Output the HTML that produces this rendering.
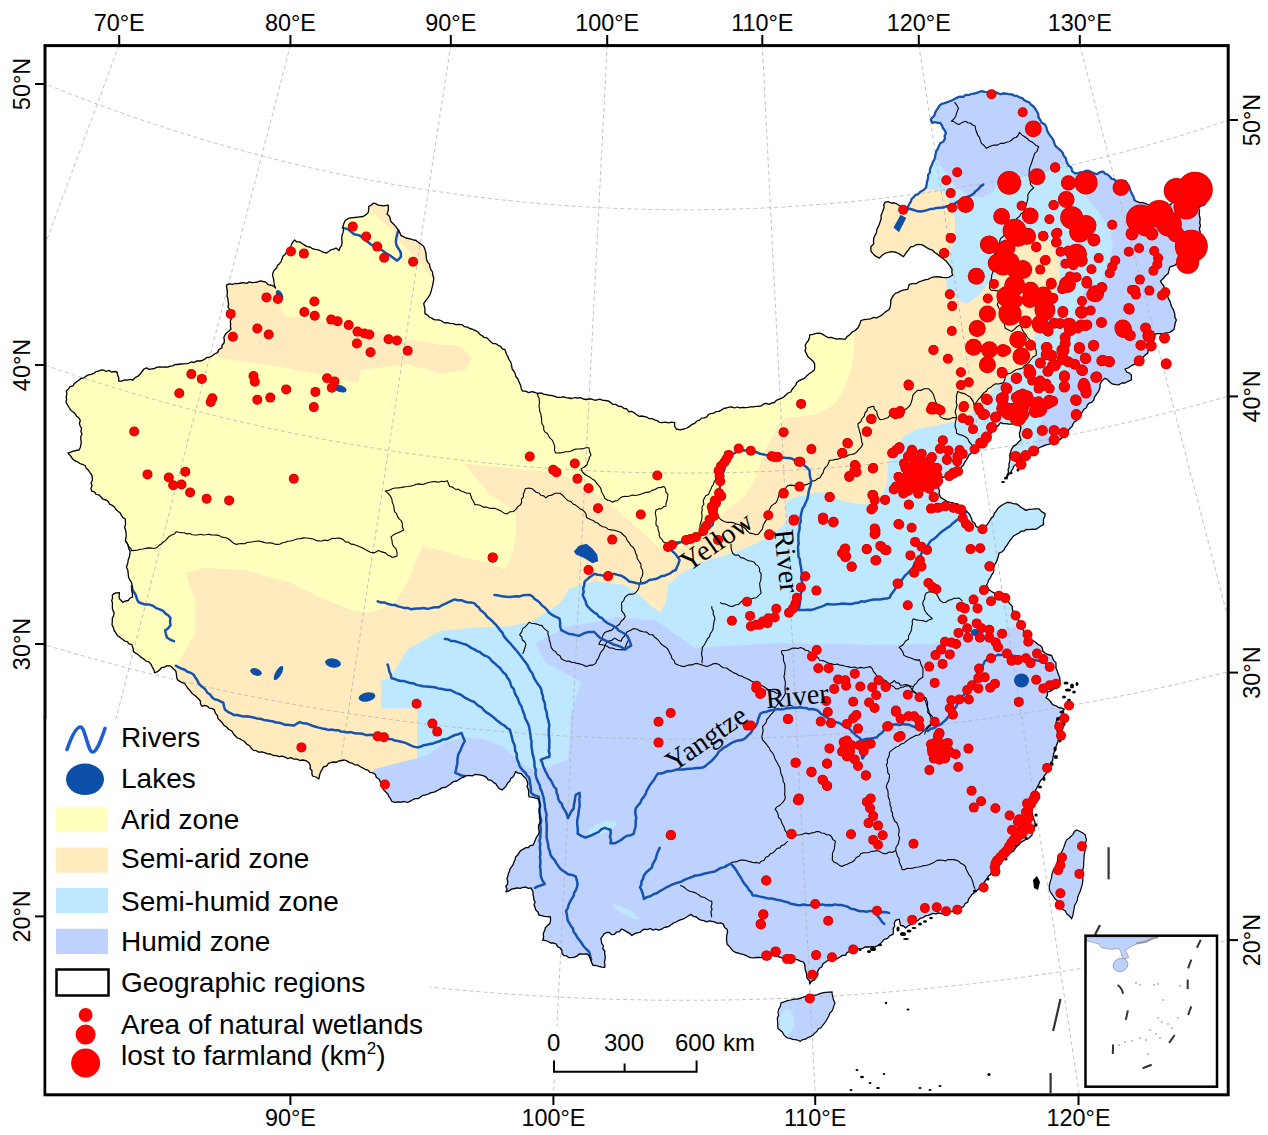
<!DOCTYPE html>
<html><head><meta charset="utf-8"><style>
html,body{margin:0;padding:0;background:#fff;}
svg{display:block;}
text{font-family:"Liberation Sans",sans-serif;}
.serif{font-family:"Liberation Serif",serif;}
</style></head><body>
<svg width="1268" height="1135" viewBox="0 0 1268 1135">
<defs><clipPath id="cn"><polygon points="66.3,391.0 68.3,389.1 70.0,386.7 73.0,385.9 74.5,383.4 76.7,381.7 79.0,380.0 81.2,378.4 83.9,377.9 86.1,376.1 88.5,374.9 91.2,374.3 93.7,373.4 95.9,371.7 98.6,371.2 101.0,370.0 103.7,370.1 106.2,371.5 109.1,370.3 111.6,372.2 114.4,371.5 117.0,372.0 117.6,375.0 118.8,377.9 118.7,381.0 121.6,381.2 124.4,380.0 127.3,380.1 130.1,379.3 133.0,380.0 135.0,377.6 138.0,376.2 140.2,374.0 142.1,371.5 144.0,369.0 146.5,367.9 149.3,369.3 151.9,368.9 154.5,368.5 157.1,367.2 159.7,366.8 162.4,367.1 165.0,367.0 167.7,367.2 170.2,366.1 172.8,365.9 175.2,364.5 177.9,364.5 180.5,364.0 183.3,363.9 186.0,363.7 188.8,363.3 191.3,361.8 194.2,362.5 196.8,360.9 199.6,361.0 202.3,360.5 204.6,359.1 206.8,357.5 209.6,357.1 212.0,356.0 214.5,354.0 217.5,352.6 219.0,349.4 222.0,348.0 222.0,345.3 224.0,343.0 224.4,340.3 223.8,337.5 225.0,335.0 226.7,332.7 229.0,331.0 231.0,329.0 230.4,326.4 230.7,323.8 230.2,321.2 231.4,318.6 231.0,316.0 229.3,313.2 229.8,309.7 228.0,307.0 228.6,304.2 228.1,301.5 227.9,298.7 227.0,296.0 227.4,293.2 227.3,290.5 226.7,287.8 226.5,285.0 229.3,283.8 232.3,284.4 235.2,283.5 238.1,283.6 241.0,283.0 243.7,282.7 246.6,283.4 249.2,281.9 252.0,282.7 254.8,282.4 257.5,282.0 260.2,280.9 263.0,281.5 265.9,282.1 268.0,284.6 271.0,285.0 273.6,286.1 275.7,288.0 274.5,285.5 274.0,282.9 273.8,280.2 273.2,277.6 272.5,275.0 273.1,272.3 274.4,270.0 276.6,268.1 277.4,265.6 279.5,263.7 281.1,261.6 282.0,259.0 283.0,256.2 285.2,254.3 286.6,251.8 288.8,249.8 290.6,247.6 291.4,244.7 292.7,242.1 294.7,240.0 296.8,241.9 300.0,241.9 302.2,243.7 304.6,245.1 307.0,246.6 310.0,247.0 312.5,248.7 315.3,249.4 318.3,249.8 321.0,251.0 323.6,252.4 326.5,253.0 328.7,251.5 330.9,249.8 333.6,249.2 336.0,248.0 339.1,250.6 339.9,247.8 341.6,245.5 342.1,242.4 341.7,239.1 341.9,236.0 342.9,232.9 343.6,229.8 342.9,226.6 343.9,223.3 345.4,220.3 347.8,218.7 350.5,217.8 354.3,217.5 358.0,217.1 363.1,216.5 365.8,214.9 368.1,212.7 368.8,209.6 368.8,206.4 371.3,205.2 373.2,203.2 375.9,203.7 378.2,205.1 383.3,205.8 388.3,205.1 388.3,210.2 387.1,214.0 389.6,216.5 390.9,221.5 393.5,224.0 395.9,226.6 398.4,230.4 399.9,232.8 400.9,235.4 403.4,236.7 406.0,238.0 411.0,239.2 413.5,240.0 416.1,240.5 418.5,242.6 421.1,244.3 423.6,246.3 424.9,249.3 425.8,252.4 426.2,255.6 426.4,258.8 427.4,261.9 429.4,264.1 430.0,267.0 430.9,269.7 432.5,272.0 432.8,275.2 433.8,278.3 433.3,282.1 432.5,285.9 431.2,290.9 430.0,294.7 428.2,297.3 426.2,299.8 423.7,303.6 424.9,308.6 424.9,313.7 427.4,314.8 429.2,317.0 431.7,318.1 434.0,319.6 436.7,319.8 439.4,320.0 441.9,321.2 444.2,322.8 447.0,322.7 450.0,323.4 453.0,323.7 455.9,324.7 459.0,324.3 462.0,324.6 464.4,326.7 467.4,327.1 469.9,328.5 472.8,329.3 475.4,330.6 478.0,332.0 479.7,334.2 482.0,335.6 484.0,337.4 487.0,337.9 488.9,339.9 490.8,341.8 492.9,343.6 495.9,343.7 498.2,345.3 500.6,346.4 502.4,348.9 505.0,349.7 506.6,354.5 508.1,356.8 508.8,359.4 510.5,361.6 511.4,364.1 511.8,366.8 512.4,369.5 514.2,371.7 515.3,374.1 516.0,376.7 517.8,378.7 518.8,381.2 519.8,383.6 520.8,386.0 521.3,388.7 522.5,391.0 525.7,391.1 528.6,392.6 531.9,391.7 535.0,392.5 537.7,393.7 540.8,392.8 543.5,394.1 546.3,394.7 549.1,395.4 552.0,395.5 554.8,396.3 557.6,397.3 560.5,397.3 563.4,396.8 566.2,397.7 569.0,398.0 571.9,398.5 574.8,397.5 577.6,398.2 580.5,397.6 583.3,399.0 586.1,399.5 589.0,399.0 591.7,399.0 594.3,400.1 597.0,400.0 599.7,399.1 602.3,400.2 605.0,400.5 608.0,400.9 610.6,402.4 612.9,404.4 616.1,404.4 618.5,406.3 621.6,406.5 624.0,408.4 626.9,409.0 628.7,411.6 631.9,411.5 634.4,412.9 636.7,414.7 639.0,416.3 641.9,416.0 644.4,416.6 647.0,417.2 649.4,418.7 652.1,418.7 654.6,419.8 657.1,420.6 659.3,422.3 662.0,422.7 665.2,422.1 668.4,422.9 671.5,422.2 674.7,422.7 674.6,426.1 676.3,429.0 680.1,429.9 684.0,429.0 687.0,428.0 689.6,426.4 691.9,424.3 694.8,423.3 697.0,421.0 699.5,420.1 701.5,418.1 704.3,417.8 706.8,416.9 708.5,414.3 711.0,413.5 713.9,413.2 716.0,411.6 718.8,411.3 721.3,410.1 723.7,408.5 726.4,408.0 729.0,407.1 731.8,406.8 734.4,408.0 737.3,407.0 740.0,407.9 742.6,407.4 745.3,407.7 748.0,407.4 750.6,406.9 753.3,406.8 755.9,406.3 758.7,406.4 761.3,405.9 763.7,404.0 766.3,403.3 769.2,404.3 771.7,403.0 774.4,402.5 776.3,400.4 778.7,399.3 781.2,398.3 783.8,397.0 785.9,395.0 788.0,393.0 790.8,392.0 792.0,389.5 793.7,387.4 795.6,385.4 796.6,382.8 798.7,380.9 801.5,379.7 804.4,378.4 806.6,376.1 809.1,373.8 811.9,372.0 814.5,369.8 814.7,366.6 814.5,363.4 812.8,360.9 810.5,359.0 808.2,357.1 806.6,353.9 805.0,350.8 805.9,348.2 805.2,345.3 806.6,342.8 808.4,340.5 809.4,337.8 809.8,334.9 813.0,334.4 816.1,333.3 819.4,333.2 822.5,334.1 825.3,336.0 828.3,337.6 831.3,337.3 834.0,338.4 836.8,339.1 839.6,338.6 842.5,339.2 845.3,339.1 847.1,336.6 849.6,334.8 852.0,332.1 855.2,330.5 857.8,328.0 859.5,324.9 860.9,320.6 864.4,319.5 868.0,319.2 870.9,318.8 873.5,317.4 876.5,317.8 879.4,316.5 882.2,314.9 885.1,312.1 889.3,309.2 890.3,306.5 890.7,303.6 890.7,300.7 891.9,297.8 893.6,295.1 895.6,293.1 898.4,292.4 900.7,290.8 904.2,289.8 907.8,289.4 909.2,284.4 912.7,283.7 916.3,283.7 918.9,281.8 922.0,280.9 924.8,279.8 927.8,279.3 930.5,278.0 933.3,277.1 936.2,276.6 939.4,277.0 942.5,277.4 945.7,277.7 948.9,277.3 952.5,275.2 951.9,272.3 952.0,269.3 950.4,266.7 948.3,263.8 946.1,261.0 943.3,258.8 940.4,256.7 937.7,254.4 934.7,252.5 932.8,250.3 930.2,249.3 927.6,248.2 923.4,245.4 919.9,244.3 916.3,244.7 913.7,246.3 910.6,246.8 908.6,249.7 906.3,252.5 903.5,256.7 899.2,253.9 896.5,252.5 893.6,251.8 890.7,251.7 887.9,252.5 884.8,253.4 882.2,255.3 879.4,258.1 876.5,256.7 874.3,255.1 872.5,253.1 870.9,251.0 870.9,246.8 873.7,243.9 873.5,241.1 873.7,238.3 874.9,235.4 876.5,232.6 876.8,229.5 878.2,226.9 879.4,224.1 880.3,221.3 881.2,218.5 881.0,215.4 882.2,212.7 883.1,210.1 884.1,207.5 883.8,204.6 885.1,202.1 888.2,201.7 891.0,203.0 894.1,202.9 897.0,204.0 899.6,205.8 902.5,207.0 904.3,209.1 907.0,210.0 908.0,207.1 909.0,204.3 910.7,201.8 911.7,198.9 913.6,197.1 915.4,195.1 918.0,194.2 920.4,191.7 923.4,190.1 926.0,187.8 926.5,185.2 926.8,182.5 927.6,179.9 928.0,177.3 928.2,174.7 929.9,172.4 929.9,169.7 930.7,167.2 932.0,164.8 932.7,162.2 934.3,159.8 935.0,157.2 935.5,154.5 936.0,151.6 937.6,149.2 938.7,146.6 940.1,143.4 943.3,141.6 945.0,138.7 944.5,136.0 945.9,133.4 945.0,130.7 943.0,128.3 941.9,125.4 940.3,122.8 937.6,122.8 935.0,122.2 932.3,122.8 930.7,119.6 932.4,117.4 934.4,115.5 935.2,112.6 936.5,110.2 938.2,108.0 939.5,105.6 941.8,103.8 944.5,103.2 947.0,102.2 949.6,101.3 952.1,100.4 954.5,99.0 957.2,97.6 960.0,96.6 963.2,96.9 965.7,94.9 968.8,95.0 971.3,93.9 973.9,93.6 976.5,92.9 979.0,92.1 981.5,91.1 984.7,91.9 987.8,92.0 991.0,91.1 994.3,91.8 997.4,92.9 1000.5,94.3 1003.3,93.4 1006.0,93.6 1008.8,94.2 1011.6,94.3 1014.1,95.6 1017.0,95.9 1019.5,97.4 1022.2,98.0 1024.1,100.1 1026.5,101.3 1029.0,102.2 1031.0,104.6 1033.5,106.5 1035.4,109.0 1037.0,111.7 1038.4,114.2 1038.4,117.2 1040.0,119.6 1041.6,122.8 1045.0,124.4 1046.5,127.6 1047.0,130.3 1048.2,132.6 1049.6,134.9 1051.3,137.0 1053.3,140.0 1054.4,143.4 1055.6,146.1 1057.7,148.0 1060.0,149.8 1062.5,152.5 1063.8,155.9 1065.7,157.9 1066.3,160.6 1067.2,163.1 1068.5,165.4 1071.3,167.5 1072.1,171.2 1074.9,173.3 1077.8,173.1 1080.6,172.4 1083.5,171.8 1086.2,170.7 1089.2,170.9 1091.7,172.4 1094.3,173.4 1097.1,174.1 1099.9,172.1 1103.4,171.7 1105.2,173.7 1107.8,174.7 1109.8,176.5 1111.4,178.7 1114.2,179.4 1116.1,181.2 1119.3,180.7 1122.4,180.7 1125.6,181.2 1127.1,183.4 1128.7,185.6 1129.7,188.1 1130.4,190.7 1132.0,193.9 1133.6,197.1 1134.8,200.7 1137.3,201.7 1139.8,202.6 1142.6,202.7 1145.2,203.4 1147.7,204.5 1150.0,206.0 1153.0,206.7 1156.0,205.3 1159.0,206.3 1162.0,206.1 1165.0,206.0 1167.6,205.2 1170.3,204.7 1172.3,202.6 1175.1,202.3 1177.5,201.0 1180.0,200.0 1182.9,199.0 1186.0,198.2 1188.9,197.1 1191.8,196.1 1195.0,196.0 1198.2,197.4 1201.6,197.6 1205.0,198.0 1206.0,203.0 1203.9,205.2 1200.8,206.0 1198.6,208.2 1199.6,210.9 1199.1,213.8 1199.6,216.5 1200.2,219.3 1199.7,222.5 1200.4,225.7 1199.4,228.8 1200.2,232.0 1198.4,234.4 1197.4,237.2 1196.4,240.1 1194.8,242.5 1193.5,245.2 1191.4,247.4 1190.0,250.0 1187.9,251.6 1186.3,253.7 1184.8,255.8 1183.4,258.1 1182.0,260.3 1180.0,262.0 1177.1,263.2 1174.8,265.3 1170.0,266.9 1168.9,270.0 1168.4,273.2 1165.8,275.4 1163.7,278.0 1160.5,281.1 1162.0,283.6 1163.7,285.9 1164.8,289.3 1166.9,292.2 1167.5,295.4 1168.4,298.6 1169.9,301.1 1170.7,303.8 1171.6,306.5 1173.0,309.0 1174.1,311.6 1174.8,314.4 1174.9,317.4 1176.4,320.0 1175.2,323.1 1174.6,326.3 1174.0,329.5 1171.7,331.1 1169.3,332.6 1166.4,332.9 1163.7,333.9 1160.7,333.6 1157.8,333.7 1155.0,334.2 1154.8,336.9 1154.0,339.4 1153.5,342.0 1151.1,344.8 1150.3,348.4 1148.1,350.1 1147.8,353.1 1145.6,354.7 1143.3,356.9 1142.0,359.7 1140.9,362.6 1137.6,363.1 1134.4,364.1 1131.4,365.7 1128.4,367.8 1125.0,369.0 1126.7,372.0 1129.4,373.1 1131.4,375.2 1131.4,380.0 1128.1,381.3 1125.0,383.0 1121.8,383.0 1118.9,384.8 1115.6,384.7 1112.1,383.9 1109.3,381.5 1107.4,379.3 1104.6,378.4 1101.5,381.5 1100.0,384.5 1100.0,387.8 1098.7,391.1 1096.7,394.0 1094.6,396.9 1093.6,400.4 1091.7,402.3 1089.0,403.1 1087.3,405.2 1086.4,407.8 1083.9,409.3 1082.5,411.5 1081.3,413.9 1079.2,415.6 1077.8,417.8 1076.9,420.4 1074.4,421.8 1073.0,424.0 1072.0,426.6 1069.9,428.3 1068.3,430.4 1067.3,433.2 1065.0,435.0 1063.1,436.8 1061.3,438.7 1058.9,439.9 1055.9,441.7 1052.6,443.0 1049.4,444.1 1046.1,444.9 1043.0,446.2 1039.8,447.5 1036.8,449.3 1034.2,450.3 1031.3,450.8 1028.9,452.5 1026.3,454.2 1024.0,456.2 1021.0,457.2 1019.2,459.4 1017.9,462.0 1016.5,464.3 1014.0,465.7 1013.0,468.3 1011.6,470.5 1010.6,473.0 1008.4,474.6 1006.8,477.7 1007.0,475.0 1008.5,472.4 1008.1,469.6 1009.2,467.0 1008.9,464.2 1009.7,461.5 1010.0,458.8 1009.7,455.5 1010.5,452.4 1011.5,449.3 1013.4,446.4 1016.3,444.6 1018.5,442.1 1021.0,439.9 1019.9,436.8 1019.4,433.6 1020.3,430.5 1021.0,427.3 1017.9,424.0 1014.7,423.7 1011.5,424.0 1008.7,424.1 1005.9,423.7 1003.1,423.7 1000.5,422.5 998.6,425.4 995.8,427.3 994.4,429.5 992.0,431.1 991.0,433.6 989.9,436.5 988.0,438.9 986.3,441.4 984.6,444.4 981.6,446.2 978.4,447.2 975.4,448.5 973.4,450.8 971.3,453.0 969.0,455.0 967.7,457.6 966.3,460.1 964.6,462.4 963.5,465.1 961.2,467.1 960.0,469.7 956.6,471.4 954.1,474.4 951.4,474.9 949.3,476.8 944.5,476.8 941.4,477.6 939.8,481.5 939.2,484.8 938.2,487.9 939.5,490.5 939.0,493.4 940.6,497.4 944.5,499.8 946.7,501.4 949.3,502.2 951.9,502.6 954.6,503.3 957.2,503.7 959.1,505.6 961.0,507.5 963.4,508.7 965.5,510.2 967.5,512.0 969.3,514.1 970.6,516.4 971.6,518.9 972.3,521.5 974.8,523.2 975.9,526.3 978.6,527.9 981.8,528.8 985.0,529.4 985.8,526.2 987.9,523.7 989.6,521.0 991.3,518.3 993.4,516.3 994.3,513.5 996.1,511.2 997.6,508.8 999.5,506.9 1001.7,505.3 1004.0,504.0 1006.8,502.5 1010.0,502.5 1013.2,503.7 1016.7,504.0 1019.0,505.6 1021.1,507.5 1023.6,508.9 1026.0,510.4 1029.1,509.3 1032.4,509.2 1035.6,508.9 1038.9,508.8 1041.6,511.6 1045.0,513.6 1044.9,516.4 1043.5,519.0 1043.4,521.9 1043.6,524.7 1040.8,526.0 1038.3,527.8 1035.7,529.4 1032.5,529.1 1029.2,529.7 1026.0,529.4 1024.0,531.2 1021.1,531.2 1019.1,533.1 1016.7,534.2 1013.9,535.7 1011.9,538.1 1010.0,540.5 1008.4,542.8 1007.1,545.3 1005.2,547.4 1004.0,550.0 1001.7,552.0 999.0,553.2 998.3,556.4 997.3,559.6 996.0,562.7 994.5,565.0 993.4,567.5 993.9,570.6 993.0,573.2 991.3,575.4 990.3,577.9 988.6,580.1 987.8,582.7 986.5,585.0 987.7,587.4 989.0,589.7 991.3,591.3 993.5,592.7 995.9,593.9 998.7,594.2 1000.8,596.0 1003.0,598.1 1005.2,600.2 1008.1,601.6 1010.0,604.0 1012.1,606.1 1012.4,609.2 1013.2,612.0 1015.1,614.3 1016.7,616.7 1018.4,619.0 1018.6,622.1 1020.8,624.2 1022.0,626.7 1023.0,629.4 1024.1,631.9 1025.8,634.1 1027.2,636.5 1028.8,638.7 1031.0,640.5 1033.8,641.0 1035.9,642.6 1038.0,644.5 1040.4,645.6 1042.2,647.7 1042.7,650.7 1044.6,652.7 1047.9,654.5 1051.6,655.5 1052.6,658.1 1053.8,660.6 1055.9,662.6 1056.0,665.5 1056.0,668.3 1057.3,671.0 1058.3,674.3 1059.7,677.4 1060.0,680.9 1058.6,684.4 1057.3,688.0 1054.5,688.3 1052.3,689.9 1050.0,691.4 1047.4,692.2 1047.4,695.2 1046.0,697.8 1048.3,699.2 1050.2,701.1 1051.6,703.4 1053.8,705.2 1056.5,706.0 1058.7,707.7 1061.5,708.2 1064.3,709.0 1062.8,711.6 1062.9,714.7 1060.3,717.1 1057.3,719.0 1056.3,721.7 1055.9,724.6 1056.9,728.0 1057.3,731.6 1058.2,735.1 1058.7,738.7 1057.9,741.5 1056.9,744.3 1055.9,747.0 1055.8,749.7 1054.2,751.9 1053.6,754.5 1053.0,757.0 1052.7,760.5 1050.3,763.4 1050.2,766.9 1047.6,769.2 1046.8,772.7 1044.6,775.3 1043.0,778.3 1040.4,780.7 1039.0,783.8 1037.6,786.6 1036.0,789.3 1034.7,792.2 1033.8,795.1 1033.4,798.0 1033.8,801.1 1032.9,803.9 1031.9,806.8 1032.0,809.8 1031.9,812.5 1032.6,815.0 1033.3,817.5 1034.1,820.0 1035.0,822.5 1035.1,825.8 1033.7,828.8 1032.4,831.8 1032.0,835.0 1030.1,837.0 1028.1,838.9 1025.4,839.7 1023.0,841.1 1020.6,842.4 1019.0,844.7 1016.6,846.5 1014.9,848.9 1013.3,851.5 1010.4,852.7 1008.1,854.4 1006.5,857.0 1004.4,859.1 1002.2,861.3 1000.7,864.0 998.3,865.9 995.8,867.7 993.8,870.0 991.7,871.8 990.8,874.4 988.4,876.0 987.1,878.4 985.6,880.5 984.0,882.7 982.5,885.0 980.0,886.3 978.9,888.9 976.7,890.5 974.7,892.3 972.3,894.2 970.5,896.6 968.6,898.9 967.8,902.1 965.0,903.7 963.7,906.5 961.2,907.8 958.9,909.5 955.8,909.6 953.6,911.5 950.4,911.6 947.4,912.4 944.7,914.1 941.5,913.7 938.4,912.8 936.0,913.9 933.2,913.3 930.7,914.3 928.3,915.3 925.4,915.9 923.1,917.5 920.3,918.3 918.2,920.4 914.8,921.9 911.9,924.2 908.5,925.6 905.6,928.0 903.5,926.0 900.6,925.4 899.8,922.3 899.3,919.1 895.5,920.4 894.3,923.0 894.7,926.0 893.2,928.6 893.4,931.5 893.0,934.3 889.9,935.7 887.6,938.4 884.2,939.3 882.3,941.6 880.3,943.8 877.9,945.6 874.8,946.8 871.6,946.6 868.4,947.0 865.2,946.9 862.9,948.3 860.3,948.8 857.5,948.6 855.3,950.4 852.6,950.7 849.9,951.6 847.2,952.4 845.4,955.3 842.4,955.4 840.0,957.0 837.3,958.6 834.4,959.5 831.5,960.3 828.2,960.3 825.6,962.0 823.0,963.7 821.9,966.8 819.3,968.4 817.7,971.4 817.8,975.0 816.0,978.0 814.1,980.2 811.2,981.4 809.8,984.0 809.4,980.7 807.0,978.0 806.6,974.7 806.1,972.1 805.2,969.7 805.0,967.0 804.7,964.4 803.4,962.0 800.3,961.1 797.3,959.7 794.1,959.0 790.8,958.9 788.0,959.0 785.2,958.8 782.5,958.1 779.9,957.1 777.2,956.3 774.5,955.5 771.7,955.7 768.7,956.0 765.8,956.8 763.0,957.7 759.8,957.5 756.6,957.4 753.5,957.9 750.3,957.7 747.9,956.5 745.6,955.4 743.1,954.4 740.6,953.8 738.1,953.0 735.5,952.4 732.8,950.8 731.0,948.4 729.1,946.2 727.0,944.0 726.7,941.0 726.5,938.1 726.8,935.1 727.6,932.2 727.0,929.2 724.6,927.4 723.4,924.4 720.7,922.8 717.8,923.3 715.0,922.2 712.3,921.4 709.5,920.9 706.5,921.9 703.8,920.7 701.0,920.1 698.4,918.9 696.2,916.8 693.3,916.3 691.1,914.4 688.6,915.8 686.2,917.3 683.8,918.8 681.0,919.6 678.4,920.7 676.0,922.0 673.5,923.0 671.3,924.6 669.1,926.3 666.5,927.0 663.8,927.7 661.5,929.2 658.7,930.1 655.9,929.2 653.0,930.1 650.2,928.5 647.4,929.7 644.6,929.2 642.0,930.4 639.8,932.4 636.9,932.9 634.2,933.8 631.9,935.5 629.6,933.3 626.9,931.9 624.3,930.2 621.3,929.2 619.5,931.6 616.4,932.2 614.4,934.4 611.6,934.6 609.4,932.5 606.7,932.5 604.1,933.8 602.6,936.1 600.9,938.3 601.3,940.9 601.8,943.6 603.5,945.9 602.8,948.8 604.8,951.0 604.7,953.8 605.2,956.5 605.1,959.2 604.4,962.0 604.9,964.7 604.7,967.4 601.8,967.1 598.9,966.4 596.1,965.5 593.1,965.4 591.2,961.6 590.4,958.7 589.2,956.1 587.3,953.8 583.4,954.2 579.5,953.8 577.3,955.8 574.7,957.1 571.8,957.7 569.0,957.7 566.7,955.9 564.0,955.7 562.1,953.5 561.9,950.4 560.2,948.0 557.6,946.7 556.3,944.1 553.7,943.0 550.7,943.0 548.2,941.5 545.5,940.5 542.7,940.2 543.6,937.0 543.3,933.6 544.7,930.5 545.4,927.7 547.4,925.6 549.7,923.7 550.5,920.9 550.5,917.0 547.6,916.6 544.6,916.4 541.7,915.6 538.8,915.0 538.1,912.2 535.8,910.1 535.0,907.3 534.0,904.8 535.1,902.0 533.9,899.6 533.6,897.0 533.0,894.4 533.0,891.8 531.1,887.9 528.4,888.4 525.7,887.2 522.9,887.4 520.2,888.3 517.5,887.9 514.5,888.5 511.5,889.1 508.8,891.0 505.9,891.8 507.1,889.3 505.8,886.5 507.5,884.1 507.8,881.5 507.0,878.8 507.8,876.3 508.4,873.7 509.4,871.3 510.1,868.8 511.7,866.6 513.2,864.4 514.0,861.9 515.1,859.5 515.6,856.9 517.7,855.1 519.1,852.7 520.8,850.5 523.3,849.1 525.6,847.7 528.3,847.7 530.3,845.4 533.0,845.3 534.2,843.0 535.0,840.5 536.1,838.1 537.4,835.8 538.8,833.6 539.1,830.9 538.5,828.1 538.6,825.3 540.0,822.6 540.0,819.8 539.4,817.0 539.8,814.3 539.1,811.2 539.6,808.1 540.0,804.9 539.5,801.9 538.8,798.8 535.5,798.2 532.4,797.2 529.1,796.8 528.5,794.2 528.8,791.6 528.2,789.0 527.0,786.6 527.8,783.8 527.2,781.3 525.8,778.3 523.3,776.2 521.4,773.6 518.3,773.2 515.6,771.6 514.5,774.2 513.2,776.7 510.7,778.6 509.8,781.3 507.5,783.2 506.2,785.9 504.2,788.1 502.0,790.0 499.4,788.7 497.5,786.5 495.9,783.9 493.4,782.4 491.4,780.4 488.2,779.8 486.5,777.4 483.8,775.9 480.9,775.2 477.9,774.7 474.9,774.5 472.2,775.9 468.9,775.3 466.0,775.8 463.3,777.4 460.8,778.2 458.6,779.7 456.4,781.2 453.7,781.5 451.6,783.1 449.5,784.7 447.3,786.3 445.0,787.5 442.2,787.6 440.0,789.1 437.1,790.6 434.2,792.1 431.0,792.6 428.5,794.0 425.8,794.9 422.9,795.3 420.5,797.0 418.1,798.7 415.0,798.7 412.4,800.0 409.9,801.3 407.3,802.5 404.3,801.5 401.1,802.2 398.0,802.0 394.8,802.3 391.8,801.3 390.5,798.7 388.8,796.4 387.7,793.7 385.5,791.8 383.4,789.6 382.8,786.8 381.5,784.2 380.2,781.6 379.0,779.0 376.4,777.5 375.3,774.5 372.8,772.8 369.9,772.3 367.8,770.1 365.0,769.3 362.5,767.9 360.0,766.5 357.6,764.9 354.6,764.8 352.2,763.2 349.4,762.6 347.0,760.9 344.3,760.0 341.6,760.5 338.9,760.8 336.5,762.4 333.7,762.0 331.0,762.5 328.4,763.3 326.8,766.0 323.5,766.9 322.0,769.6 320.4,772.5 319.4,775.7 318.9,779.0 315.9,777.0 312.5,776.0 311.9,773.5 312.0,770.7 310.0,768.5 310.4,765.7 309.4,763.3 306.6,760.9 303.0,760.0 299.9,760.5 296.9,759.1 293.8,759.1 291.0,757.7 287.8,758.6 285.0,757.2 282.2,756.1 279.1,756.6 276.2,755.6 273.2,755.5 270.4,754.0 267.4,753.8 264.6,752.7 261.7,751.9 258.6,752.1 256.4,750.7 253.5,750.4 251.5,748.5 249.6,745.8 246.6,744.1 244.5,741.5 242.2,740.2 239.9,738.8 237.4,738.0 233.9,734.5 231.9,731.2 228.6,729.2 226.6,727.0 223.9,725.4 222.3,722.8 220.3,720.7 218.1,718.6 217.3,715.5 215.2,712.9 214.5,709.8 212.2,708.6 209.5,708.2 207.5,706.3 204.8,705.4 202.2,706.3 200.5,703.9 200.4,701.0 197.9,698.3 195.2,695.7 192.1,693.5 189.9,690.4 187.8,688.3 186.2,685.8 184.6,683.4 182.0,682.6 179.7,681.4 177.5,679.8 176.6,676.9 176.4,673.9 175.8,671.0 172.2,667.5 169.9,665.8 167.0,665.7 164.5,667.1 161.7,667.5 159.7,669.7 157.5,671.7 154.6,672.8 153.9,669.8 152.4,667.3 151.2,664.6 149.3,662.2 146.0,661.0 143.4,658.8 140.5,656.9 138.4,654.9 135.9,653.3 133.5,651.6 133.0,648.0 131.7,644.6 129.1,643.9 127.4,641.6 124.7,641.1 122.4,639.2 120.1,637.4 117.6,635.8 116.0,633.1 114.1,630.5 113.4,627.6 112.0,624.8 112.3,621.7 112.3,618.6 113.5,615.8 114.1,612.9 112.5,609.5 112.3,605.8 112.5,603.1 111.7,600.5 112.6,597.9 112.3,595.2 114.1,593.5 116.7,592.9 119.4,592.6 119.1,595.7 119.4,598.8 122.9,602.3 125.4,601.0 128.2,600.5 130.0,598.2 132.6,597.0 132.4,593.5 131.7,590.0 132.3,586.5 131.7,582.9 130.0,580.2 128.6,577.3 128.2,574.1 127.9,570.4 126.4,567.0 127.7,563.6 128.2,560.0 129.3,557.0 129.9,554.0 130.0,550.8 128.7,548.4 128.4,545.6 127.1,543.2 125.4,541.0 125.9,538.2 126.2,535.5 126.1,532.8 125.5,530.0 124.6,527.2 125.6,524.5 125.4,521.8 125.4,519.0 122.9,517.7 121.4,515.4 120.2,512.9 118.0,511.2 116.0,509.5 114.5,507.0 112.3,505.4 109.6,504.2 108.3,501.6 106.0,500.0 103.1,499.2 101.0,497.0 99.0,494.9 96.1,494.3 94.5,491.8 91.7,491.0 90.9,488.3 92.1,485.7 91.0,483.0 92.4,480.3 92.3,477.7 91.7,475.0 90.0,472.6 88.4,470.2 86.3,468.2 85.0,465.5 82.4,464.4 79.8,463.5 77.5,461.8 74.9,460.9 72.7,459.0 70.5,455.9 68.0,453.0 70.7,452.2 73.4,451.2 76.2,450.5 79.0,450.0 80.3,447.5 80.8,444.8 81.3,442.2 80.8,439.3 80.8,436.5 82.0,434.0 80.9,431.4 81.6,428.5 80.2,426.0 79.4,423.5 80.3,420.5 79.0,418.0 76.7,416.3 75.3,413.9 73.2,412.1 70.9,410.4 69.5,408.0 67.6,405.1 66.0,402.0 66.6,399.3 66.2,396.5 66.9,393.8"/><polygon points="778.0,1012.8 778.6,1009.4 780.4,1006.4 781.0,1003.0 784.2,1001.9 787.5,1000.7 790.8,1000.0 793.9,999.1 797.2,999.1 800.4,998.4 803.4,997.0 806.0,996.2 808.6,995.6 811.3,995.1 814.1,995.3 816.8,994.9 819.3,993.8 822.4,992.9 825.6,992.4 828.8,992.2 832.0,992.0 832.3,994.9 833.0,997.6 833.6,1000.4 835.0,1003.0 833.9,1005.6 833.1,1008.5 831.9,1011.1 829.7,1013.2 828.8,1016.0 827.4,1018.5 826.0,1021.0 824.3,1023.3 822.5,1025.5 821.0,1027.8 818.3,1028.9 816.9,1031.3 814.9,1033.1 813.0,1035.0 810.6,1036.7 807.9,1037.5 805.5,1039.1 802.6,1039.6 800.3,1041.4 797.9,1040.2 795.3,1039.7 792.7,1039.3 790.2,1038.4 787.6,1038.0 785.3,1036.6 783.6,1034.4 782.2,1032.0 780.2,1030.3 778.0,1028.7 777.7,1026.0 777.8,1023.4 777.5,1020.8 777.3,1018.1 778.6,1015.4"/><polygon points="1049.4,889.1 1049.2,886.0 1049.9,883.1 1050.8,880.2 1051.6,877.3 1051.9,874.3 1052.8,871.8 1053.7,869.2 1055.5,867.1 1056.6,864.6 1057.4,862.0 1057.8,859.3 1059.3,857.0 1060.7,854.7 1061.6,852.1 1062.8,849.8 1063.8,847.3 1064.7,844.7 1065.5,842.2 1066.7,839.8 1069.0,838.2 1071.0,836.3 1073.0,834.3 1074.3,831.7 1076.5,829.9 1079.6,831.2 1082.5,832.8 1085.2,834.8 1086.4,839.8 1085.7,842.6 1085.0,845.4 1085.6,848.5 1084.9,851.3 1084.3,854.1 1084.0,857.0 1084.0,859.8 1083.6,862.5 1083.7,865.2 1083.3,868.0 1082.6,870.7 1082.8,873.4 1082.3,876.2 1083.0,879.0 1082.7,881.7 1082.2,884.9 1081.2,888.0 1080.3,891.1 1079.0,894.1 1077.7,896.9 1077.4,900.1 1076.0,903.0 1074.5,905.8 1074.1,908.9 1073.4,912.2 1072.8,915.6 1071.6,918.8 1069.5,915.9 1066.7,913.8 1065.4,910.9 1062.5,909.3 1061.5,906.2 1059.3,904.0 1058.0,901.1 1055.4,899.2 1053.6,896.7 1051.9,894.1 1050.3,891.8"/></clipPath>
<clipPath id="frame"><rect x="45" y="45" width="1183" height="1049"/></clipPath></defs>
<rect width="1268" height="1135" fill="#fff"/>

<polygon points="66.3,391.0 68.3,389.1 70.0,386.7 73.0,385.9 74.5,383.4 76.7,381.7 79.0,380.0 81.2,378.4 83.9,377.9 86.1,376.1 88.5,374.9 91.2,374.3 93.7,373.4 95.9,371.7 98.6,371.2 101.0,370.0 103.7,370.1 106.2,371.5 109.1,370.3 111.6,372.2 114.4,371.5 117.0,372.0 117.6,375.0 118.8,377.9 118.7,381.0 121.6,381.2 124.4,380.0 127.3,380.1 130.1,379.3 133.0,380.0 135.0,377.6 138.0,376.2 140.2,374.0 142.1,371.5 144.0,369.0 146.5,367.9 149.3,369.3 151.9,368.9 154.5,368.5 157.1,367.2 159.7,366.8 162.4,367.1 165.0,367.0 167.7,367.2 170.2,366.1 172.8,365.9 175.2,364.5 177.9,364.5 180.5,364.0 183.3,363.9 186.0,363.7 188.8,363.3 191.3,361.8 194.2,362.5 196.8,360.9 199.6,361.0 202.3,360.5 204.6,359.1 206.8,357.5 209.6,357.1 212.0,356.0 214.5,354.0 217.5,352.6 219.0,349.4 222.0,348.0 222.0,345.3 224.0,343.0 224.4,340.3 223.8,337.5 225.0,335.0 226.7,332.7 229.0,331.0 231.0,329.0 230.4,326.4 230.7,323.8 230.2,321.2 231.4,318.6 231.0,316.0 229.3,313.2 229.8,309.7 228.0,307.0 228.6,304.2 228.1,301.5 227.9,298.7 227.0,296.0 227.4,293.2 227.3,290.5 226.7,287.8 226.5,285.0 229.3,283.8 232.3,284.4 235.2,283.5 238.1,283.6 241.0,283.0 243.7,282.7 246.6,283.4 249.2,281.9 252.0,282.7 254.8,282.4 257.5,282.0 260.2,280.9 263.0,281.5 265.9,282.1 268.0,284.6 271.0,285.0 273.6,286.1 275.7,288.0 274.5,285.5 274.0,282.9 273.8,280.2 273.2,277.6 272.5,275.0 273.1,272.3 274.4,270.0 276.6,268.1 277.4,265.6 279.5,263.7 281.1,261.6 282.0,259.0 283.0,256.2 285.2,254.3 286.6,251.8 288.8,249.8 290.6,247.6 291.4,244.7 292.7,242.1 294.7,240.0 296.8,241.9 300.0,241.9 302.2,243.7 304.6,245.1 307.0,246.6 310.0,247.0 312.5,248.7 315.3,249.4 318.3,249.8 321.0,251.0 323.6,252.4 326.5,253.0 328.7,251.5 330.9,249.8 333.6,249.2 336.0,248.0 339.1,250.6 339.9,247.8 341.6,245.5 342.1,242.4 341.7,239.1 341.9,236.0 342.9,232.9 343.6,229.8 342.9,226.6 343.9,223.3 345.4,220.3 347.8,218.7 350.5,217.8 354.3,217.5 358.0,217.1 363.1,216.5 365.8,214.9 368.1,212.7 368.8,209.6 368.8,206.4 371.3,205.2 373.2,203.2 375.9,203.7 378.2,205.1 383.3,205.8 388.3,205.1 388.3,210.2 387.1,214.0 389.6,216.5 390.9,221.5 393.5,224.0 395.9,226.6 398.4,230.4 399.9,232.8 400.9,235.4 403.4,236.7 406.0,238.0 411.0,239.2 413.5,240.0 416.1,240.5 418.5,242.6 421.1,244.3 423.6,246.3 424.9,249.3 425.8,252.4 426.2,255.6 426.4,258.8 427.4,261.9 429.4,264.1 430.0,267.0 430.9,269.7 432.5,272.0 432.8,275.2 433.8,278.3 433.3,282.1 432.5,285.9 431.2,290.9 430.0,294.7 428.2,297.3 426.2,299.8 423.7,303.6 424.9,308.6 424.9,313.7 427.4,314.8 429.2,317.0 431.7,318.1 434.0,319.6 436.7,319.8 439.4,320.0 441.9,321.2 444.2,322.8 447.0,322.7 450.0,323.4 453.0,323.7 455.9,324.7 459.0,324.3 462.0,324.6 464.4,326.7 467.4,327.1 469.9,328.5 472.8,329.3 475.4,330.6 478.0,332.0 479.7,334.2 482.0,335.6 484.0,337.4 487.0,337.9 488.9,339.9 490.8,341.8 492.9,343.6 495.9,343.7 498.2,345.3 500.6,346.4 502.4,348.9 505.0,349.7 506.6,354.5 508.1,356.8 508.8,359.4 510.5,361.6 511.4,364.1 511.8,366.8 512.4,369.5 514.2,371.7 515.3,374.1 516.0,376.7 517.8,378.7 518.8,381.2 519.8,383.6 520.8,386.0 521.3,388.7 522.5,391.0 525.7,391.1 528.6,392.6 531.9,391.7 535.0,392.5 537.7,393.7 540.8,392.8 543.5,394.1 546.3,394.7 549.1,395.4 552.0,395.5 554.8,396.3 557.6,397.3 560.5,397.3 563.4,396.8 566.2,397.7 569.0,398.0 571.9,398.5 574.8,397.5 577.6,398.2 580.5,397.6 583.3,399.0 586.1,399.5 589.0,399.0 591.7,399.0 594.3,400.1 597.0,400.0 599.7,399.1 602.3,400.2 605.0,400.5 608.0,400.9 610.6,402.4 612.9,404.4 616.1,404.4 618.5,406.3 621.6,406.5 624.0,408.4 626.9,409.0 628.7,411.6 631.9,411.5 634.4,412.9 636.7,414.7 639.0,416.3 641.9,416.0 644.4,416.6 647.0,417.2 649.4,418.7 652.1,418.7 654.6,419.8 657.1,420.6 659.3,422.3 662.0,422.7 665.2,422.1 668.4,422.9 671.5,422.2 674.7,422.7 674.6,426.1 676.3,429.0 680.1,429.9 684.0,429.0 687.0,428.0 689.6,426.4 691.9,424.3 694.8,423.3 697.0,421.0 699.5,420.1 701.5,418.1 704.3,417.8 706.8,416.9 708.5,414.3 711.0,413.5 713.9,413.2 716.0,411.6 718.8,411.3 721.3,410.1 723.7,408.5 726.4,408.0 729.0,407.1 731.8,406.8 734.4,408.0 737.3,407.0 740.0,407.9 742.6,407.4 745.3,407.7 748.0,407.4 750.6,406.9 753.3,406.8 755.9,406.3 758.7,406.4 761.3,405.9 763.7,404.0 766.3,403.3 769.2,404.3 771.7,403.0 774.4,402.5 776.3,400.4 778.7,399.3 781.2,398.3 783.8,397.0 785.9,395.0 788.0,393.0 790.8,392.0 792.0,389.5 793.7,387.4 795.6,385.4 796.6,382.8 798.7,380.9 801.5,379.7 804.4,378.4 806.6,376.1 809.1,373.8 811.9,372.0 814.5,369.8 814.7,366.6 814.5,363.4 812.8,360.9 810.5,359.0 808.2,357.1 806.6,353.9 805.0,350.8 805.9,348.2 805.2,345.3 806.6,342.8 808.4,340.5 809.4,337.8 809.8,334.9 813.0,334.4 816.1,333.3 819.4,333.2 822.5,334.1 825.3,336.0 828.3,337.6 831.3,337.3 834.0,338.4 836.8,339.1 839.6,338.6 842.5,339.2 845.3,339.1 847.1,336.6 849.6,334.8 852.0,332.1 855.2,330.5 857.8,328.0 859.5,324.9 860.9,320.6 864.4,319.5 868.0,319.2 870.9,318.8 873.5,317.4 876.5,317.8 879.4,316.5 882.2,314.9 885.1,312.1 889.3,309.2 890.3,306.5 890.7,303.6 890.7,300.7 891.9,297.8 893.6,295.1 895.6,293.1 898.4,292.4 900.7,290.8 904.2,289.8 907.8,289.4 909.2,284.4 912.7,283.7 916.3,283.7 918.9,281.8 922.0,280.9 924.8,279.8 927.8,279.3 930.5,278.0 933.3,277.1 936.2,276.6 939.4,277.0 942.5,277.4 945.7,277.7 948.9,277.3 952.5,275.2 951.9,272.3 952.0,269.3 950.4,266.7 948.3,263.8 946.1,261.0 943.3,258.8 940.4,256.7 937.7,254.4 934.7,252.5 932.8,250.3 930.2,249.3 927.6,248.2 923.4,245.4 919.9,244.3 916.3,244.7 913.7,246.3 910.6,246.8 908.6,249.7 906.3,252.5 903.5,256.7 899.2,253.9 896.5,252.5 893.6,251.8 890.7,251.7 887.9,252.5 884.8,253.4 882.2,255.3 879.4,258.1 876.5,256.7 874.3,255.1 872.5,253.1 870.9,251.0 870.9,246.8 873.7,243.9 873.5,241.1 873.7,238.3 874.9,235.4 876.5,232.6 876.8,229.5 878.2,226.9 879.4,224.1 880.3,221.3 881.2,218.5 881.0,215.4 882.2,212.7 883.1,210.1 884.1,207.5 883.8,204.6 885.1,202.1 888.2,201.7 891.0,203.0 894.1,202.9 897.0,204.0 899.6,205.8 902.5,207.0 904.3,209.1 907.0,210.0 908.0,207.1 909.0,204.3 910.7,201.8 911.7,198.9 913.6,197.1 915.4,195.1 918.0,194.2 920.4,191.7 923.4,190.1 926.0,187.8 926.5,185.2 926.8,182.5 927.6,179.9 928.0,177.3 928.2,174.7 929.9,172.4 929.9,169.7 930.7,167.2 932.0,164.8 932.7,162.2 934.3,159.8 935.0,157.2 935.5,154.5 936.0,151.6 937.6,149.2 938.7,146.6 940.1,143.4 943.3,141.6 945.0,138.7 944.5,136.0 945.9,133.4 945.0,130.7 943.0,128.3 941.9,125.4 940.3,122.8 937.6,122.8 935.0,122.2 932.3,122.8 930.7,119.6 932.4,117.4 934.4,115.5 935.2,112.6 936.5,110.2 938.2,108.0 939.5,105.6 941.8,103.8 944.5,103.2 947.0,102.2 949.6,101.3 952.1,100.4 954.5,99.0 957.2,97.6 960.0,96.6 963.2,96.9 965.7,94.9 968.8,95.0 971.3,93.9 973.9,93.6 976.5,92.9 979.0,92.1 981.5,91.1 984.7,91.9 987.8,92.0 991.0,91.1 994.3,91.8 997.4,92.9 1000.5,94.3 1003.3,93.4 1006.0,93.6 1008.8,94.2 1011.6,94.3 1014.1,95.6 1017.0,95.9 1019.5,97.4 1022.2,98.0 1024.1,100.1 1026.5,101.3 1029.0,102.2 1031.0,104.6 1033.5,106.5 1035.4,109.0 1037.0,111.7 1038.4,114.2 1038.4,117.2 1040.0,119.6 1041.6,122.8 1045.0,124.4 1046.5,127.6 1047.0,130.3 1048.2,132.6 1049.6,134.9 1051.3,137.0 1053.3,140.0 1054.4,143.4 1055.6,146.1 1057.7,148.0 1060.0,149.8 1062.5,152.5 1063.8,155.9 1065.7,157.9 1066.3,160.6 1067.2,163.1 1068.5,165.4 1071.3,167.5 1072.1,171.2 1074.9,173.3 1077.8,173.1 1080.6,172.4 1083.5,171.8 1086.2,170.7 1089.2,170.9 1091.7,172.4 1094.3,173.4 1097.1,174.1 1099.9,172.1 1103.4,171.7 1105.2,173.7 1107.8,174.7 1109.8,176.5 1111.4,178.7 1114.2,179.4 1116.1,181.2 1119.3,180.7 1122.4,180.7 1125.6,181.2 1127.1,183.4 1128.7,185.6 1129.7,188.1 1130.4,190.7 1132.0,193.9 1133.6,197.1 1134.8,200.7 1137.3,201.7 1139.8,202.6 1142.6,202.7 1145.2,203.4 1147.7,204.5 1150.0,206.0 1153.0,206.7 1156.0,205.3 1159.0,206.3 1162.0,206.1 1165.0,206.0 1167.6,205.2 1170.3,204.7 1172.3,202.6 1175.1,202.3 1177.5,201.0 1180.0,200.0 1182.9,199.0 1186.0,198.2 1188.9,197.1 1191.8,196.1 1195.0,196.0 1198.2,197.4 1201.6,197.6 1205.0,198.0 1206.0,203.0 1203.9,205.2 1200.8,206.0 1198.6,208.2 1199.6,210.9 1199.1,213.8 1199.6,216.5 1200.2,219.3 1199.7,222.5 1200.4,225.7 1199.4,228.8 1200.2,232.0 1198.4,234.4 1197.4,237.2 1196.4,240.1 1194.8,242.5 1193.5,245.2 1191.4,247.4 1190.0,250.0 1187.9,251.6 1186.3,253.7 1184.8,255.8 1183.4,258.1 1182.0,260.3 1180.0,262.0 1177.1,263.2 1174.8,265.3 1170.0,266.9 1168.9,270.0 1168.4,273.2 1165.8,275.4 1163.7,278.0 1160.5,281.1 1162.0,283.6 1163.7,285.9 1164.8,289.3 1166.9,292.2 1167.5,295.4 1168.4,298.6 1169.9,301.1 1170.7,303.8 1171.6,306.5 1173.0,309.0 1174.1,311.6 1174.8,314.4 1174.9,317.4 1176.4,320.0 1175.2,323.1 1174.6,326.3 1174.0,329.5 1171.7,331.1 1169.3,332.6 1166.4,332.9 1163.7,333.9 1160.7,333.6 1157.8,333.7 1155.0,334.2 1154.8,336.9 1154.0,339.4 1153.5,342.0 1151.1,344.8 1150.3,348.4 1148.1,350.1 1147.8,353.1 1145.6,354.7 1143.3,356.9 1142.0,359.7 1140.9,362.6 1137.6,363.1 1134.4,364.1 1131.4,365.7 1128.4,367.8 1125.0,369.0 1126.7,372.0 1129.4,373.1 1131.4,375.2 1131.4,380.0 1128.1,381.3 1125.0,383.0 1121.8,383.0 1118.9,384.8 1115.6,384.7 1112.1,383.9 1109.3,381.5 1107.4,379.3 1104.6,378.4 1101.5,381.5 1100.0,384.5 1100.0,387.8 1098.7,391.1 1096.7,394.0 1094.6,396.9 1093.6,400.4 1091.7,402.3 1089.0,403.1 1087.3,405.2 1086.4,407.8 1083.9,409.3 1082.5,411.5 1081.3,413.9 1079.2,415.6 1077.8,417.8 1076.9,420.4 1074.4,421.8 1073.0,424.0 1072.0,426.6 1069.9,428.3 1068.3,430.4 1067.3,433.2 1065.0,435.0 1063.1,436.8 1061.3,438.7 1058.9,439.9 1055.9,441.7 1052.6,443.0 1049.4,444.1 1046.1,444.9 1043.0,446.2 1039.8,447.5 1036.8,449.3 1034.2,450.3 1031.3,450.8 1028.9,452.5 1026.3,454.2 1024.0,456.2 1021.0,457.2 1019.2,459.4 1017.9,462.0 1016.5,464.3 1014.0,465.7 1013.0,468.3 1011.6,470.5 1010.6,473.0 1008.4,474.6 1006.8,477.7 1007.0,475.0 1008.5,472.4 1008.1,469.6 1009.2,467.0 1008.9,464.2 1009.7,461.5 1010.0,458.8 1009.7,455.5 1010.5,452.4 1011.5,449.3 1013.4,446.4 1016.3,444.6 1018.5,442.1 1021.0,439.9 1019.9,436.8 1019.4,433.6 1020.3,430.5 1021.0,427.3 1017.9,424.0 1014.7,423.7 1011.5,424.0 1008.7,424.1 1005.9,423.7 1003.1,423.7 1000.5,422.5 998.6,425.4 995.8,427.3 994.4,429.5 992.0,431.1 991.0,433.6 989.9,436.5 988.0,438.9 986.3,441.4 984.6,444.4 981.6,446.2 978.4,447.2 975.4,448.5 973.4,450.8 971.3,453.0 969.0,455.0 967.7,457.6 966.3,460.1 964.6,462.4 963.5,465.1 961.2,467.1 960.0,469.7 956.6,471.4 954.1,474.4 951.4,474.9 949.3,476.8 944.5,476.8 941.4,477.6 939.8,481.5 939.2,484.8 938.2,487.9 939.5,490.5 939.0,493.4 940.6,497.4 944.5,499.8 946.7,501.4 949.3,502.2 951.9,502.6 954.6,503.3 957.2,503.7 959.1,505.6 961.0,507.5 963.4,508.7 965.5,510.2 967.5,512.0 969.3,514.1 970.6,516.4 971.6,518.9 972.3,521.5 974.8,523.2 975.9,526.3 978.6,527.9 981.8,528.8 985.0,529.4 985.8,526.2 987.9,523.7 989.6,521.0 991.3,518.3 993.4,516.3 994.3,513.5 996.1,511.2 997.6,508.8 999.5,506.9 1001.7,505.3 1004.0,504.0 1006.8,502.5 1010.0,502.5 1013.2,503.7 1016.7,504.0 1019.0,505.6 1021.1,507.5 1023.6,508.9 1026.0,510.4 1029.1,509.3 1032.4,509.2 1035.6,508.9 1038.9,508.8 1041.6,511.6 1045.0,513.6 1044.9,516.4 1043.5,519.0 1043.4,521.9 1043.6,524.7 1040.8,526.0 1038.3,527.8 1035.7,529.4 1032.5,529.1 1029.2,529.7 1026.0,529.4 1024.0,531.2 1021.1,531.2 1019.1,533.1 1016.7,534.2 1013.9,535.7 1011.9,538.1 1010.0,540.5 1008.4,542.8 1007.1,545.3 1005.2,547.4 1004.0,550.0 1001.7,552.0 999.0,553.2 998.3,556.4 997.3,559.6 996.0,562.7 994.5,565.0 993.4,567.5 993.9,570.6 993.0,573.2 991.3,575.4 990.3,577.9 988.6,580.1 987.8,582.7 986.5,585.0 987.7,587.4 989.0,589.7 991.3,591.3 993.5,592.7 995.9,593.9 998.7,594.2 1000.8,596.0 1003.0,598.1 1005.2,600.2 1008.1,601.6 1010.0,604.0 1012.1,606.1 1012.4,609.2 1013.2,612.0 1015.1,614.3 1016.7,616.7 1018.4,619.0 1018.6,622.1 1020.8,624.2 1022.0,626.7 1023.0,629.4 1024.1,631.9 1025.8,634.1 1027.2,636.5 1028.8,638.7 1031.0,640.5 1033.8,641.0 1035.9,642.6 1038.0,644.5 1040.4,645.6 1042.2,647.7 1042.7,650.7 1044.6,652.7 1047.9,654.5 1051.6,655.5 1052.6,658.1 1053.8,660.6 1055.9,662.6 1056.0,665.5 1056.0,668.3 1057.3,671.0 1058.3,674.3 1059.7,677.4 1060.0,680.9 1058.6,684.4 1057.3,688.0 1054.5,688.3 1052.3,689.9 1050.0,691.4 1047.4,692.2 1047.4,695.2 1046.0,697.8 1048.3,699.2 1050.2,701.1 1051.6,703.4 1053.8,705.2 1056.5,706.0 1058.7,707.7 1061.5,708.2 1064.3,709.0 1062.8,711.6 1062.9,714.7 1060.3,717.1 1057.3,719.0 1056.3,721.7 1055.9,724.6 1056.9,728.0 1057.3,731.6 1058.2,735.1 1058.7,738.7 1057.9,741.5 1056.9,744.3 1055.9,747.0 1055.8,749.7 1054.2,751.9 1053.6,754.5 1053.0,757.0 1052.7,760.5 1050.3,763.4 1050.2,766.9 1047.6,769.2 1046.8,772.7 1044.6,775.3 1043.0,778.3 1040.4,780.7 1039.0,783.8 1037.6,786.6 1036.0,789.3 1034.7,792.2 1033.8,795.1 1033.4,798.0 1033.8,801.1 1032.9,803.9 1031.9,806.8 1032.0,809.8 1031.9,812.5 1032.6,815.0 1033.3,817.5 1034.1,820.0 1035.0,822.5 1035.1,825.8 1033.7,828.8 1032.4,831.8 1032.0,835.0 1030.1,837.0 1028.1,838.9 1025.4,839.7 1023.0,841.1 1020.6,842.4 1019.0,844.7 1016.6,846.5 1014.9,848.9 1013.3,851.5 1010.4,852.7 1008.1,854.4 1006.5,857.0 1004.4,859.1 1002.2,861.3 1000.7,864.0 998.3,865.9 995.8,867.7 993.8,870.0 991.7,871.8 990.8,874.4 988.4,876.0 987.1,878.4 985.6,880.5 984.0,882.7 982.5,885.0 980.0,886.3 978.9,888.9 976.7,890.5 974.7,892.3 972.3,894.2 970.5,896.6 968.6,898.9 967.8,902.1 965.0,903.7 963.7,906.5 961.2,907.8 958.9,909.5 955.8,909.6 953.6,911.5 950.4,911.6 947.4,912.4 944.7,914.1 941.5,913.7 938.4,912.8 936.0,913.9 933.2,913.3 930.7,914.3 928.3,915.3 925.4,915.9 923.1,917.5 920.3,918.3 918.2,920.4 914.8,921.9 911.9,924.2 908.5,925.6 905.6,928.0 903.5,926.0 900.6,925.4 899.8,922.3 899.3,919.1 895.5,920.4 894.3,923.0 894.7,926.0 893.2,928.6 893.4,931.5 893.0,934.3 889.9,935.7 887.6,938.4 884.2,939.3 882.3,941.6 880.3,943.8 877.9,945.6 874.8,946.8 871.6,946.6 868.4,947.0 865.2,946.9 862.9,948.3 860.3,948.8 857.5,948.6 855.3,950.4 852.6,950.7 849.9,951.6 847.2,952.4 845.4,955.3 842.4,955.4 840.0,957.0 837.3,958.6 834.4,959.5 831.5,960.3 828.2,960.3 825.6,962.0 823.0,963.7 821.9,966.8 819.3,968.4 817.7,971.4 817.8,975.0 816.0,978.0 814.1,980.2 811.2,981.4 809.8,984.0 809.4,980.7 807.0,978.0 806.6,974.7 806.1,972.1 805.2,969.7 805.0,967.0 804.7,964.4 803.4,962.0 800.3,961.1 797.3,959.7 794.1,959.0 790.8,958.9 788.0,959.0 785.2,958.8 782.5,958.1 779.9,957.1 777.2,956.3 774.5,955.5 771.7,955.7 768.7,956.0 765.8,956.8 763.0,957.7 759.8,957.5 756.6,957.4 753.5,957.9 750.3,957.7 747.9,956.5 745.6,955.4 743.1,954.4 740.6,953.8 738.1,953.0 735.5,952.4 732.8,950.8 731.0,948.4 729.1,946.2 727.0,944.0 726.7,941.0 726.5,938.1 726.8,935.1 727.6,932.2 727.0,929.2 724.6,927.4 723.4,924.4 720.7,922.8 717.8,923.3 715.0,922.2 712.3,921.4 709.5,920.9 706.5,921.9 703.8,920.7 701.0,920.1 698.4,918.9 696.2,916.8 693.3,916.3 691.1,914.4 688.6,915.8 686.2,917.3 683.8,918.8 681.0,919.6 678.4,920.7 676.0,922.0 673.5,923.0 671.3,924.6 669.1,926.3 666.5,927.0 663.8,927.7 661.5,929.2 658.7,930.1 655.9,929.2 653.0,930.1 650.2,928.5 647.4,929.7 644.6,929.2 642.0,930.4 639.8,932.4 636.9,932.9 634.2,933.8 631.9,935.5 629.6,933.3 626.9,931.9 624.3,930.2 621.3,929.2 619.5,931.6 616.4,932.2 614.4,934.4 611.6,934.6 609.4,932.5 606.7,932.5 604.1,933.8 602.6,936.1 600.9,938.3 601.3,940.9 601.8,943.6 603.5,945.9 602.8,948.8 604.8,951.0 604.7,953.8 605.2,956.5 605.1,959.2 604.4,962.0 604.9,964.7 604.7,967.4 601.8,967.1 598.9,966.4 596.1,965.5 593.1,965.4 591.2,961.6 590.4,958.7 589.2,956.1 587.3,953.8 583.4,954.2 579.5,953.8 577.3,955.8 574.7,957.1 571.8,957.7 569.0,957.7 566.7,955.9 564.0,955.7 562.1,953.5 561.9,950.4 560.2,948.0 557.6,946.7 556.3,944.1 553.7,943.0 550.7,943.0 548.2,941.5 545.5,940.5 542.7,940.2 543.6,937.0 543.3,933.6 544.7,930.5 545.4,927.7 547.4,925.6 549.7,923.7 550.5,920.9 550.5,917.0 547.6,916.6 544.6,916.4 541.7,915.6 538.8,915.0 538.1,912.2 535.8,910.1 535.0,907.3 534.0,904.8 535.1,902.0 533.9,899.6 533.6,897.0 533.0,894.4 533.0,891.8 531.1,887.9 528.4,888.4 525.7,887.2 522.9,887.4 520.2,888.3 517.5,887.9 514.5,888.5 511.5,889.1 508.8,891.0 505.9,891.8 507.1,889.3 505.8,886.5 507.5,884.1 507.8,881.5 507.0,878.8 507.8,876.3 508.4,873.7 509.4,871.3 510.1,868.8 511.7,866.6 513.2,864.4 514.0,861.9 515.1,859.5 515.6,856.9 517.7,855.1 519.1,852.7 520.8,850.5 523.3,849.1 525.6,847.7 528.3,847.7 530.3,845.4 533.0,845.3 534.2,843.0 535.0,840.5 536.1,838.1 537.4,835.8 538.8,833.6 539.1,830.9 538.5,828.1 538.6,825.3 540.0,822.6 540.0,819.8 539.4,817.0 539.8,814.3 539.1,811.2 539.6,808.1 540.0,804.9 539.5,801.9 538.8,798.8 535.5,798.2 532.4,797.2 529.1,796.8 528.5,794.2 528.8,791.6 528.2,789.0 527.0,786.6 527.8,783.8 527.2,781.3 525.8,778.3 523.3,776.2 521.4,773.6 518.3,773.2 515.6,771.6 514.5,774.2 513.2,776.7 510.7,778.6 509.8,781.3 507.5,783.2 506.2,785.9 504.2,788.1 502.0,790.0 499.4,788.7 497.5,786.5 495.9,783.9 493.4,782.4 491.4,780.4 488.2,779.8 486.5,777.4 483.8,775.9 480.9,775.2 477.9,774.7 474.9,774.5 472.2,775.9 468.9,775.3 466.0,775.8 463.3,777.4 460.8,778.2 458.6,779.7 456.4,781.2 453.7,781.5 451.6,783.1 449.5,784.7 447.3,786.3 445.0,787.5 442.2,787.6 440.0,789.1 437.1,790.6 434.2,792.1 431.0,792.6 428.5,794.0 425.8,794.9 422.9,795.3 420.5,797.0 418.1,798.7 415.0,798.7 412.4,800.0 409.9,801.3 407.3,802.5 404.3,801.5 401.1,802.2 398.0,802.0 394.8,802.3 391.8,801.3 390.5,798.7 388.8,796.4 387.7,793.7 385.5,791.8 383.4,789.6 382.8,786.8 381.5,784.2 380.2,781.6 379.0,779.0 376.4,777.5 375.3,774.5 372.8,772.8 369.9,772.3 367.8,770.1 365.0,769.3 362.5,767.9 360.0,766.5 357.6,764.9 354.6,764.8 352.2,763.2 349.4,762.6 347.0,760.9 344.3,760.0 341.6,760.5 338.9,760.8 336.5,762.4 333.7,762.0 331.0,762.5 328.4,763.3 326.8,766.0 323.5,766.9 322.0,769.6 320.4,772.5 319.4,775.7 318.9,779.0 315.9,777.0 312.5,776.0 311.9,773.5 312.0,770.7 310.0,768.5 310.4,765.7 309.4,763.3 306.6,760.9 303.0,760.0 299.9,760.5 296.9,759.1 293.8,759.1 291.0,757.7 287.8,758.6 285.0,757.2 282.2,756.1 279.1,756.6 276.2,755.6 273.2,755.5 270.4,754.0 267.4,753.8 264.6,752.7 261.7,751.9 258.6,752.1 256.4,750.7 253.5,750.4 251.5,748.5 249.6,745.8 246.6,744.1 244.5,741.5 242.2,740.2 239.9,738.8 237.4,738.0 233.9,734.5 231.9,731.2 228.6,729.2 226.6,727.0 223.9,725.4 222.3,722.8 220.3,720.7 218.1,718.6 217.3,715.5 215.2,712.9 214.5,709.8 212.2,708.6 209.5,708.2 207.5,706.3 204.8,705.4 202.2,706.3 200.5,703.9 200.4,701.0 197.9,698.3 195.2,695.7 192.1,693.5 189.9,690.4 187.8,688.3 186.2,685.8 184.6,683.4 182.0,682.6 179.7,681.4 177.5,679.8 176.6,676.9 176.4,673.9 175.8,671.0 172.2,667.5 169.9,665.8 167.0,665.7 164.5,667.1 161.7,667.5 159.7,669.7 157.5,671.7 154.6,672.8 153.9,669.8 152.4,667.3 151.2,664.6 149.3,662.2 146.0,661.0 143.4,658.8 140.5,656.9 138.4,654.9 135.9,653.3 133.5,651.6 133.0,648.0 131.7,644.6 129.1,643.9 127.4,641.6 124.7,641.1 122.4,639.2 120.1,637.4 117.6,635.8 116.0,633.1 114.1,630.5 113.4,627.6 112.0,624.8 112.3,621.7 112.3,618.6 113.5,615.8 114.1,612.9 112.5,609.5 112.3,605.8 112.5,603.1 111.7,600.5 112.6,597.9 112.3,595.2 114.1,593.5 116.7,592.9 119.4,592.6 119.1,595.7 119.4,598.8 122.9,602.3 125.4,601.0 128.2,600.5 130.0,598.2 132.6,597.0 132.4,593.5 131.7,590.0 132.3,586.5 131.7,582.9 130.0,580.2 128.6,577.3 128.2,574.1 127.9,570.4 126.4,567.0 127.7,563.6 128.2,560.0 129.3,557.0 129.9,554.0 130.0,550.8 128.7,548.4 128.4,545.6 127.1,543.2 125.4,541.0 125.9,538.2 126.2,535.5 126.1,532.8 125.5,530.0 124.6,527.2 125.6,524.5 125.4,521.8 125.4,519.0 122.9,517.7 121.4,515.4 120.2,512.9 118.0,511.2 116.0,509.5 114.5,507.0 112.3,505.4 109.6,504.2 108.3,501.6 106.0,500.0 103.1,499.2 101.0,497.0 99.0,494.9 96.1,494.3 94.5,491.8 91.7,491.0 90.9,488.3 92.1,485.7 91.0,483.0 92.4,480.3 92.3,477.7 91.7,475.0 90.0,472.6 88.4,470.2 86.3,468.2 85.0,465.5 82.4,464.4 79.8,463.5 77.5,461.8 74.9,460.9 72.7,459.0 70.5,455.9 68.0,453.0 70.7,452.2 73.4,451.2 76.2,450.5 79.0,450.0 80.3,447.5 80.8,444.8 81.3,442.2 80.8,439.3 80.8,436.5 82.0,434.0 80.9,431.4 81.6,428.5 80.2,426.0 79.4,423.5 80.3,420.5 79.0,418.0 76.7,416.3 75.3,413.9 73.2,412.1 70.9,410.4 69.5,408.0 67.6,405.1 66.0,402.0 66.6,399.3 66.2,396.5 66.9,393.8" fill="#FFFFBE"/>
<polygon points="778.0,1012.8 778.6,1009.4 780.4,1006.4 781.0,1003.0 784.2,1001.9 787.5,1000.7 790.8,1000.0 793.9,999.1 797.2,999.1 800.4,998.4 803.4,997.0 806.0,996.2 808.6,995.6 811.3,995.1 814.1,995.3 816.8,994.9 819.3,993.8 822.4,992.9 825.6,992.4 828.8,992.2 832.0,992.0 832.3,994.9 833.0,997.6 833.6,1000.4 835.0,1003.0 833.9,1005.6 833.1,1008.5 831.9,1011.1 829.7,1013.2 828.8,1016.0 827.4,1018.5 826.0,1021.0 824.3,1023.3 822.5,1025.5 821.0,1027.8 818.3,1028.9 816.9,1031.3 814.9,1033.1 813.0,1035.0 810.6,1036.7 807.9,1037.5 805.5,1039.1 802.6,1039.6 800.3,1041.4 797.9,1040.2 795.3,1039.7 792.7,1039.3 790.2,1038.4 787.6,1038.0 785.3,1036.6 783.6,1034.4 782.2,1032.0 780.2,1030.3 778.0,1028.7 777.7,1026.0 777.8,1023.4 777.5,1020.8 777.3,1018.1 778.6,1015.4" fill="#BED2FF"/>
<polygon points="1049.4,889.1 1049.2,886.0 1049.9,883.1 1050.8,880.2 1051.6,877.3 1051.9,874.3 1052.8,871.8 1053.7,869.2 1055.5,867.1 1056.6,864.6 1057.4,862.0 1057.8,859.3 1059.3,857.0 1060.7,854.7 1061.6,852.1 1062.8,849.8 1063.8,847.3 1064.7,844.7 1065.5,842.2 1066.7,839.8 1069.0,838.2 1071.0,836.3 1073.0,834.3 1074.3,831.7 1076.5,829.9 1079.6,831.2 1082.5,832.8 1085.2,834.8 1086.4,839.8 1085.7,842.6 1085.0,845.4 1085.6,848.5 1084.9,851.3 1084.3,854.1 1084.0,857.0 1084.0,859.8 1083.6,862.5 1083.7,865.2 1083.3,868.0 1082.6,870.7 1082.8,873.4 1082.3,876.2 1083.0,879.0 1082.7,881.7 1082.2,884.9 1081.2,888.0 1080.3,891.1 1079.0,894.1 1077.7,896.9 1077.4,900.1 1076.0,903.0 1074.5,905.8 1074.1,908.9 1073.4,912.2 1072.8,915.6 1071.6,918.8 1069.5,915.9 1066.7,913.8 1065.4,910.9 1062.5,909.3 1061.5,906.2 1059.3,904.0 1058.0,901.1 1055.4,899.2 1053.6,896.7 1051.9,894.1 1050.3,891.8" fill="#BED2FF"/>
<g clip-path="url(#cn)">
<polygon points="226.0,280.0 270.0,280.0 275.0,288.0 278.0,300.0 284.0,316.0 314.0,320.0 345.0,326.0 377.0,332.0 409.0,339.0 440.0,345.0 459.0,345.0 472.0,358.0 465.0,370.0 440.0,374.0 409.0,364.0 361.0,370.0 358.0,383.0 330.0,377.0 282.0,367.0 238.0,361.0 218.0,358.0 210.0,330.0 220.0,300.0" fill="#FFEBBE"/>
<polygon points="365.0,200.0 368.8,206.4 375.7,215.2 382.0,221.5 388.3,226.6 393.4,231.6 397.2,238.0 400.9,243.0 408.5,250.6 416.1,258.1 422.4,265.7 428.7,273.3 433.8,282.1 440.0,290.0 445.0,200.0" fill="#FFEBBE"/>
<polygon points="170.0,700.0 179.0,662.0 195.0,633.0 195.0,601.0 185.6,573.0 204.7,568.0 242.7,569.8 290.0,582.5 322.0,598.0 353.8,611.0 371.7,612.5 394.6,603.3 408.3,580.4 417.5,557.5 422.1,546.0 440.4,550.6 463.3,557.5 486.2,562.1 504.6,569.0 511.4,557.5 516.0,534.6 516.0,516.2 509.2,507.1 490.8,495.6 479.4,481.9 467.9,468.1 463.3,463.5 486.2,465.8 509.2,468.1 532.1,470.4 560.0,472.7 589.0,490.0 617.0,510.0 640.0,530.0 656.0,545.6 672.0,553.5 695.5,537.7 715.0,525.7 724.4,512.0 736.0,502.5 744.5,496.0 753.0,483.4 758.2,470.8 762.5,458.0 766.7,446.4 773.0,436.0 777.3,425.3 786.0,418.0 795.5,417.4 816.0,414.2 832.0,406.3 841.5,395.2 847.9,379.3 852.6,363.4 854.2,347.6 854.2,330.0 860.0,300.0 880.0,190.0 940.0,150.0 1250.0,150.0 1250.0,1100.0 170.0,1100.0" fill="#FFEBBE"/>
<polygon points="420.0,1100.0 417.0,760.0 417.0,708.4 381.0,708.4 381.0,680.0 390.0,678.0 408.0,649.0 440.0,631.0 475.0,627.4 509.0,626.2 532.0,621.6 560.0,603.3 569.0,589.0 593.0,581.0 624.5,585.0 640.0,595.0 652.0,607.0 660.0,612.0 666.0,602.0 668.0,585.0 680.0,574.0 699.0,563.0 720.0,556.5 736.0,551.7 751.7,545.4 764.4,539.0 773.9,534.3 783.4,524.8 786.6,520.0 785.7,502.5 792.0,498.2 800.0,496.1 820.0,492.0 844.0,501.5 864.4,504.7 880.3,498.3 886.6,485.6 888.2,463.4 894.5,447.6 905.6,434.9 918.3,428.5 937.3,425.4 958.0,420.6 972.2,412.7 978.6,406.3 983.3,400.0 1000.0,382.0 1009.0,377.0 1018.0,370.0 1030.0,364.0 1034.0,358.0 1036.0,349.0 1034.0,337.0 1039.0,325.0 1048.0,310.0 1054.0,295.0 1059.7,278.0 1059.5,262.0 1057.6,257.5 1051.8,242.0 1036.0,236.2 1020.8,242.0 1007.0,257.5 997.5,273.0 986.0,286.6 978.0,296.0 966.5,304.0 959.0,300.0 947.0,288.5 945.0,273.0 949.0,257.5 955.0,238.0 955.0,219.0 951.0,205.0 943.0,191.0 925.0,189.0 915.0,180.0 915.0,150.0 1250.0,150.0 1250.0,1100.0" fill="#BEE8FF"/>
<polygon points="340.0,800.0 375.0,769.0 398.0,763.0 426.0,756.0 445.0,742.5 464.0,737.0 483.0,739.0 502.0,746.0 517.0,759.5 530.0,769.0 549.0,767.0 568.0,759.5 570.0,737.0 570.0,718.0 578.0,691.0 581.0,682.0 545.0,662.0 535.5,643.0 557.0,632.0 565.0,627.0 597.0,622.0 617.0,617.0 636.0,619.0 656.0,620.5 672.0,632.0 695.0,648.0 774.0,643.0 880.0,645.0 930.0,644.0 970.0,635.0 1010.0,628.0 1023.0,625.0 1040.0,620.0 1100.0,600.0 1100.0,1100.0 340.0,1100.0" fill="#BED2FF"/>
<polygon points="920.0,85.0 1225.0,85.0 1225.0,480.0 1034.0,450.0 1039.0,430.0 1043.0,415.0 1049.0,403.0 1057.0,389.0 1066.0,376.0 1072.0,361.0 1076.0,343.0 1078.0,325.0 1081.0,302.0 1086.0,285.0 1100.0,285.0 1108.0,268.0 1113.0,246.0 1110.0,230.0 1100.0,214.0 1084.0,193.0 1068.0,163.0 1046.0,171.0 1030.0,172.5 1014.0,182.0 997.0,185.0 993.6,191.6 982.0,197.4 968.4,195.5 955.0,185.8 949.7,179.2 933.6,155.0 920.0,150.0" fill="#BED2FF"/>
<ellipse cx="787" cy="1022" rx="7" ry="13" fill="#BEE8FF"/>
<ellipse cx="602" cy="828" rx="15" ry="5.5" transform="rotate(-20 602 828)" fill="#BEE8FF"/>
<ellipse cx="626" cy="912" rx="15" ry="3" transform="rotate(28 626 912)" fill="#BEE8FF"/>
</g>
<g clip-path="url(#frame)" fill="none" stroke="#b4b4b4" stroke-width="0.8" stroke-dasharray="4,3">
<line x1="119.2" y1="45" x2="-272.4" y2="1100"/>
<line x1="290.4" y1="45" x2="17.2" y2="1100"/>
<line x1="450.8" y1="45" x2="288.6" y2="1100"/>
<line x1="607.2" y1="45" x2="553.1" y2="1100"/>
<line x1="762.3" y1="45" x2="815.5" y2="1100"/>
<line x1="918.8" y1="45" x2="1080.2" y2="1100"/>
<line x1="1079.8" y1="45" x2="1352.6" y2="1100"/>
<circle cx="685.4" cy="-1480.5" r="1690.3"/>
<circle cx="685.4" cy="-1480.5" r="1953.6"/>
<circle cx="685.4" cy="-1480.5" r="2219.7"/>
<circle cx="685.4" cy="-1480.5" r="2480.8"/>
</g>
<polyline points="125.4,541.0 127.4,543.2 128.1,546.2 130.6,548.1 131.7,550.8 134.5,550.4 137.3,550.2 140.1,549.2 142.9,549.0 145.7,548.4 148.5,547.9 151.4,548.1 154.3,548.5 157.0,547.6 158.8,545.5 161.2,544.0 163.2,542.2 165.5,540.6 167.3,538.4 169.2,536.4 171.6,535.0 174.4,534.1 176.0,531.7 178.7,532.3 181.4,532.6 184.2,532.8 186.8,533.9 189.7,533.5 192.3,534.7 195.0,535.0 197.7,535.0 200.4,534.3 203.1,535.0 205.9,534.7 208.6,534.2 211.3,534.9 214.0,535.0 216.7,535.1 219.3,535.6 221.7,537.1 224.3,537.5 226.9,538.0 229.4,539.5 231.5,541.5 233.7,543.3 236.4,544.4 239.1,543.8 242.0,543.6 244.8,543.7 247.4,542.3 250.3,542.2 253.0,541.8 255.8,541.2 258.6,541.0 261.3,541.6 263.9,542.4 266.6,543.0 269.5,542.8 272.2,543.1 274.8,544.3 277.6,544.4 280.2,544.0 282.6,542.7 285.2,542.3 287.7,541.3 290.3,541.0 292.9,540.5 295.4,539.5 298.0,538.8 300.7,538.6 303.3,537.9 306.0,538.0 308.7,538.2 311.4,538.7 314.1,539.2 316.5,540.7 319.3,540.9 322.0,541.0 324.6,540.1 327.5,540.6 330.0,539.5 332.5,538.2 335.3,538.5 338.0,538.0 340.9,538.4 343.4,539.8 345.6,541.9 348.5,542.3 350.9,544.1 353.8,544.4 356.5,545.6 359.2,546.6 362.0,547.7 364.6,549.0 367.1,550.6 370.4,552.2 374.0,552.9 378.5,550.6 381.9,551.9 385.4,552.9 387.4,554.9 390.0,555.9 392.3,557.5 396.9,556.3 397.1,553.5 396.7,550.9 395.7,548.3 393.5,546.4 392.3,543.7 392.0,540.3 391.1,536.9 393.5,534.8 396.4,533.6 399.2,532.3 403.7,530.0 402.4,527.1 402.4,523.8 401.4,520.8 399.2,518.9 397.5,516.6 396.6,513.7 394.6,511.7 394.1,508.6 393.6,505.4 392.3,502.5 391.8,498.8 390.0,495.6 387.9,493.1 385.4,491.0 389.0,490.3 392.3,488.7 394.9,488.0 397.6,487.9 400.3,487.7 402.9,487.1 405.6,486.8 408.3,486.5 410.9,486.0 413.6,485.5 416.0,484.3 418.7,483.9 421.5,484.4 424.2,484.1 426.7,483.0 429.6,482.2 432.5,481.7 435.5,481.6 438.5,482.3 441.4,481.3 444.4,481.8 447.3,480.7 448.5,483.6 449.6,486.5 452.7,487.1 455.1,489.1 458.4,489.3 461.0,491.0 464.0,492.1 466.9,493.3 470.2,493.3 471.0,496.3 472.0,499.2 473.8,501.9 474.8,504.8 477.8,504.7 480.6,505.5 483.2,507.1 486.2,507.1 489.0,508.1 491.9,508.4 494.9,508.4 497.7,509.4 500.8,510.9 503.6,512.9 506.9,514.0 509.7,511.9 513.3,511.5 516.0,509.4 517.8,506.6 520.6,504.8 521.7,502.2 521.4,499.2 523.4,496.9 523.4,494.0 524.5,491.4 525.2,488.7 528.7,488.0 532.1,488.7 534.2,490.5 536.2,492.4 539.1,493.0 540.9,495.3 543.8,495.9 545.8,497.9 548.5,495.7 552.1,495.1 555.0,493.3 560.0,493.3 562.9,495.5 565.2,498.2 567.6,500.4 570.8,501.5 573.0,504.0 575.6,505.1 577.8,506.9 579.9,508.7 582.5,509.9 584.6,511.8 586.1,514.5 586.5,517.6 590.4,519.5 593.1,520.4 595.4,522.2 598.0,523.2 600.1,525.3 602.7,526.7 605.6,527.2 607.9,529.2 611.1,529.9 614.4,530.2 617.6,531.2 620.9,532.5 623.4,535.0 625.9,537.1 627.2,540.3 629.2,542.8 630.9,545.6 633.5,547.7 635.0,550.6 635.6,553.2 637.0,555.6 637.0,558.3 639.0,561.2 640.9,564.1 641.0,567.4 642.7,570.5 642.8,573.8 642.1,576.5 640.6,579.1 640.8,582.1 639.2,584.6 638.9,587.4 637.5,590.7 635.0,593.2 632.5,594.2 629.8,594.1 627.3,595.2 624.9,597.4 623.7,600.5 621.5,602.9 621.6,605.5 621.8,608.1 621.5,610.7 623.8,613.3 625.3,616.5 623.6,619.3 621.0,621.4 619.5,624.3 616.9,626.1 614.0,627.7 611.8,630.1 608.3,631.1 604.8,632.4 603.3,634.6 602.3,637.1 601.6,639.7 600.0,641.8 598.8,644.2 601.6,644.7 604.4,645.3 607.2,646.3 609.7,648.0 612.6,648.1 615.5,649.3 618.4,649.8 621.5,649.6 624.5,650.0 625.1,647.4 626.2,645.1 627.1,642.6 628.4,640.3" fill="none" stroke="#000" stroke-width="1.1" stroke-linejoin="round"/>
<polyline points="522.7,628.5 525.3,626.9 527.3,624.7 529.0,622.2 531.4,623.3 534.1,623.5 536.7,624.1 539.1,625.1 541.8,625.4 543.5,627.9 545.8,629.8 548.1,631.7 547.9,634.5 549.0,637.0 549.2,639.8 550.1,642.3 550.7,645.0 551.3,647.6 553.1,650.1 555.6,651.8 557.3,654.3 560.0,655.8 561.3,658.7 564.0,660.3 566.5,661.3 569.2,661.1 571.6,662.4 574.2,662.5 576.7,663.4 580.1,663.9 583.2,665.0 586.2,666.6 589.3,665.4 592.8,665.1 595.7,663.4 596.6,660.7 598.3,658.4 599.4,655.8 600.3,653.1 602.0,650.8 603.9,648.6 604.9,645.8 606.2,643.2 608.4,641.2 611.8,640.2 614.7,638.1 617.7,640.0 621.1,641.2 622.1,638.4 624.2,636.4 625.6,633.9 627.4,631.7 630.7,630.3 633.8,628.5 637.1,629.3 640.0,630.9 643.3,631.7 646.7,632.1 649.4,634.5 652.8,634.9 654.7,637.2 657.1,639.0 659.1,641.2 660.7,643.5 662.7,645.3 665.1,646.7 667.2,648.4 668.7,650.8 669.8,653.4 671.3,655.8 672.0,658.6 674.2,660.6 675.0,663.4 678.0,665.0 681.2,666.1 684.5,666.6 686.9,665.5 689.5,664.9 692.2,664.9 694.6,663.7 697.2,663.4 700.4,664.4 703.5,665.6 706.7,666.6 709.8,665.4 712.8,663.9 716.2,663.4 718.9,664.4 721.1,666.4 723.6,667.7 726.6,668.0 728.9,669.8 731.3,671.3 733.7,672.9 736.4,673.7 738.7,675.5 741.6,676.1 744.1,677.5 746.7,678.6 749.3,679.8 751.7,681.3 754.3,682.5 756.7,684.0 759.0,685.7 762.2,685.8 764.6,687.3 767.0,688.8 769.2,690.4 771.7,691.2 774.4,691.7 776.6,693.2 779.4,693.5 781.5,695.2" fill="none" stroke="#000" stroke-width="1.1" stroke-linejoin="round"/>
<polyline points="522.7,628.5 521.7,631.9 519.6,634.9 521.8,636.9 522.3,640.0 524.8,641.7 525.9,644.4 525.0,647.6 524.0,650.8 522.7,653.9" fill="none" stroke="#000" stroke-width="1.1" stroke-linejoin="round"/>
<polyline points="537.7,392.5 537.7,395.2 539.0,397.9 539.3,400.6 539.4,403.3 539.0,406.1 539.6,408.8 539.7,411.5 540.9,413.9 541.1,416.5 541.7,419.0 541.6,421.7 542.2,424.3 543.8,426.6 543.6,429.3 544.8,431.9 547.4,433.5 548.7,436.1 550.3,438.4 552.5,440.4 553.5,443.1 554.8,446.3 554.5,449.8 555.5,453.0 558.8,452.9 562.1,452.7 565.3,451.8 568.4,451.8 571.4,451.0 574.2,449.4 577.2,449.0 580.2,448.9 583.1,448.7 586.0,447.7 589.0,447.8 589.6,451.5 591.0,455.0 589.4,457.2 588.9,459.8 587.6,462.2 587.0,464.8 584.2,467.0 581.0,468.7 582.5,472.0 585.0,474.6 587.6,475.9 590.1,477.3 592.4,479.2 594.9,480.6 596.7,483.3 598.9,485.8 600.8,488.4 601.3,491.1 602.4,493.5 603.8,495.8 604.8,498.3 607.1,500.1 610.1,500.8 612.6,502.2 614.9,500.9 617.7,500.5 619.6,498.4 621.9,497.0 624.5,496.3 627.2,496.5 629.8,496.0 632.4,495.1 635.1,495.5 637.7,495.0 640.3,494.4 643.2,493.3 646.2,492.4 649.4,492.1 652.1,490.4 655.1,489.5 657.9,487.8 661.0,487.4 664.0,486.5 665.6,489.0 665.9,492.1 667.9,494.4 667.5,497.4 667.1,500.3 666.0,503.2 665.9,506.2 663.3,506.8 661.2,508.8 658.4,508.9 656.0,510.1 655.3,513.1 655.9,516.0 656.4,519.0 656.0,522.0 656.0,524.8 658.0,527.1 658.0,529.8 659.1,532.3 659.2,535.1 660.0,537.7 662.1,539.6 663.5,542.1 666.4,543.1 667.9,545.6 670.8,544.6 673.7,543.3 676.6,542.1 679.7,541.7 682.5,541.6 685.0,540.6 687.5,539.5 690.2,539.1 692.8,538.3 695.5,537.7 697.3,534.5 700.1,532.1 700.1,529.4 699.9,526.7 700.2,524.1 701.1,521.5 701.9,518.7 702.1,515.7 701.6,512.8 702.2,509.9 702.0,506.8 703.9,504.2 703.1,501.0 704.3,498.2 705.8,495.8 708.3,494.4 709.6,491.9 710.8,489.5 711.7,486.9 713.3,484.7 714.0,482.0 715.6,479.2 716.1,476.0 717.6,473.2 718.0,470.0" fill="none" stroke="#000" stroke-width="1.1" stroke-linejoin="round"/>
<polyline points="714.9,515.2 717.7,516.2 719.6,518.4 721.9,520.2 724.4,521.5 727.2,522.4 730.1,522.2 732.9,522.6 736.0,523.8 739.2,524.7 742.6,526.5 745.6,528.9 747.4,531.3 749.8,533.1 752.6,533.6 755.3,534.6 758.2,534.2 760.4,531.6 762.5,528.9 763.1,525.6 764.6,522.6 766.7,519.4 767.7,515.8 767.8,512.0 769.5,509.5 770.8,506.7 773.0,504.6 775.7,503.0 777.3,500.4 778.3,497.2 779.4,494.0 783.6,491.9 785.3,488.5 787.8,485.6 791.0,485.1 794.2,485.6 797.1,485.2 800.0,485.6 803.5,485.4 806.8,484.4 810.0,483.0 812.2,481.0 815.2,480.6 817.4,478.8 820.0,477.7 821.3,475.2 823.1,472.9 823.8,470.1 825.1,467.6 827.4,465.6 828.5,463.0 829.5,460.3 832.5,460.2 835.3,459.4 838.2,459.1 841.0,458.1 843.8,457.1 846.5,456.5 848.8,454.9 851.5,454.5 854.2,453.9 856.5,452.3 858.7,449.7 861.0,447.3 862.8,444.4 861.7,442.0 861.5,439.3 860.9,436.8 860.6,434.2 859.6,431.7 859.1,429.1 858.1,426.5 858.0,423.8 860.7,421.7 862.2,418.5 864.4,415.9 864.9,413.0 867.0,410.8 867.6,407.9 870.7,406.9 873.9,406.3 874.3,409.2 876.7,411.4 877.1,414.3 878.3,417.3 880.3,419.8 883.0,419.3 885.7,418.5 888.2,417.4 889.9,415.2 892.4,414.3 894.5,412.7 897.3,411.9 900.0,410.8 902.6,409.7 905.6,409.5 908.1,407.3 910.4,404.8 912.0,400.0 912.9,395.2 915.1,392.6 917.6,390.4 921.0,390.4 924.0,388.8 928.7,388.8 931.9,392.0 933.4,394.5 934.2,397.2 935.1,399.9 936.0,402.6 937.3,405.0 938.5,407.8 939.2,410.7 940.0,413.6 940.0,416.6 942.9,418.4 946.3,419.1 949.7,419.1 953.0,417.6 956.4,417.8" fill="none" stroke="#000" stroke-width="1.1" stroke-linejoin="round"/>
<polyline points="954.5,102.2 956.8,105.2 958.5,108.5 957.1,111.6 956.1,114.9 955.1,117.4 953.5,119.5 951.4,121.2 954.2,121.8 956.5,123.7 959.3,124.4 962.3,122.4 965.6,121.2 967.8,122.8 970.6,123.1 972.6,125.0 975.1,126.0 975.6,129.2 976.7,132.3 977.7,135.2 979.6,137.6 980.4,140.6 981.5,143.4 984.1,145.5 986.2,148.2 988.8,146.9 991.4,145.8 994.2,145.0 997.5,145.1 1000.4,143.4 1003.7,143.4 1006.3,142.2 1009.1,141.8 1011.6,140.3 1013.3,138.2 1016.1,137.5 1018.0,135.5 1019.5,132.3 1021.8,134.9 1024.7,136.7 1027.5,138.7 1029.2,140.8 1031.7,141.8 1033.8,143.4 1036.0,145.4 1038.6,146.6 1037.0,151.4 1034.7,153.3 1033.8,156.1 1032.7,159.3 1031.7,162.5 1030.6,165.6 1029.4,168.6 1029.2,171.9 1029.0,175.1 1029.5,178.3 1030.2,181.5 1030.6,184.7 1033.8,187.8 1031.2,190.0 1029.0,192.6 1027.8,195.1 1028.0,197.9 1027.5,200.5 1026.5,203.7 1025.4,206.8 1024.3,210.0 1023.3,212.6 1020.7,214.0 1019.5,216.4 1017.1,218.2 1015.2,220.5 1013.2,222.7 1011.4,224.9 1009.6,227.2 1008.6,229.9 1006.9,232.2 1004.7,234.3 1002.9,236.8 1000.5,238.6 999.7,241.4 998.8,244.1 998.2,247.0 997.5,249.8 994.6,253.6 994.8,256.4 994.4,259.1 994.5,261.9 993.7,264.5 993.1,267.3 993.0,270.0 992.7,272.6 991.7,275.1 991.6,277.7 991.0,280.2 990.9,282.9 989.9,285.3 989.4,287.9 991.0,290.3 994.2,290.4 997.4,290.9 1000.5,291.8 1000.0,294.4 999.0,296.8 998.6,299.4 998.4,302.1 997.3,304.5 998.4,306.9 999.4,309.4 1001.3,311.4 1002.1,314.0 1003.3,316.7 1002.8,319.8 1004.3,322.5 1004.6,325.5 1005.3,328.3 1008.5,329.9 1011.6,331.5 1014.2,329.4 1016.7,327.0 1019.5,325.1 1021.6,327.2 1022.4,330.1 1024.1,332.5 1025.9,334.7 1027.5,337.8 1030.1,340.0 1032.2,342.6 1033.0,345.5 1034.9,347.9 1036.2,350.5 1036.2,355.3 1032.9,357.1 1030.6,360.0 1029.0,362.4 1026.9,364.2 1024.4,365.7 1022.7,368.0 1019.6,368.9 1016.4,369.5 1013.9,371.0 1011.6,372.7 1008.2,373.7 1005.3,375.9 1004.9,379.2 1003.7,382.2 1001.1,383.4 998.4,384.0 995.5,383.8 992.8,385.5 990.4,387.6 987.9,388.7 986.5,391.3 984.1,392.6 982.0,395.1 980.0,397.7 977.8,400.2 976.0,402.7 974.1,405.2 973.3,401.9 971.5,398.9 969.8,396.7 967.4,395.5 965.2,393.9 960.2,392.6 957.7,391.4 956.4,396.0 956.6,399.0 956.1,402.0 957.0,405.0 956.1,408.5 955.1,412.0 956.1,414.8 956.4,417.8 955.8,421.0 955.1,424.2 955.3,427.2 956.4,430.0 956.4,433.0 959.2,434.6 962.3,435.3 965.2,436.8 967.8,438.8 969.2,442.0 971.5,444.3 974.1,446.8" fill="none" stroke="#000" stroke-width="1.1" stroke-linejoin="round"/>
<polyline points="731.1,543.8 731.0,547.1 731.5,550.2 732.7,553.3 735.2,555.2 738.5,555.0 740.7,557.6 743.8,558.1 746.2,559.7 748.8,560.7 751.7,561.2 754.3,562.2 755.8,564.6 758.1,566.0 759.6,568.5 759.6,571.5 761.2,573.9 761.0,577.1 760.8,580.4 759.6,583.4 760.0,586.6 760.4,589.8 761.2,592.9 758.8,595.3 756.5,597.7 753.3,598.2 750.2,599.2 746.9,598.5 743.8,599.3 740.6,602.5 738.3,604.5 735.3,605.0 732.7,606.4 730.0,606.2 727.6,604.9 725.1,603.9 722.4,603.7 720.0,602.5" fill="none" stroke="#000" stroke-width="1.1" stroke-linejoin="round"/>
<polyline points="711.7,606.3 711.9,608.9 713.4,611.3 713.1,614.1 714.4,616.4 714.9,619.0 714.0,621.5 713.7,624.1 713.3,626.7 713.0,629.3 711.7,631.7 710.2,633.9 709.6,636.6 707.7,638.5 706.4,640.9 705.2,643.2 703.9,645.5 702.2,647.6 702.2,650.2 701.6,652.9 701.7,655.5 702.5,658.1 702.0,660.8 702.2,663.4" fill="none" stroke="#000" stroke-width="1.1" stroke-linejoin="round"/>
<polyline points="781.5,650.8 784.2,650.5 787.0,650.2 789.7,649.6 792.2,648.3 795.0,648.0 797.9,648.5 800.5,647.6 803.2,648.5 805.5,650.3 808.4,650.8 810.6,652.8 813.2,654.0 815.6,655.9 818.0,657.7 819.6,660.3 823.0,660.6 826.1,662.0 829.1,663.4 831.8,663.9 834.5,664.7 837.4,664.0 840.0,665.2 842.7,665.4 845.4,666.3 848.1,666.6 851.2,667.5 854.5,667.0 857.6,668.2 860.7,667.4 864.0,668.0 867.2,667.3 870.3,666.6 872.3,668.7 873.4,671.4 875.3,673.6 876.7,676.1 879.3,676.8 881.5,678.4 883.8,679.7 886.2,680.9 888.4,683.1 890.6,685.3 893.6,686.5 895.7,688.8 898.4,688.9 900.7,687.3 903.4,687.1 905.8,686.1 908.4,685.6 910.6,687.7 912.4,690.1 914.7,692.0 916.9,693.9 919.8,694.6 922.2,696.1 924.2,698.3 925.5,701.4 926.6,704.6 927.4,707.9 928.8,710.4 929.3,713.3 931.5,715.3 932.9,717.8 933.8,720.5 931.7,722.7 929.7,725.0 927.4,726.9 925.4,729.1 923.2,731.1 921.1,733.2 918.8,735.0 915.8,735.4 913.4,736.8 910.8,738.0 908.4,739.6 906.1,741.3 903.9,743.2 901.1,744.0 898.9,745.9 896.2,747.0 893.8,748.6 891.6,750.4 889.4,752.3 889.3,755.0 888.4,757.5 887.2,759.8 887.6,762.6 886.2,765.0 887.2,767.4 887.7,770.0 887.7,772.7 889.5,774.9 889.4,777.6 888.7,780.9 887.1,783.9 886.2,787.2 887.8,790.2 888.1,793.4 888.2,796.7 889.4,799.8 890.0,802.4 890.1,805.2 891.3,807.7 891.1,810.5 892.5,812.9 892.5,815.7 893.6,818.3 894.6,821.0 897.0,823.0 897.9,825.7 898.9,828.4 899.2,831.6 898.3,834.8 899.6,837.9 898.9,841.1 898.0,844.3 896.0,847.2 895.7,850.6 892.7,852.3 889.1,852.0 886.2,853.8 882.8,853.4 879.9,851.6 876.7,850.6 874.1,851.2 871.3,851.4 868.8,852.5 866.1,852.8 863.3,852.7 860.8,853.8 859.1,856.3 856.2,857.6 854.5,860.1 852.3,862.0 849.7,863.1 847.1,864.3 844.3,865.2 841.8,866.5 839.3,865.2 837.0,863.3 834.3,862.3 832.3,860.1 832.4,857.3 832.4,854.5 833.0,851.9 834.3,849.3 834.6,846.5 834.9,843.8 835.4,841.1 832.8,839.5 831.5,836.5 829.1,834.7 826.4,834.7 824.1,833.2 821.4,833.0 819.1,831.6 816.4,831.6 813.9,832.7 811.1,832.9 808.6,833.9 805.7,833.0 803.1,834.0 800.5,834.7 797.4,835.0 794.2,835.2 791.0,834.1 787.9,834.7 786.4,832.3 784.8,829.9 784.0,827.1 782.6,824.6 781.5,822.0 780.7,819.3 778.4,817.3 778.1,814.2 777.0,811.6 775.2,809.4 776.6,807.0 779.2,805.8 781.2,803.9 783.1,802.0 784.7,799.8 785.3,797.2 784.6,794.5 784.9,791.9 784.8,789.3 784.6,786.6 784.7,784.0 783.2,781.5 782.9,778.5 782.0,775.8 780.8,773.2 780.5,770.3 779.8,767.5 778.3,765.0 777.1,762.5 775.6,760.0 774.5,757.4 773.6,754.7 772.0,752.3 770.2,750.4 769.2,747.8 767.5,745.8 765.9,743.6 764.2,741.6 762.5,739.6 761.8,736.4 762.7,733.2 763.1,730.1 762.5,726.9 764.3,724.7 766.1,722.5 766.8,719.5 768.8,717.4 770.3,715.1 772.3,713.2 774.2,711.2 774.6,708.1 776.4,706.0 778.0,703.8 779.6,701.6 781.7,699.8 783.0,697.3 784.7,695.2 785.4,692.6 785.0,689.9 785.0,687.2 785.3,684.6 785.3,681.9 784.7,679.3 783.9,676.6 784.6,674.0 784.9,671.3 785.1,668.7 785.3,666.0 784.7,663.4 783.6,661.0 783.4,658.4 783.4,655.7 781.7,653.4 781.5,650.8" fill="none" stroke="#000" stroke-width="1.1" stroke-linejoin="round"/>
<polyline points="730.8,863.3 733.1,862.0 735.8,861.9 738.2,860.9 740.7,860.0 743.4,860.1 746.1,860.5 748.7,861.4 751.3,861.9 753.9,862.8 756.7,862.4 759.3,863.3 761.3,861.2 764.2,860.2 765.7,857.3 768.5,856.2 770.3,853.8 773.2,852.7 775.2,850.6 776.9,848.5 779.8,847.9 781.4,845.6 784.1,844.8 785.9,842.9 787.9,841.1" fill="none" stroke="#000" stroke-width="1.1" stroke-linejoin="round"/>
<polyline points="902.0,869.6 904.8,869.6 907.4,868.2 910.2,868.5 913.0,868.1 915.6,867.2 918.4,867.0 921.1,866.5 923.8,865.6 926.7,865.2 929.5,864.5 932.1,863.3 934.7,861.9 937.2,860.4 940.1,860.1 942.8,860.3 945.4,860.9 948.0,859.6 950.7,859.5 953.4,859.6 956.0,860.1 958.7,861.2 960.7,863.3 963.4,864.5 965.5,866.5 966.2,869.3 967.5,871.8 968.7,874.3 970.5,876.6 971.8,879.1 972.9,882.3 973.7,885.6 975.0,888.7" fill="none" stroke="#000" stroke-width="1.1" stroke-linejoin="round"/>
<polyline points="895.7,850.6 896.7,853.3 897.4,856.1 899.1,858.5 899.2,861.5 900.1,864.2 901.5,866.7 902.0,869.6" fill="none" stroke="#000" stroke-width="1.1" stroke-linejoin="round"/>
<polyline points="680.0,885.5 682.6,886.2 684.8,887.8 686.8,889.6 689.1,891.0 691.7,891.7 694.4,892.4 696.7,893.6 699.0,895.0 701.2,896.9 704.2,897.2 706.6,898.9 709.0,900.4 711.7,901.3 712.0,903.9 711.0,906.6 712.1,909.2 710.9,911.9 711.4,914.6 711.7,917.2" fill="none" stroke="#000" stroke-width="1.1" stroke-linejoin="round"/>
<polyline points="880.0,680.5 883.2,681.6 886.3,682.8 889.5,683.7 892.2,682.6 894.3,680.5 896.1,682.6 898.9,683.1 900.6,685.3 903.2,685.0 905.9,684.5 908.5,685.3 913.3,686.9 911.7,691.6 914.4,692.6 916.8,694.0 919.6,694.8 922.9,696.2 926.0,698.0 927.6,702.7 927.5,705.9 928.1,709.0 927.6,712.2 929.5,714.3 930.7,717.0 931.8,720.1 932.3,723.3 930.2,726.0 927.6,728.1 925.7,731.1 924.4,734.4" fill="none" stroke="#000" stroke-width="1.1" stroke-linejoin="round"/>
<polyline points="926.0,593.3 924.8,596.0 924.7,598.9 923.1,601.5 922.8,604.4 924.1,606.9 924.4,609.9 926.0,612.3 927.9,614.7 930.2,616.6 932.3,618.7 929.0,619.9 926.0,621.8 922.9,620.6 919.6,620.3 916.3,619.9 913.3,618.7 912.1,621.2 912.5,624.0 911.7,626.6 911.6,630.0 910.1,633.0 908.5,636.0 908.5,639.3 905.8,640.8 904.1,643.3 902.2,645.6 899.0,647.2 901.2,649.5 902.9,652.1 903.8,655.1 906.3,656.6 909.0,657.5 911.7,658.3 914.2,659.4 916.8,660.1 919.6,659.9 920.5,662.6 921.3,665.4 922.8,667.8 923.0,671.0 922.9,674.1 922.8,677.3 920.3,678.7 918.1,680.5 916.7,682.8 914.7,684.6 913.3,686.9" fill="none" stroke="#000" stroke-width="1.1" stroke-linejoin="round"/>
<polyline points="926.0,593.3 929.2,591.7 932.4,592.3 935.5,591.7 937.2,594.9 938.7,598.1 940.6,600.9 943.4,602.8 946.2,602.1 948.6,600.3 951.4,599.6 953.9,598.4 956.6,598.3 959.3,598.1 962.5,601.2" fill="none" stroke="#000" stroke-width="1.1" stroke-linejoin="round"/>
<polyline points="175.8,665.7 178.7,667.3 181.6,668.7 184.8,669.7 187.4,671.8 190.6,672.8 193.4,674.5 195.3,677.4 197.3,680.2 198.7,683.4 200.8,685.8 203.4,687.7 205.7,689.9 207.4,692.8 210.1,694.5 212.0,697.2 214.5,699.2 217.6,699.9 220.4,701.5 223.3,702.7 224.0,706.3 225.1,709.8 227.9,711.8 231.0,713.3 233.9,715.1 237.1,715.0 240.3,715.8 243.4,716.6 246.6,716.2 249.8,716.8 253.3,717.4 256.8,718.4 260.4,718.8 263.8,719.9 267.4,720.4 270.4,721.0 273.4,721.5 276.2,722.6 279.3,722.8 282.2,723.6 285.0,724.8 289.4,725.1 293.8,725.6 296.8,723.7 300.0,722.1 303.0,723.3 306.4,723.4 309.5,724.6 312.5,725.8 315.7,726.7 318.8,727.6 322.0,728.4 325.2,729.0 328.3,729.9 331.6,729.5 334.7,730.2 338.0,730.2 341.0,731.5 344.3,731.7 347.4,732.6 350.7,732.1 353.8,733.0 356.9,733.5 360.1,733.5 363.3,734.1 366.3,735.2 369.6,734.7 372.8,735.0 375.9,735.8 379.0,736.3 382.2,736.8 385.3,738.2 388.4,738.9 391.7,739.2 394.7,740.6 398.0,741.0 401.3,741.8 404.5,742.6 407.6,743.8 410.6,745.4 413.7,746.6 417.0,747.4 420.3,746.8 423.4,745.3 426.7,744.7 430.0,744.0 433.3,743.4 436.4,742.2 439.6,741.3 442.5,739.6 445.9,739.3 449.0,738.0 452.0,736.4 455.1,735.0 458.4,734.2 461.6,733.0 463.0,737.1 464.8,741.0 463.1,744.1 461.6,747.4 460.3,750.8 458.4,753.8 457.8,757.0 457.4,760.1 457.4,763.4 456.6,766.5 456.0,769.7 455.3,772.8 458.4,774.1 461.5,775.5 464.8,776.0" fill="none" stroke="#1652B0" stroke-width="2.5" stroke-linejoin="round" stroke-linecap="round"/>
<polyline points="131.7,586.4 132.6,589.8 134.5,592.8 136.1,595.9 137.0,599.3 138.8,602.3 142.2,603.5 145.7,604.6 149.4,604.6 152.9,605.8 156.1,608.1 159.8,609.4 163.4,611.1 165.6,613.6 168.4,615.5 170.5,618.1 170.0,621.7 170.5,625.2 168.2,628.2 165.2,630.5 165.9,634.1 167.0,637.5 170.3,639.8 174.0,641.1" fill="none" stroke="#1652B0" stroke-width="2.5" stroke-linejoin="round" stroke-linecap="round"/>
<polyline points="377.7,601.4 381.1,602.5 384.7,602.5 388.0,604.1 391.5,604.7 395.0,605.0 398.1,606.4 401.4,607.1 404.6,608.1 408.1,608.1 411.3,609.3 414.3,608.7 417.4,608.5 420.5,608.6 423.5,608.0 426.7,608.7 429.7,608.4 432.8,607.6 435.8,607.2 438.9,607.3 441.8,605.3 445.0,603.8 448.2,602.3 451.4,600.8 454.6,599.4 457.9,600.3 461.3,600.2 464.5,601.5 467.7,602.4 471.2,602.4 474.4,603.4 476.5,605.7 479.0,607.6 480.6,610.3 483.1,612.1 485.4,614.2 487.1,616.8 489.6,618.7 491.9,620.7 494.0,623.0 496.3,625.2 498.3,627.7 500.1,630.3 502.3,632.5 503.5,635.6 505.5,638.1 507.5,640.6 509.8,642.8 511.8,645.2 513.9,647.6 515.9,650.0 518.0,652.4 519.9,655.0 521.8,657.4 523.6,660.0 525.6,662.5 527.5,665.1 528.7,668.0 530.3,670.7 532.3,673.3 533.4,676.3 534.7,679.2 536.4,681.9 538.2,684.5 540.1,687.1 541.4,690.0 541.8,693.0 543.0,695.9 543.0,699.0 544.3,701.8 545.1,704.8 545.0,707.9 546.3,710.7 546.9,713.7 547.1,716.8 548.1,719.6 548.8,722.6 549.3,725.6 548.8,728.7 548.9,731.9 548.7,735.0 549.2,738.2 549.4,741.3 549.2,744.4 549.4,747.6 548.7,750.7 549.6,753.9 549.3,757.0 546.3,757.6 543.5,758.7 540.8,760.0 542.3,762.8 543.1,765.9 544.4,768.8 545.6,771.7 547.2,774.5 548.5,777.4 550.8,780.1 552.4,783.2 553.9,786.5 556.3,789.1 556.5,792.4 557.8,795.5 558.2,798.8 559.6,801.6 561.8,803.9 562.7,807.0 564.4,809.6 566.0,812.3 567.1,815.2 567.9,818.1 569.6,814.7 571.3,811.4 573.7,808.4 573.9,805.0 574.6,801.6 575.1,798.3 575.7,794.9 579.5,792.9 579.9,796.1 579.3,799.4 579.5,802.6 579.7,805.8 579.1,808.8 578.6,811.9 578.4,815.0 577.6,818.1 577.2,821.2 577.1,824.3 577.6,827.4 577.8,830.5 577.6,833.6 581.3,835.9 585.3,837.5 588.6,836.5 591.8,835.1 595.0,833.6 598.5,832.1 601.2,829.3 604.7,827.8 607.6,828.9 610.5,829.8 610.8,833.2 609.9,836.5 611.0,839.9 610.5,843.3 614.4,843.3 617.9,841.8 621.1,839.9 624.1,837.5 627.1,835.7 630.7,835.3 633.8,833.6 634.4,830.4 635.5,827.3 635.7,824.0 635.7,820.9 636.3,817.8 635.5,814.6 635.3,811.5 635.7,808.4 637.9,805.5 640.3,802.8 641.7,799.4 644.0,796.6 645.7,793.8 646.7,790.7 648.4,787.8 650.0,785.0 652.1,782.2 654.2,779.5 655.9,776.4 657.9,773.6 661.2,773.5 664.3,772.5 667.3,771.1 670.6,771.2 673.7,770.4 676.8,769.5 679.9,769.5 683.1,769.5 686.2,769.0 689.4,768.8 693.0,768.6 696.5,767.9 700.1,768.0 703.6,767.3 706.0,765.4 708.4,763.4 710.8,761.5 713.1,759.4 715.1,757.0 717.1,754.7 718.6,751.9 721.0,749.9 723.9,747.6 727.2,745.8 730.3,743.7 733.6,742.0 737.2,740.6 741.0,740.2 744.6,738.9 747.8,735.7 751.0,732.6 752.8,729.2 755.4,726.3 757.3,723.0 758.0,719.7 759.1,716.7 760.4,713.6 763.5,712.2 766.8,711.7 769.9,710.5 773.4,710.1 776.9,709.1 780.5,709.5 784.0,708.9 787.1,708.2 790.3,708.0 793.4,707.5 796.7,707.7 799.8,707.3 802.9,707.8 806.2,708.0 809.2,709.3 812.5,709.1 815.6,709.7 818.5,711.2 820.7,713.7 823.5,715.2 826.1,717.0 828.8,718.8 831.4,720.7 835.3,722.0 839.3,723.0 842.0,724.6 844.7,726.1 847.6,727.3 850.0,729.4 852.0,731.8 854.4,733.7 856.4,735.9 859.2,737.5 861.0,740.0 864.2,739.4 867.4,738.7 870.6,738.4 873.8,738.0 877.0,737.2 878.9,734.9 881.5,733.2 883.6,731.0 885.2,728.4 888.0,726.9 889.8,724.5 893.0,724.7 896.1,724.2 899.3,725.0 902.5,724.0 905.6,724.6 908.8,724.5 911.8,726.0 915.0,726.9 918.1,728.2 921.5,728.8 924.5,730.3 927.8,730.9 930.7,728.8 934.3,728.0 937.2,725.8 940.5,724.5 943.2,722.1 946.0,719.8 948.1,716.9 951.0,714.6 953.2,711.8 955.0,708.7 956.8,705.6 957.5,701.9 959.6,699.0 962.1,696.5 964.8,694.1 967.4,691.7 970.1,689.4 972.3,686.5 973.5,683.2 975.5,680.2 977.2,677.0 978.6,673.8 980.1,670.5 982.2,667.6 983.4,664.2 985.0,661.0 987.9,659.0 991.4,658.0 994.6,656.5 997.6,654.7 1000.7,654.9 1003.8,654.7 1006.9,654.7 1010.0,654.7 1013.1,655.8 1016.4,656.2 1019.6,656.9 1022.7,657.6 1026.0,657.9 1029.3,658.1 1032.4,659.4 1035.5,660.2 1038.7,660.7 1042.0,661.0 1045.0,663.1 1048.4,664.3" fill="none" stroke="#1652B0" stroke-width="2.5" stroke-linejoin="round" stroke-linecap="round"/>
<polyline points="494.4,594.9 497.5,595.2 500.6,596.0 503.7,596.4 506.8,596.8 510.0,596.9 513.3,596.6 516.6,596.2 520.0,596.4 523.2,595.2 526.5,595.0 529.8,594.9 532.7,596.5 534.8,599.2 537.7,600.8 540.0,602.9 542.0,605.5 544.8,607.5 547.0,609.8 549.0,612.5 551.6,614.6 555.4,616.7 559.4,618.4 560.1,622.3 560.1,626.3 561.3,630.1 565.2,632.1 569.1,634.0 572.4,634.2 575.6,635.1 578.8,635.9 582.0,634.4 585.1,632.9 588.5,632.0 594.3,632.0 597.1,635.0 600.1,637.8 604.0,639.8 607.9,641.7 611.0,643.2 614.2,644.8 617.6,645.6 621.6,647.2 625.3,649.5 628.1,647.3 631.2,645.6 630.1,642.3 628.9,639.0 627.3,635.9 624.5,633.8 621.5,632.0 618.6,630.5 616.5,627.9 613.7,626.2 610.3,624.5 607.0,622.8 604.0,620.4 601.9,618.0 598.9,616.9 597.1,614.1 594.3,612.6 591.5,610.3 588.9,607.7 586.5,604.9 585.7,601.5 584.2,598.3 582.7,595.2 583.7,591.9 583.1,588.3 584.3,585.0 584.6,581.6 587.0,579.6 589.3,577.5 591.8,575.7 594.3,573.8 597.5,574.8 600.8,575.1 604.0,575.8 607.3,575.6 610.6,575.0 613.7,573.8 617.6,574.9 621.5,575.8 624.3,577.4 626.9,579.3 629.2,581.6 633.1,582.3 636.9,583.3 640.9,583.5 644.0,583.1 646.8,581.8 649.4,580.0 652.5,579.6 655.6,579.1 658.3,577.8 661.1,576.3 664.1,575.8 667.1,574.6 670.2,573.4 672.8,571.2 675.8,570.0 677.1,566.8 678.5,563.5 679.6,560.2 677.8,557.2 675.8,554.4 672.8,551.6 670.0,548.6 672.4,546.2 674.7,543.7 678.0,543.4 681.1,542.2 684.1,540.9 687.4,540.5 690.6,539.3 693.9,538.2 696.7,536.1 700.3,535.7 703.3,534.0 705.7,531.7 707.8,529.1 710.2,526.8 712.8,524.7 713.1,521.4 714.8,518.5 715.6,515.3 716.0,512.0 716.6,508.7 718.1,505.6 717.9,502.2 719.0,499.0 718.4,495.9 719.4,492.9 719.0,489.8 720.1,486.7 720.3,483.3 721.3,480.1 722.3,477.0 722.6,473.7 724.0,470.7 724.7,467.6 725.5,464.4 727.7,461.4 730.0,458.4 731.8,455.0 735.2,452.8 738.0,450.0 741.2,450.2 744.4,450.6 747.6,450.6 750.8,451.5 754.0,451.7 757.2,452.5 760.3,453.8 763.7,454.4 766.8,455.4 770.0,456.5 773.2,456.9 776.4,456.6 779.5,456.9 782.7,457.6 785.8,457.9 789.0,458.0 792.3,458.8 795.3,460.3 798.5,461.5 801.6,462.8 804.3,465.4 807.3,467.8 809.6,470.8 809.7,474.0 810.1,477.1 811.0,480.2 811.0,483.4 810.2,486.5 809.1,489.6 808.5,492.8 808.0,496.0 807.3,499.4 805.6,502.5 804.5,505.7 802.5,508.6 801.6,512.0 800.9,515.1 800.4,518.2 800.8,521.5 799.5,524.5 799.7,527.8 799.2,530.9 798.4,534.0 798.4,537.2 798.3,540.3 798.7,543.5 798.0,546.7 798.1,549.8 798.4,553.0 798.4,556.3 799.9,559.3 800.0,562.5 800.7,565.6 801.2,568.8 801.6,572.0 802.1,575.2 801.1,578.4 802.1,581.6 802.1,584.9 802.2,588.1 801.6,591.3 800.7,594.4 800.1,597.5 800.2,600.7 799.8,603.8 799.2,606.9 798.4,610.0 801.5,609.9 804.7,610.1 807.9,609.7 811.0,610.0 814.3,609.1 817.5,607.9 820.8,606.9 824.0,605.7 827.0,604.0 830.1,604.3 833.1,604.5 836.2,604.3 839.3,603.9 842.4,603.4 845.4,603.7 848.5,604.0 851.8,604.0 854.9,603.1 858.1,602.8 861.1,601.3 864.5,601.7 867.6,600.8 870.7,600.1 873.9,599.6 877.1,599.4 880.3,599.4 883.5,598.8 886.7,598.6 889.8,597.6 890.9,594.7 892.9,592.3 894.7,589.8 896.1,587.0 897.6,584.4 899.3,581.8 901.8,580.0 903.5,577.5 905.4,575.1 907.7,573.2 909.8,571.0 912.0,569.0 913.4,566.2 914.8,563.5 917.1,561.3 918.5,558.6 920.4,556.1 921.5,553.2 923.6,550.8 925.3,548.1 927.6,545.9 929.2,543.1 931.0,540.5 934.0,538.8 936.6,536.7 939.0,534.2 941.5,531.8 944.2,529.9 947.0,527.9 949.8,526.3 952.0,524.0 954.5,522.0 956.9,520.0 959.6,518.3 963.0,515.4 966.0,512.0" fill="none" stroke="#1652B0" stroke-width="2.5" stroke-linejoin="round" stroke-linecap="round"/>
<polyline points="444.8,638.9 448.1,639.2 450.9,641.0 454.2,641.0 457.3,641.9 460.4,642.9 463.4,643.9 466.5,644.8 469.1,646.4 471.6,648.1 474.4,649.4 476.9,651.1 479.9,652.0 482.2,654.1 484.8,655.6 487.7,656.6 490.1,658.6 492.0,661.3 494.5,663.2 496.9,665.4 499.4,667.4 501.4,669.9 503.3,672.4 505.9,674.4 507.2,677.5 509.3,680.1 510.5,683.2 511.3,686.4 513.7,688.9 514.6,692.2 515.8,695.2 517.7,698.0 518.6,700.9 519.7,703.8 521.5,706.4 522.3,709.4 523.4,712.3 524.5,715.1 525.1,718.2 526.6,720.9 528.0,723.7 529.0,726.5 529.6,729.6 530.1,732.6 530.5,735.7 530.8,738.7 531.6,741.7 531.4,744.9 531.7,747.9 532.2,751.0 532.5,754.0 533.5,757.0 534.1,760.2 534.5,763.4 534.5,766.7 535.8,769.7 535.5,773.1 536.0,776.3 536.9,779.4 538.3,782.4 539.8,785.4 540.3,788.7 541.9,791.7 542.7,794.9 543.7,798.1 544.1,801.3 544.8,804.6 545.0,807.9 545.7,811.1 546.6,814.3 546.2,817.6 546.3,820.9 546.7,824.2 546.8,827.6 546.7,830.9 546.6,834.2 546.6,837.5 547.4,841.0 548.1,844.5 548.5,848.1 549.9,851.5 550.5,855.0 552.4,857.7 554.7,860.2 556.3,863.1 558.2,865.9 560.2,868.5 562.6,870.6 565.4,872.3 567.9,874.3 571.9,874.9 575.7,876.3 576.8,880.1 577.6,884.0 576.9,887.0 576.0,890.0 574.2,892.6 573.7,895.7 571.9,898.7 570.1,901.7 568.6,904.8 567.8,908.2 566.0,911.2 566.9,914.4 567.3,917.7 567.9,920.9 569.6,923.5 571.1,926.3 573.0,928.8 573.7,932.0 575.7,934.4 577.3,937.5 579.5,940.3 581.6,943.0 583.4,946.0 586.2,949.0 589.2,951.9 590.2,955.8 591.2,959.6" fill="none" stroke="#1652B0" stroke-width="2.5" stroke-linejoin="round" stroke-linecap="round"/>
<polyline points="387.6,664.5 388.7,667.9 389.3,671.5 390.8,674.8 391.5,678.3 394.7,678.9 397.7,680.3 400.9,680.9 404.2,681.1 407.3,682.1 410.4,683.1 413.6,683.4 416.6,684.9 419.8,685.6 423.0,686.2 426.1,686.5 429.2,686.8 432.3,687.1 435.4,687.5 438.4,688.4 441.5,688.8 444.5,689.6 447.6,689.9 450.7,690.0 453.5,691.7 456.6,693.1 459.7,694.2 462.6,695.9 465.3,697.9 468.3,699.3 471.3,700.8 474.4,702.0 476.6,704.3 479.0,706.2 481.9,707.7 483.9,710.2 486.3,712.3 489.0,713.9 491.5,715.8 494.0,717.7 496.4,720.0 499.0,722.0 501.6,724.0 504.6,725.6 506.9,728.0 509.8,729.6 510.7,732.6 511.5,735.6 512.2,738.6 512.9,741.7 514.4,744.5 515.0,747.6 515.1,750.8 516.8,753.6 516.6,756.9 517.4,759.9 518.7,762.8 519.5,765.8 521.1,768.4 523.0,770.7 525.4,772.7 526.9,775.3 529.1,777.4 529.8,780.5 530.0,783.6 530.7,786.7 530.9,789.9 531.1,793.0 534.7,795.4 538.8,796.8 538.9,799.9 539.6,802.9 540.1,805.9 539.5,809.0 539.7,812.1 539.9,815.1 540.8,818.1 541.2,821.4 540.2,824.6 540.7,827.8 540.7,831.0 540.3,834.3 540.4,837.5 539.5,840.7 540.3,844.0 539.8,847.2 540.1,850.4 540.4,853.7 539.9,856.9 540.3,860.1 540.4,863.4 540.0,866.6 540.5,869.8 540.7,873.1 540.8,876.3 542.4,880.3 544.7,884.0 541.4,885.2 538.1,886.2 535.0,887.9" fill="none" stroke="#1652B0" stroke-width="2.5" stroke-linejoin="round" stroke-linecap="round"/>
<polyline points="659.7,847.9 658.4,850.6 657.2,853.4 656.3,856.3 655.6,859.3 654.0,861.9 652.5,864.6 651.8,867.6 649.0,870.0 646.1,872.5 643.9,875.5 643.2,878.5 641.5,881.3 641.4,884.5 640.0,887.3 641.5,890.0 642.5,893.0 643.3,896.0 643.9,899.0 646.9,897.1 650.4,896.2 653.4,894.3 656.7,893.2 659.7,891.2 662.8,889.5 665.8,887.7 669.1,886.2 672.2,884.5 675.5,883.3 678.4,882.5 681.3,881.6 684.0,880.0 686.8,878.9 689.6,877.8 692.5,876.8 695.2,875.5 698.6,875.2 701.8,874.5 705.0,873.4 708.3,872.8 711.6,872.1 714.9,871.5 717.9,869.6 721.0,867.9 724.6,867.1 727.5,865.1 730.7,863.6 732.9,865.9 734.9,868.4 736.7,870.9 738.2,873.8 740.0,876.4 741.7,879.2 743.2,882.1 745.2,884.7 747.4,887.2 749.0,890.0 751.4,892.4 752.7,895.4 755.9,895.5 759.0,896.4 762.2,897.1 765.3,897.7 768.4,898.6 771.7,898.6 774.9,899.2 778.1,900.1 781.3,900.6 784.5,901.5 787.7,902.2 790.7,903.8 793.9,904.3 797.1,905.0 800.3,905.3 803.4,904.5 806.6,905.0 809.8,905.2 812.9,904.7 816.1,905.0 819.3,905.0 822.5,904.4 825.6,905.2 828.8,905.1 832.0,905.2 835.1,904.4 838.3,905.1 841.5,905.0 844.7,905.9 847.9,906.8 850.8,908.7 854.2,909.2 857.3,910.5 860.5,911.3 863.7,911.3 866.9,911.8 870.0,910.9 873.2,911.3 876.4,911.6 879.5,912.2 882.7,911.9 885.9,912.2 889.0,912.9" fill="none" stroke="#1652B0" stroke-width="2.5" stroke-linejoin="round" stroke-linecap="round"/>
<polyline points="876.4,914.5 878.4,916.9 880.3,919.3 882.0,921.9 884.3,924.0" fill="none" stroke="#1652B0" stroke-width="2.5" stroke-linejoin="round" stroke-linecap="round"/>
<polyline points="342.9,227.9 348.0,229.1 351.0,231.8 354.3,234.2 359.3,235.4 362.6,237.7 365.6,240.5 368.3,242.2 370.7,244.3 374.3,246.5 378.2,248.0 381.0,249.4 383.4,251.2 385.8,253.1 389.1,254.8 392.1,256.9 394.6,258.9 397.2,260.7 400.9,256.9 400.9,253.1 399.3,249.8 397.2,246.8 396.1,243.7 395.9,240.5 396.5,237.3 397.2,234.2 398.4,230.4" fill="none" stroke="#1652B0" stroke-width="2.5" stroke-linejoin="round" stroke-linecap="round"/>
<polyline points="902.8,210.0 906.2,209.8 909.5,208.7 913.0,209.8 916.5,210.9 920.2,211.4 923.6,211.1 926.9,210.1 930.2,209.1 933.6,208.7 936.8,207.9 940.0,207.7 943.3,207.6 946.4,206.3 949.7,206.0 953.4,204.5 956.7,202.2 960.4,200.7 963.0,199.1 965.6,197.5 968.4,196.5 971.2,195.3 973.8,193.4 975.9,190.9 978.5,189.0 980.5,186.4 983.2,184.6" fill="none" stroke="#1652B0" stroke-width="2.5" stroke-linejoin="round" stroke-linecap="round"/>
<ellipse cx="256" cy="672" rx="6" ry="3.5" transform="rotate(20 256 672)" fill="#0B4FA8"/>
<ellipse cx="278.5" cy="673" rx="3" ry="8" transform="rotate(30 278.5 673)" fill="#0B4FA8"/>
<ellipse cx="333" cy="663" rx="8" ry="4.5" transform="rotate(10 333 663)" fill="#0B4FA8"/>
<ellipse cx="367" cy="697" rx="8.5" ry="4.5" transform="rotate(-10 367 697)" fill="#0B4FA8"/>
<ellipse cx="1021.5" cy="680.5" rx="7.5" ry="7" transform="rotate(0 1021.5 680.5)" fill="#0B4FA8"/>
<ellipse cx="339.9" cy="388.5" rx="7" ry="3.5" transform="rotate(20 339.9 388.5)" fill="#0B4FA8"/>
<ellipse cx="279.6" cy="295" rx="3" ry="5.5" transform="rotate(-30 279.6 295)" fill="#0B4FA8"/>
<ellipse cx="975" cy="632.5" rx="4" ry="3.5" transform="rotate(0 975 632.5)" fill="#0B4FA8"/>
<ellipse cx="864" cy="750" rx="3" ry="10" transform="rotate(10 864 750)" fill="#0B4FA8"/>
<ellipse cx="937" cy="745" rx="3" ry="8" transform="rotate(0 937 745)" fill="#0B4FA8"/>
<polygon points="900.6,214.8 906.2,218 899,232.2 893.5,227.5" fill="#0B4FA8"/>
<g fill="#000">
<ellipse cx="903" cy="934" rx="3" ry="2"/>
<ellipse cx="909" cy="931" rx="2.5" ry="1.6"/>
<ellipse cx="906" cy="939" rx="3" ry="1"/>
<ellipse cx="873" cy="949" rx="3" ry="2"/>
<ellipse cx="869" cy="951.5" rx="2" ry="1.5"/>
<ellipse cx="920" cy="924" rx="2" ry="1.5"/>
<ellipse cx="925" cy="921.5" rx="2" ry="1.3"/>
<ellipse cx="960" cy="907" rx="1.5" ry="1.2"/>
<ellipse cx="975" cy="891" rx="2" ry="1.5"/>
<ellipse cx="898" cy="929" rx="1.6" ry="2.5"/>
<ellipse cx="914" cy="928" rx="2.5" ry="1"/>
<ellipse cx="880" cy="945" rx="2" ry="1.3"/>
<ellipse cx="860" cy="950" rx="1.5" ry="1"/>
<ellipse cx="931" cy="918" rx="1.8" ry="1.2"/>
<ellipse cx="946" cy="915" rx="1.3" ry="1"/>
<ellipse cx="1066" cy="683" rx="2.5" ry="1.5"/>
<ellipse cx="1072" cy="686" rx="2" ry="2.5"/>
<ellipse cx="1077" cy="684" rx="1.5" ry="2"/>
<ellipse cx="1068" cy="690" rx="3" ry="1.5"/>
<ellipse cx="1074" cy="692" rx="1.8" ry="1.5"/>
<ellipse cx="1064" cy="697" rx="2" ry="1.5"/>
<ellipse cx="1069" cy="700" rx="1.8" ry="1.2"/>
<ellipse cx="1062" cy="712" rx="2.5" ry="1.5"/>
<ellipse cx="1058" cy="719" rx="2" ry="2"/>
<ellipse cx="1064" cy="724" rx="1.5" ry="2"/>
<ellipse cx="1061" cy="731" rx="2" ry="1.5"/>
<ellipse cx="1060" cy="740" rx="1.6" ry="2.5"/>
<ellipse cx="1055" cy="749" rx="1.5" ry="2.5"/>
<ellipse cx="1056" cy="757" rx="2" ry="2"/>
<ellipse cx="1052" cy="764" rx="1.6" ry="2"/>
<ellipse cx="1048" cy="771" rx="2" ry="1.5"/>
<ellipse cx="1044" cy="779" rx="1.5" ry="2"/>
<ellipse cx="1040" cy="787" rx="2" ry="1.5"/>
<ellipse cx="1038" cy="796" rx="1.5" ry="1.5"/>
<ellipse cx="1034" cy="806" rx="1.5" ry="1.5"/>
<ellipse cx="1036" cy="815" rx="1.6" ry="1.6"/>
<ellipse cx="1036" cy="825" rx="1.6" ry="1.8"/>
<ellipse cx="1026" cy="838" rx="1.5" ry="1.5"/>
<ellipse cx="1016" cy="846" rx="1.5" ry="1.2"/>
<ellipse cx="1006" cy="859" rx="1.5" ry="1.5"/>
<ellipse cx="997" cy="867" rx="1.5" ry="1.2"/>
<ellipse cx="988" cy="879" rx="1.5" ry="1.5"/>
<ellipse cx="1006" cy="478" rx="2" ry="1.5"/>
<ellipse cx="1011" cy="473" rx="1.5" ry="1.2"/>
<ellipse cx="1018" cy="470" rx="1.5" ry="1.5"/>
<ellipse cx="1003" cy="482" rx="2" ry="1"/>
<ellipse cx="1023" cy="466" rx="1.2" ry="1.2"/>
<ellipse cx="857" cy="1070" rx="1.5" ry="1"/>
<ellipse cx="862" cy="1077" rx="2" ry="1.2"/>
<ellipse cx="870" cy="1083" rx="1.5" ry="1"/>
<ellipse cx="878" cy="1088" rx="2" ry="1"/>
<ellipse cx="884" cy="1074" rx="1.3" ry="1"/>
<ellipse cx="920" cy="1088" rx="1.5" ry="1"/>
<ellipse cx="930" cy="1090" rx="1.5" ry="1"/>
<ellipse cx="940" cy="1086" rx="1.5" ry="1"/>
<ellipse cx="989" cy="1074.6" rx="1.5" ry="1.5"/>
<ellipse cx="886" cy="1003" rx="1.2" ry="1.2"/>
<ellipse cx="908" cy="1009.6" rx="1.5" ry="1"/>
<ellipse cx="851" cy="1090" rx="1.5" ry="1"/>
</g>
<polygon points="573.9,551.5 578.8,545.7 586.5,543.8 592.4,548.6 597.2,554.4 598.2,561.2 592.4,563.2 584.6,558.3 580.7,556.4 575.9,554.4" fill="#0B4FA8"/>
<polygon points="66.3,391.0 68.3,389.1 70.0,386.7 73.0,385.9 74.5,383.4 76.7,381.7 79.0,380.0 81.2,378.4 83.9,377.9 86.1,376.1 88.5,374.9 91.2,374.3 93.7,373.4 95.9,371.7 98.6,371.2 101.0,370.0 103.7,370.1 106.2,371.5 109.1,370.3 111.6,372.2 114.4,371.5 117.0,372.0 117.6,375.0 118.8,377.9 118.7,381.0 121.6,381.2 124.4,380.0 127.3,380.1 130.1,379.3 133.0,380.0 135.0,377.6 138.0,376.2 140.2,374.0 142.1,371.5 144.0,369.0 146.5,367.9 149.3,369.3 151.9,368.9 154.5,368.5 157.1,367.2 159.7,366.8 162.4,367.1 165.0,367.0 167.7,367.2 170.2,366.1 172.8,365.9 175.2,364.5 177.9,364.5 180.5,364.0 183.3,363.9 186.0,363.7 188.8,363.3 191.3,361.8 194.2,362.5 196.8,360.9 199.6,361.0 202.3,360.5 204.6,359.1 206.8,357.5 209.6,357.1 212.0,356.0 214.5,354.0 217.5,352.6 219.0,349.4 222.0,348.0 222.0,345.3 224.0,343.0 224.4,340.3 223.8,337.5 225.0,335.0 226.7,332.7 229.0,331.0 231.0,329.0 230.4,326.4 230.7,323.8 230.2,321.2 231.4,318.6 231.0,316.0 229.3,313.2 229.8,309.7 228.0,307.0 228.6,304.2 228.1,301.5 227.9,298.7 227.0,296.0 227.4,293.2 227.3,290.5 226.7,287.8 226.5,285.0 229.3,283.8 232.3,284.4 235.2,283.5 238.1,283.6 241.0,283.0 243.7,282.7 246.6,283.4 249.2,281.9 252.0,282.7 254.8,282.4 257.5,282.0 260.2,280.9 263.0,281.5 265.9,282.1 268.0,284.6 271.0,285.0 273.6,286.1 275.7,288.0 274.5,285.5 274.0,282.9 273.8,280.2 273.2,277.6 272.5,275.0 273.1,272.3 274.4,270.0 276.6,268.1 277.4,265.6 279.5,263.7 281.1,261.6 282.0,259.0 283.0,256.2 285.2,254.3 286.6,251.8 288.8,249.8 290.6,247.6 291.4,244.7 292.7,242.1 294.7,240.0 296.8,241.9 300.0,241.9 302.2,243.7 304.6,245.1 307.0,246.6 310.0,247.0 312.5,248.7 315.3,249.4 318.3,249.8 321.0,251.0 323.6,252.4 326.5,253.0 328.7,251.5 330.9,249.8 333.6,249.2 336.0,248.0 339.1,250.6 339.9,247.8 341.6,245.5 342.1,242.4 341.7,239.1 341.9,236.0 342.9,232.9 343.6,229.8 342.9,226.6 343.9,223.3 345.4,220.3 347.8,218.7 350.5,217.8 354.3,217.5 358.0,217.1 363.1,216.5 365.8,214.9 368.1,212.7 368.8,209.6 368.8,206.4 371.3,205.2 373.2,203.2 375.9,203.7 378.2,205.1 383.3,205.8 388.3,205.1 388.3,210.2 387.1,214.0 389.6,216.5 390.9,221.5 393.5,224.0 395.9,226.6 398.4,230.4 399.9,232.8 400.9,235.4 403.4,236.7 406.0,238.0 411.0,239.2 413.5,240.0 416.1,240.5 418.5,242.6 421.1,244.3 423.6,246.3 424.9,249.3 425.8,252.4 426.2,255.6 426.4,258.8 427.4,261.9 429.4,264.1 430.0,267.0 430.9,269.7 432.5,272.0 432.8,275.2 433.8,278.3 433.3,282.1 432.5,285.9 431.2,290.9 430.0,294.7 428.2,297.3 426.2,299.8 423.7,303.6 424.9,308.6 424.9,313.7 427.4,314.8 429.2,317.0 431.7,318.1 434.0,319.6 436.7,319.8 439.4,320.0 441.9,321.2 444.2,322.8 447.0,322.7 450.0,323.4 453.0,323.7 455.9,324.7 459.0,324.3 462.0,324.6 464.4,326.7 467.4,327.1 469.9,328.5 472.8,329.3 475.4,330.6 478.0,332.0 479.7,334.2 482.0,335.6 484.0,337.4 487.0,337.9 488.9,339.9 490.8,341.8 492.9,343.6 495.9,343.7 498.2,345.3 500.6,346.4 502.4,348.9 505.0,349.7 506.6,354.5 508.1,356.8 508.8,359.4 510.5,361.6 511.4,364.1 511.8,366.8 512.4,369.5 514.2,371.7 515.3,374.1 516.0,376.7 517.8,378.7 518.8,381.2 519.8,383.6 520.8,386.0 521.3,388.7 522.5,391.0 525.7,391.1 528.6,392.6 531.9,391.7 535.0,392.5 537.7,393.7 540.8,392.8 543.5,394.1 546.3,394.7 549.1,395.4 552.0,395.5 554.8,396.3 557.6,397.3 560.5,397.3 563.4,396.8 566.2,397.7 569.0,398.0 571.9,398.5 574.8,397.5 577.6,398.2 580.5,397.6 583.3,399.0 586.1,399.5 589.0,399.0 591.7,399.0 594.3,400.1 597.0,400.0 599.7,399.1 602.3,400.2 605.0,400.5 608.0,400.9 610.6,402.4 612.9,404.4 616.1,404.4 618.5,406.3 621.6,406.5 624.0,408.4 626.9,409.0 628.7,411.6 631.9,411.5 634.4,412.9 636.7,414.7 639.0,416.3 641.9,416.0 644.4,416.6 647.0,417.2 649.4,418.7 652.1,418.7 654.6,419.8 657.1,420.6 659.3,422.3 662.0,422.7 665.2,422.1 668.4,422.9 671.5,422.2 674.7,422.7 674.6,426.1 676.3,429.0 680.1,429.9 684.0,429.0 687.0,428.0 689.6,426.4 691.9,424.3 694.8,423.3 697.0,421.0 699.5,420.1 701.5,418.1 704.3,417.8 706.8,416.9 708.5,414.3 711.0,413.5 713.9,413.2 716.0,411.6 718.8,411.3 721.3,410.1 723.7,408.5 726.4,408.0 729.0,407.1 731.8,406.8 734.4,408.0 737.3,407.0 740.0,407.9 742.6,407.4 745.3,407.7 748.0,407.4 750.6,406.9 753.3,406.8 755.9,406.3 758.7,406.4 761.3,405.9 763.7,404.0 766.3,403.3 769.2,404.3 771.7,403.0 774.4,402.5 776.3,400.4 778.7,399.3 781.2,398.3 783.8,397.0 785.9,395.0 788.0,393.0 790.8,392.0 792.0,389.5 793.7,387.4 795.6,385.4 796.6,382.8 798.7,380.9 801.5,379.7 804.4,378.4 806.6,376.1 809.1,373.8 811.9,372.0 814.5,369.8 814.7,366.6 814.5,363.4 812.8,360.9 810.5,359.0 808.2,357.1 806.6,353.9 805.0,350.8 805.9,348.2 805.2,345.3 806.6,342.8 808.4,340.5 809.4,337.8 809.8,334.9 813.0,334.4 816.1,333.3 819.4,333.2 822.5,334.1 825.3,336.0 828.3,337.6 831.3,337.3 834.0,338.4 836.8,339.1 839.6,338.6 842.5,339.2 845.3,339.1 847.1,336.6 849.6,334.8 852.0,332.1 855.2,330.5 857.8,328.0 859.5,324.9 860.9,320.6 864.4,319.5 868.0,319.2 870.9,318.8 873.5,317.4 876.5,317.8 879.4,316.5 882.2,314.9 885.1,312.1 889.3,309.2 890.3,306.5 890.7,303.6 890.7,300.7 891.9,297.8 893.6,295.1 895.6,293.1 898.4,292.4 900.7,290.8 904.2,289.8 907.8,289.4 909.2,284.4 912.7,283.7 916.3,283.7 918.9,281.8 922.0,280.9 924.8,279.8 927.8,279.3 930.5,278.0 933.3,277.1 936.2,276.6 939.4,277.0 942.5,277.4 945.7,277.7 948.9,277.3 952.5,275.2 951.9,272.3 952.0,269.3 950.4,266.7 948.3,263.8 946.1,261.0 943.3,258.8 940.4,256.7 937.7,254.4 934.7,252.5 932.8,250.3 930.2,249.3 927.6,248.2 923.4,245.4 919.9,244.3 916.3,244.7 913.7,246.3 910.6,246.8 908.6,249.7 906.3,252.5 903.5,256.7 899.2,253.9 896.5,252.5 893.6,251.8 890.7,251.7 887.9,252.5 884.8,253.4 882.2,255.3 879.4,258.1 876.5,256.7 874.3,255.1 872.5,253.1 870.9,251.0 870.9,246.8 873.7,243.9 873.5,241.1 873.7,238.3 874.9,235.4 876.5,232.6 876.8,229.5 878.2,226.9 879.4,224.1 880.3,221.3 881.2,218.5 881.0,215.4 882.2,212.7 883.1,210.1 884.1,207.5 883.8,204.6 885.1,202.1 888.2,201.7 891.0,203.0 894.1,202.9 897.0,204.0 899.6,205.8 902.5,207.0 904.3,209.1 907.0,210.0 908.0,207.1 909.0,204.3 910.7,201.8 911.7,198.9 913.6,197.1 915.4,195.1 918.0,194.2 920.4,191.7 923.4,190.1 926.0,187.8 926.5,185.2 926.8,182.5 927.6,179.9 928.0,177.3 928.2,174.7 929.9,172.4 929.9,169.7 930.7,167.2 932.0,164.8 932.7,162.2 934.3,159.8 935.0,157.2 935.5,154.5 936.0,151.6 937.6,149.2 938.7,146.6 940.1,143.4 943.3,141.6 945.0,138.7 944.5,136.0 945.9,133.4 945.0,130.7 943.0,128.3 941.9,125.4 940.3,122.8 937.6,122.8 935.0,122.2 932.3,122.8 930.7,119.6 932.4,117.4 934.4,115.5 935.2,112.6 936.5,110.2 938.2,108.0 939.5,105.6 941.8,103.8 944.5,103.2 947.0,102.2 949.6,101.3 952.1,100.4 954.5,99.0 957.2,97.6 960.0,96.6 963.2,96.9 965.7,94.9 968.8,95.0 971.3,93.9 973.9,93.6 976.5,92.9 979.0,92.1 981.5,91.1 984.7,91.9 987.8,92.0 991.0,91.1 994.3,91.8 997.4,92.9 1000.5,94.3 1003.3,93.4 1006.0,93.6 1008.8,94.2 1011.6,94.3 1014.1,95.6 1017.0,95.9 1019.5,97.4 1022.2,98.0 1024.1,100.1 1026.5,101.3 1029.0,102.2 1031.0,104.6 1033.5,106.5 1035.4,109.0 1037.0,111.7 1038.4,114.2 1038.4,117.2 1040.0,119.6 1041.6,122.8 1045.0,124.4 1046.5,127.6 1047.0,130.3 1048.2,132.6 1049.6,134.9 1051.3,137.0 1053.3,140.0 1054.4,143.4 1055.6,146.1 1057.7,148.0 1060.0,149.8 1062.5,152.5 1063.8,155.9 1065.7,157.9 1066.3,160.6 1067.2,163.1 1068.5,165.4 1071.3,167.5 1072.1,171.2 1074.9,173.3 1077.8,173.1 1080.6,172.4 1083.5,171.8 1086.2,170.7 1089.2,170.9 1091.7,172.4 1094.3,173.4 1097.1,174.1 1099.9,172.1 1103.4,171.7 1105.2,173.7 1107.8,174.7 1109.8,176.5 1111.4,178.7 1114.2,179.4 1116.1,181.2 1119.3,180.7 1122.4,180.7 1125.6,181.2 1127.1,183.4 1128.7,185.6 1129.7,188.1 1130.4,190.7 1132.0,193.9 1133.6,197.1 1134.8,200.7 1137.3,201.7 1139.8,202.6 1142.6,202.7 1145.2,203.4 1147.7,204.5 1150.0,206.0 1153.0,206.7 1156.0,205.3 1159.0,206.3 1162.0,206.1 1165.0,206.0 1167.6,205.2 1170.3,204.7 1172.3,202.6 1175.1,202.3 1177.5,201.0 1180.0,200.0 1182.9,199.0 1186.0,198.2 1188.9,197.1 1191.8,196.1 1195.0,196.0 1198.2,197.4 1201.6,197.6 1205.0,198.0 1206.0,203.0 1203.9,205.2 1200.8,206.0 1198.6,208.2 1199.6,210.9 1199.1,213.8 1199.6,216.5 1200.2,219.3 1199.7,222.5 1200.4,225.7 1199.4,228.8 1200.2,232.0 1198.4,234.4 1197.4,237.2 1196.4,240.1 1194.8,242.5 1193.5,245.2 1191.4,247.4 1190.0,250.0 1187.9,251.6 1186.3,253.7 1184.8,255.8 1183.4,258.1 1182.0,260.3 1180.0,262.0 1177.1,263.2 1174.8,265.3 1170.0,266.9 1168.9,270.0 1168.4,273.2 1165.8,275.4 1163.7,278.0 1160.5,281.1 1162.0,283.6 1163.7,285.9 1164.8,289.3 1166.9,292.2 1167.5,295.4 1168.4,298.6 1169.9,301.1 1170.7,303.8 1171.6,306.5 1173.0,309.0 1174.1,311.6 1174.8,314.4 1174.9,317.4 1176.4,320.0 1175.2,323.1 1174.6,326.3 1174.0,329.5 1171.7,331.1 1169.3,332.6 1166.4,332.9 1163.7,333.9 1160.7,333.6 1157.8,333.7 1155.0,334.2 1154.8,336.9 1154.0,339.4 1153.5,342.0 1151.1,344.8 1150.3,348.4 1148.1,350.1 1147.8,353.1 1145.6,354.7 1143.3,356.9 1142.0,359.7 1140.9,362.6 1137.6,363.1 1134.4,364.1 1131.4,365.7 1128.4,367.8 1125.0,369.0 1126.7,372.0 1129.4,373.1 1131.4,375.2 1131.4,380.0 1128.1,381.3 1125.0,383.0 1121.8,383.0 1118.9,384.8 1115.6,384.7 1112.1,383.9 1109.3,381.5 1107.4,379.3 1104.6,378.4 1101.5,381.5 1100.0,384.5 1100.0,387.8 1098.7,391.1 1096.7,394.0 1094.6,396.9 1093.6,400.4 1091.7,402.3 1089.0,403.1 1087.3,405.2 1086.4,407.8 1083.9,409.3 1082.5,411.5 1081.3,413.9 1079.2,415.6 1077.8,417.8 1076.9,420.4 1074.4,421.8 1073.0,424.0 1072.0,426.6 1069.9,428.3 1068.3,430.4 1067.3,433.2 1065.0,435.0 1063.1,436.8 1061.3,438.7 1058.9,439.9 1055.9,441.7 1052.6,443.0 1049.4,444.1 1046.1,444.9 1043.0,446.2 1039.8,447.5 1036.8,449.3 1034.2,450.3 1031.3,450.8 1028.9,452.5 1026.3,454.2 1024.0,456.2 1021.0,457.2 1019.2,459.4 1017.9,462.0 1016.5,464.3 1014.0,465.7 1013.0,468.3 1011.6,470.5 1010.6,473.0 1008.4,474.6 1006.8,477.7 1007.0,475.0 1008.5,472.4 1008.1,469.6 1009.2,467.0 1008.9,464.2 1009.7,461.5 1010.0,458.8 1009.7,455.5 1010.5,452.4 1011.5,449.3 1013.4,446.4 1016.3,444.6 1018.5,442.1 1021.0,439.9 1019.9,436.8 1019.4,433.6 1020.3,430.5 1021.0,427.3 1017.9,424.0 1014.7,423.7 1011.5,424.0 1008.7,424.1 1005.9,423.7 1003.1,423.7 1000.5,422.5 998.6,425.4 995.8,427.3 994.4,429.5 992.0,431.1 991.0,433.6 989.9,436.5 988.0,438.9 986.3,441.4 984.6,444.4 981.6,446.2 978.4,447.2 975.4,448.5 973.4,450.8 971.3,453.0 969.0,455.0 967.7,457.6 966.3,460.1 964.6,462.4 963.5,465.1 961.2,467.1 960.0,469.7 956.6,471.4 954.1,474.4 951.4,474.9 949.3,476.8 944.5,476.8 941.4,477.6 939.8,481.5 939.2,484.8 938.2,487.9 939.5,490.5 939.0,493.4 940.6,497.4 944.5,499.8 946.7,501.4 949.3,502.2 951.9,502.6 954.6,503.3 957.2,503.7 959.1,505.6 961.0,507.5 963.4,508.7 965.5,510.2 967.5,512.0 969.3,514.1 970.6,516.4 971.6,518.9 972.3,521.5 974.8,523.2 975.9,526.3 978.6,527.9 981.8,528.8 985.0,529.4 985.8,526.2 987.9,523.7 989.6,521.0 991.3,518.3 993.4,516.3 994.3,513.5 996.1,511.2 997.6,508.8 999.5,506.9 1001.7,505.3 1004.0,504.0 1006.8,502.5 1010.0,502.5 1013.2,503.7 1016.7,504.0 1019.0,505.6 1021.1,507.5 1023.6,508.9 1026.0,510.4 1029.1,509.3 1032.4,509.2 1035.6,508.9 1038.9,508.8 1041.6,511.6 1045.0,513.6 1044.9,516.4 1043.5,519.0 1043.4,521.9 1043.6,524.7 1040.8,526.0 1038.3,527.8 1035.7,529.4 1032.5,529.1 1029.2,529.7 1026.0,529.4 1024.0,531.2 1021.1,531.2 1019.1,533.1 1016.7,534.2 1013.9,535.7 1011.9,538.1 1010.0,540.5 1008.4,542.8 1007.1,545.3 1005.2,547.4 1004.0,550.0 1001.7,552.0 999.0,553.2 998.3,556.4 997.3,559.6 996.0,562.7 994.5,565.0 993.4,567.5 993.9,570.6 993.0,573.2 991.3,575.4 990.3,577.9 988.6,580.1 987.8,582.7 986.5,585.0 987.7,587.4 989.0,589.7 991.3,591.3 993.5,592.7 995.9,593.9 998.7,594.2 1000.8,596.0 1003.0,598.1 1005.2,600.2 1008.1,601.6 1010.0,604.0 1012.1,606.1 1012.4,609.2 1013.2,612.0 1015.1,614.3 1016.7,616.7 1018.4,619.0 1018.6,622.1 1020.8,624.2 1022.0,626.7 1023.0,629.4 1024.1,631.9 1025.8,634.1 1027.2,636.5 1028.8,638.7 1031.0,640.5 1033.8,641.0 1035.9,642.6 1038.0,644.5 1040.4,645.6 1042.2,647.7 1042.7,650.7 1044.6,652.7 1047.9,654.5 1051.6,655.5 1052.6,658.1 1053.8,660.6 1055.9,662.6 1056.0,665.5 1056.0,668.3 1057.3,671.0 1058.3,674.3 1059.7,677.4 1060.0,680.9 1058.6,684.4 1057.3,688.0 1054.5,688.3 1052.3,689.9 1050.0,691.4 1047.4,692.2 1047.4,695.2 1046.0,697.8 1048.3,699.2 1050.2,701.1 1051.6,703.4 1053.8,705.2 1056.5,706.0 1058.7,707.7 1061.5,708.2 1064.3,709.0 1062.8,711.6 1062.9,714.7 1060.3,717.1 1057.3,719.0 1056.3,721.7 1055.9,724.6 1056.9,728.0 1057.3,731.6 1058.2,735.1 1058.7,738.7 1057.9,741.5 1056.9,744.3 1055.9,747.0 1055.8,749.7 1054.2,751.9 1053.6,754.5 1053.0,757.0 1052.7,760.5 1050.3,763.4 1050.2,766.9 1047.6,769.2 1046.8,772.7 1044.6,775.3 1043.0,778.3 1040.4,780.7 1039.0,783.8 1037.6,786.6 1036.0,789.3 1034.7,792.2 1033.8,795.1 1033.4,798.0 1033.8,801.1 1032.9,803.9 1031.9,806.8 1032.0,809.8 1031.9,812.5 1032.6,815.0 1033.3,817.5 1034.1,820.0 1035.0,822.5 1035.1,825.8 1033.7,828.8 1032.4,831.8 1032.0,835.0 1030.1,837.0 1028.1,838.9 1025.4,839.7 1023.0,841.1 1020.6,842.4 1019.0,844.7 1016.6,846.5 1014.9,848.9 1013.3,851.5 1010.4,852.7 1008.1,854.4 1006.5,857.0 1004.4,859.1 1002.2,861.3 1000.7,864.0 998.3,865.9 995.8,867.7 993.8,870.0 991.7,871.8 990.8,874.4 988.4,876.0 987.1,878.4 985.6,880.5 984.0,882.7 982.5,885.0 980.0,886.3 978.9,888.9 976.7,890.5 974.7,892.3 972.3,894.2 970.5,896.6 968.6,898.9 967.8,902.1 965.0,903.7 963.7,906.5 961.2,907.8 958.9,909.5 955.8,909.6 953.6,911.5 950.4,911.6 947.4,912.4 944.7,914.1 941.5,913.7 938.4,912.8 936.0,913.9 933.2,913.3 930.7,914.3 928.3,915.3 925.4,915.9 923.1,917.5 920.3,918.3 918.2,920.4 914.8,921.9 911.9,924.2 908.5,925.6 905.6,928.0 903.5,926.0 900.6,925.4 899.8,922.3 899.3,919.1 895.5,920.4 894.3,923.0 894.7,926.0 893.2,928.6 893.4,931.5 893.0,934.3 889.9,935.7 887.6,938.4 884.2,939.3 882.3,941.6 880.3,943.8 877.9,945.6 874.8,946.8 871.6,946.6 868.4,947.0 865.2,946.9 862.9,948.3 860.3,948.8 857.5,948.6 855.3,950.4 852.6,950.7 849.9,951.6 847.2,952.4 845.4,955.3 842.4,955.4 840.0,957.0 837.3,958.6 834.4,959.5 831.5,960.3 828.2,960.3 825.6,962.0 823.0,963.7 821.9,966.8 819.3,968.4 817.7,971.4 817.8,975.0 816.0,978.0 814.1,980.2 811.2,981.4 809.8,984.0 809.4,980.7 807.0,978.0 806.6,974.7 806.1,972.1 805.2,969.7 805.0,967.0 804.7,964.4 803.4,962.0 800.3,961.1 797.3,959.7 794.1,959.0 790.8,958.9 788.0,959.0 785.2,958.8 782.5,958.1 779.9,957.1 777.2,956.3 774.5,955.5 771.7,955.7 768.7,956.0 765.8,956.8 763.0,957.7 759.8,957.5 756.6,957.4 753.5,957.9 750.3,957.7 747.9,956.5 745.6,955.4 743.1,954.4 740.6,953.8 738.1,953.0 735.5,952.4 732.8,950.8 731.0,948.4 729.1,946.2 727.0,944.0 726.7,941.0 726.5,938.1 726.8,935.1 727.6,932.2 727.0,929.2 724.6,927.4 723.4,924.4 720.7,922.8 717.8,923.3 715.0,922.2 712.3,921.4 709.5,920.9 706.5,921.9 703.8,920.7 701.0,920.1 698.4,918.9 696.2,916.8 693.3,916.3 691.1,914.4 688.6,915.8 686.2,917.3 683.8,918.8 681.0,919.6 678.4,920.7 676.0,922.0 673.5,923.0 671.3,924.6 669.1,926.3 666.5,927.0 663.8,927.7 661.5,929.2 658.7,930.1 655.9,929.2 653.0,930.1 650.2,928.5 647.4,929.7 644.6,929.2 642.0,930.4 639.8,932.4 636.9,932.9 634.2,933.8 631.9,935.5 629.6,933.3 626.9,931.9 624.3,930.2 621.3,929.2 619.5,931.6 616.4,932.2 614.4,934.4 611.6,934.6 609.4,932.5 606.7,932.5 604.1,933.8 602.6,936.1 600.9,938.3 601.3,940.9 601.8,943.6 603.5,945.9 602.8,948.8 604.8,951.0 604.7,953.8 605.2,956.5 605.1,959.2 604.4,962.0 604.9,964.7 604.7,967.4 601.8,967.1 598.9,966.4 596.1,965.5 593.1,965.4 591.2,961.6 590.4,958.7 589.2,956.1 587.3,953.8 583.4,954.2 579.5,953.8 577.3,955.8 574.7,957.1 571.8,957.7 569.0,957.7 566.7,955.9 564.0,955.7 562.1,953.5 561.9,950.4 560.2,948.0 557.6,946.7 556.3,944.1 553.7,943.0 550.7,943.0 548.2,941.5 545.5,940.5 542.7,940.2 543.6,937.0 543.3,933.6 544.7,930.5 545.4,927.7 547.4,925.6 549.7,923.7 550.5,920.9 550.5,917.0 547.6,916.6 544.6,916.4 541.7,915.6 538.8,915.0 538.1,912.2 535.8,910.1 535.0,907.3 534.0,904.8 535.1,902.0 533.9,899.6 533.6,897.0 533.0,894.4 533.0,891.8 531.1,887.9 528.4,888.4 525.7,887.2 522.9,887.4 520.2,888.3 517.5,887.9 514.5,888.5 511.5,889.1 508.8,891.0 505.9,891.8 507.1,889.3 505.8,886.5 507.5,884.1 507.8,881.5 507.0,878.8 507.8,876.3 508.4,873.7 509.4,871.3 510.1,868.8 511.7,866.6 513.2,864.4 514.0,861.9 515.1,859.5 515.6,856.9 517.7,855.1 519.1,852.7 520.8,850.5 523.3,849.1 525.6,847.7 528.3,847.7 530.3,845.4 533.0,845.3 534.2,843.0 535.0,840.5 536.1,838.1 537.4,835.8 538.8,833.6 539.1,830.9 538.5,828.1 538.6,825.3 540.0,822.6 540.0,819.8 539.4,817.0 539.8,814.3 539.1,811.2 539.6,808.1 540.0,804.9 539.5,801.9 538.8,798.8 535.5,798.2 532.4,797.2 529.1,796.8 528.5,794.2 528.8,791.6 528.2,789.0 527.0,786.6 527.8,783.8 527.2,781.3 525.8,778.3 523.3,776.2 521.4,773.6 518.3,773.2 515.6,771.6 514.5,774.2 513.2,776.7 510.7,778.6 509.8,781.3 507.5,783.2 506.2,785.9 504.2,788.1 502.0,790.0 499.4,788.7 497.5,786.5 495.9,783.9 493.4,782.4 491.4,780.4 488.2,779.8 486.5,777.4 483.8,775.9 480.9,775.2 477.9,774.7 474.9,774.5 472.2,775.9 468.9,775.3 466.0,775.8 463.3,777.4 460.8,778.2 458.6,779.7 456.4,781.2 453.7,781.5 451.6,783.1 449.5,784.7 447.3,786.3 445.0,787.5 442.2,787.6 440.0,789.1 437.1,790.6 434.2,792.1 431.0,792.6 428.5,794.0 425.8,794.9 422.9,795.3 420.5,797.0 418.1,798.7 415.0,798.7 412.4,800.0 409.9,801.3 407.3,802.5 404.3,801.5 401.1,802.2 398.0,802.0 394.8,802.3 391.8,801.3 390.5,798.7 388.8,796.4 387.7,793.7 385.5,791.8 383.4,789.6 382.8,786.8 381.5,784.2 380.2,781.6 379.0,779.0 376.4,777.5 375.3,774.5 372.8,772.8 369.9,772.3 367.8,770.1 365.0,769.3 362.5,767.9 360.0,766.5 357.6,764.9 354.6,764.8 352.2,763.2 349.4,762.6 347.0,760.9 344.3,760.0 341.6,760.5 338.9,760.8 336.5,762.4 333.7,762.0 331.0,762.5 328.4,763.3 326.8,766.0 323.5,766.9 322.0,769.6 320.4,772.5 319.4,775.7 318.9,779.0 315.9,777.0 312.5,776.0 311.9,773.5 312.0,770.7 310.0,768.5 310.4,765.7 309.4,763.3 306.6,760.9 303.0,760.0 299.9,760.5 296.9,759.1 293.8,759.1 291.0,757.7 287.8,758.6 285.0,757.2 282.2,756.1 279.1,756.6 276.2,755.6 273.2,755.5 270.4,754.0 267.4,753.8 264.6,752.7 261.7,751.9 258.6,752.1 256.4,750.7 253.5,750.4 251.5,748.5 249.6,745.8 246.6,744.1 244.5,741.5 242.2,740.2 239.9,738.8 237.4,738.0 233.9,734.5 231.9,731.2 228.6,729.2 226.6,727.0 223.9,725.4 222.3,722.8 220.3,720.7 218.1,718.6 217.3,715.5 215.2,712.9 214.5,709.8 212.2,708.6 209.5,708.2 207.5,706.3 204.8,705.4 202.2,706.3 200.5,703.9 200.4,701.0 197.9,698.3 195.2,695.7 192.1,693.5 189.9,690.4 187.8,688.3 186.2,685.8 184.6,683.4 182.0,682.6 179.7,681.4 177.5,679.8 176.6,676.9 176.4,673.9 175.8,671.0 172.2,667.5 169.9,665.8 167.0,665.7 164.5,667.1 161.7,667.5 159.7,669.7 157.5,671.7 154.6,672.8 153.9,669.8 152.4,667.3 151.2,664.6 149.3,662.2 146.0,661.0 143.4,658.8 140.5,656.9 138.4,654.9 135.9,653.3 133.5,651.6 133.0,648.0 131.7,644.6 129.1,643.9 127.4,641.6 124.7,641.1 122.4,639.2 120.1,637.4 117.6,635.8 116.0,633.1 114.1,630.5 113.4,627.6 112.0,624.8 112.3,621.7 112.3,618.6 113.5,615.8 114.1,612.9 112.5,609.5 112.3,605.8 112.5,603.1 111.7,600.5 112.6,597.9 112.3,595.2 114.1,593.5 116.7,592.9 119.4,592.6 119.1,595.7 119.4,598.8 122.9,602.3 125.4,601.0 128.2,600.5 130.0,598.2 132.6,597.0 132.4,593.5 131.7,590.0 132.3,586.5 131.7,582.9 130.0,580.2 128.6,577.3 128.2,574.1 127.9,570.4 126.4,567.0 127.7,563.6 128.2,560.0 129.3,557.0 129.9,554.0 130.0,550.8 128.7,548.4 128.4,545.6 127.1,543.2 125.4,541.0 125.9,538.2 126.2,535.5 126.1,532.8 125.5,530.0 124.6,527.2 125.6,524.5 125.4,521.8 125.4,519.0 122.9,517.7 121.4,515.4 120.2,512.9 118.0,511.2 116.0,509.5 114.5,507.0 112.3,505.4 109.6,504.2 108.3,501.6 106.0,500.0 103.1,499.2 101.0,497.0 99.0,494.9 96.1,494.3 94.5,491.8 91.7,491.0 90.9,488.3 92.1,485.7 91.0,483.0 92.4,480.3 92.3,477.7 91.7,475.0 90.0,472.6 88.4,470.2 86.3,468.2 85.0,465.5 82.4,464.4 79.8,463.5 77.5,461.8 74.9,460.9 72.7,459.0 70.5,455.9 68.0,453.0 70.7,452.2 73.4,451.2 76.2,450.5 79.0,450.0 80.3,447.5 80.8,444.8 81.3,442.2 80.8,439.3 80.8,436.5 82.0,434.0 80.9,431.4 81.6,428.5 80.2,426.0 79.4,423.5 80.3,420.5 79.0,418.0 76.7,416.3 75.3,413.9 73.2,412.1 70.9,410.4 69.5,408.0 67.6,405.1 66.0,402.0 66.6,399.3 66.2,396.5 66.9,393.8" fill="none" stroke="#000" stroke-width="1.3" stroke-linejoin="round"/>
<polygon points="778.0,1012.8 778.6,1009.4 780.4,1006.4 781.0,1003.0 784.2,1001.9 787.5,1000.7 790.8,1000.0 793.9,999.1 797.2,999.1 800.4,998.4 803.4,997.0 806.0,996.2 808.6,995.6 811.3,995.1 814.1,995.3 816.8,994.9 819.3,993.8 822.4,992.9 825.6,992.4 828.8,992.2 832.0,992.0 832.3,994.9 833.0,997.6 833.6,1000.4 835.0,1003.0 833.9,1005.6 833.1,1008.5 831.9,1011.1 829.7,1013.2 828.8,1016.0 827.4,1018.5 826.0,1021.0 824.3,1023.3 822.5,1025.5 821.0,1027.8 818.3,1028.9 816.9,1031.3 814.9,1033.1 813.0,1035.0 810.6,1036.7 807.9,1037.5 805.5,1039.1 802.6,1039.6 800.3,1041.4 797.9,1040.2 795.3,1039.7 792.7,1039.3 790.2,1038.4 787.6,1038.0 785.3,1036.6 783.6,1034.4 782.2,1032.0 780.2,1030.3 778.0,1028.7 777.7,1026.0 777.8,1023.4 777.5,1020.8 777.3,1018.1 778.6,1015.4" fill="none" stroke="#000" stroke-width="1.2"/>
<polygon points="1049.4,889.1 1049.2,886.0 1049.9,883.1 1050.8,880.2 1051.6,877.3 1051.9,874.3 1052.8,871.8 1053.7,869.2 1055.5,867.1 1056.6,864.6 1057.4,862.0 1057.8,859.3 1059.3,857.0 1060.7,854.7 1061.6,852.1 1062.8,849.8 1063.8,847.3 1064.7,844.7 1065.5,842.2 1066.7,839.8 1069.0,838.2 1071.0,836.3 1073.0,834.3 1074.3,831.7 1076.5,829.9 1079.6,831.2 1082.5,832.8 1085.2,834.8 1086.4,839.8 1085.7,842.6 1085.0,845.4 1085.6,848.5 1084.9,851.3 1084.3,854.1 1084.0,857.0 1084.0,859.8 1083.6,862.5 1083.7,865.2 1083.3,868.0 1082.6,870.7 1082.8,873.4 1082.3,876.2 1083.0,879.0 1082.7,881.7 1082.2,884.9 1081.2,888.0 1080.3,891.1 1079.0,894.1 1077.7,896.9 1077.4,900.1 1076.0,903.0 1074.5,905.8 1074.1,908.9 1073.4,912.2 1072.8,915.6 1071.6,918.8 1069.5,915.9 1066.7,913.8 1065.4,910.9 1062.5,909.3 1061.5,906.2 1059.3,904.0 1058.0,901.1 1055.4,899.2 1053.6,896.7 1051.9,894.1 1050.3,891.8" fill="none" stroke="#000" stroke-width="1.2"/>
<polyline points="903.8,208.5 907.0,210.0 908.0,207.1 909.0,204.3 910.7,201.8 911.7,198.9 913.6,197.1 915.4,195.1 918.0,194.2 920.4,191.7 923.4,190.1 926.0,187.8 926.5,185.2 926.8,182.5 927.6,179.9 928.0,177.3 928.2,174.7 929.9,172.4 929.9,169.7 930.7,167.2 932.0,164.8 932.7,162.2 934.3,159.8 935.0,157.2 935.5,154.5 936.0,151.6 937.6,149.2 938.7,146.6 940.1,143.4 943.3,141.6 945.0,138.7 944.5,136.0 945.9,133.4 945.0,130.7 943.0,128.3 941.9,125.4 940.3,122.8 937.6,122.8 935.0,122.2 932.3,122.8 930.7,119.6 932.4,117.4 934.4,115.5 935.2,112.6 936.5,110.2 938.2,108.0 939.5,105.6 941.8,103.8 944.5,103.2 947.0,102.2 949.6,101.3 952.1,100.4 954.5,99.0 957.2,97.6 960.0,96.6 963.2,96.9 965.7,94.9 968.8,95.0 971.3,93.9 973.9,93.6 976.5,92.9 979.0,92.1 981.5,91.1 984.7,91.9 987.8,92.0 991.0,91.1 994.3,91.8 997.4,92.9 1000.5,94.3 1003.3,93.4 1006.0,93.6 1008.8,94.2 1011.6,94.3 1014.1,95.6 1017.0,95.9 1019.5,97.4 1022.2,98.0 1024.1,100.1 1026.5,101.3 1029.0,102.2 1031.0,104.6 1033.5,106.5 1035.4,109.0 1037.0,111.7 1038.4,114.2 1038.4,117.2 1040.0,119.6 1041.6,122.8 1045.0,124.4 1046.5,127.6 1047.0,130.3 1048.2,132.6 1049.6,134.9 1051.3,137.0 1053.3,140.0 1054.4,143.4 1055.6,146.1 1057.7,148.0 1060.0,149.8 1062.5,152.5 1063.8,155.9 1065.7,157.9 1066.3,160.6 1067.2,163.1 1068.5,165.4 1071.3,167.5 1072.1,171.2 1074.9,173.3 1077.8,173.1 1080.6,172.4 1083.5,171.8 1086.2,170.7 1089.2,170.9 1091.7,172.4 1094.3,173.4 1097.1,174.1 1099.9,172.1 1103.4,171.7 1105.2,173.7 1107.8,174.7 1109.8,176.5 1111.4,178.7 1114.2,179.4 1116.1,181.2 1119.3,180.7 1122.4,180.7 1125.6,181.2 1127.1,183.4 1128.7,185.6 1129.7,188.1 1130.4,190.7 1132.0,193.9 1133.6,197.1 1134.8,200.7" fill="none" stroke="#1652B0" stroke-width="2.2" stroke-linejoin="round"/>
<g fill="#C00000">
<circle cx="352.8" cy="226.6" r="5.0"/>
<circle cx="366.1" cy="236.5" r="5.0"/>
<circle cx="377.2" cy="246.6" r="5.0"/>
<circle cx="384.2" cy="257.7" r="5.0"/>
<circle cx="413.1" cy="261.8" r="5.0"/>
<circle cx="290.9" cy="251.4" r="5.0"/>
<circle cx="303.9" cy="253.6" r="5.0"/>
<circle cx="266.5" cy="297.4" r="5.0"/>
<circle cx="277.9" cy="299.0" r="5.0"/>
<circle cx="314.4" cy="301.5" r="5.0"/>
<circle cx="304.3" cy="312.0" r="5.0"/>
<circle cx="314.7" cy="315.8" r="5.0"/>
<circle cx="230.7" cy="313.9" r="5.0"/>
<circle cx="232.9" cy="336.7" r="5.0"/>
<circle cx="257.3" cy="328.5" r="5.0"/>
<circle cx="268.7" cy="334.5" r="5.0"/>
<circle cx="331.2" cy="319.6" r="5.0"/>
<circle cx="337.6" cy="321.2" r="5.0"/>
<circle cx="348.7" cy="325.0" r="5.0"/>
<circle cx="357.5" cy="331.6" r="5.0"/>
<circle cx="364.5" cy="333.5" r="5.0"/>
<circle cx="369.3" cy="334.5" r="5.0"/>
<circle cx="356.9" cy="343.4" r="5.0"/>
<circle cx="370.5" cy="352.2" r="5.0"/>
<circle cx="388.6" cy="339.2" r="5.0"/>
<circle cx="396.9" cy="340.5" r="5.0"/>
<circle cx="407.7" cy="350.7" r="5.0"/>
<circle cx="191.3" cy="374.1" r="5.0"/>
<circle cx="201.8" cy="378.9" r="5.0"/>
<circle cx="179.3" cy="393.2" r="5.0"/>
<circle cx="212.3" cy="398.2" r="5.0"/>
<circle cx="210.7" cy="402.0" r="5.0"/>
<circle cx="253.5" cy="376.0" r="5.0"/>
<circle cx="254.8" cy="381.7" r="5.0"/>
<circle cx="257.3" cy="399.8" r="5.0"/>
<circle cx="270.3" cy="397.6" r="5.0"/>
<circle cx="286.2" cy="389.4" r="5.0"/>
<circle cx="315.4" cy="391.9" r="5.0"/>
<circle cx="313.8" cy="407.1" r="5.0"/>
<circle cx="327.1" cy="378.3" r="5.0"/>
<circle cx="334.4" cy="381.4" r="5.0"/>
<circle cx="331.8" cy="387.8" r="5.0"/>
<circle cx="134.2" cy="431.5" r="5.0"/>
<circle cx="147.5" cy="474.4" r="5.0"/>
<circle cx="185.3" cy="471.8" r="5.0"/>
<circle cx="168.8" cy="477.5" r="5.0"/>
<circle cx="173.2" cy="485.2" r="5.0"/>
<circle cx="181.5" cy="484.5" r="5.0"/>
<circle cx="190.1" cy="492.5" r="5.0"/>
<circle cx="206.6" cy="498.8" r="5.0"/>
<circle cx="229.1" cy="500.4" r="5.0"/>
<circle cx="293.8" cy="478.8" r="5.0"/>
<circle cx="529.8" cy="456.5" r="5.0"/>
<circle cx="553.2" cy="469.8" r="5.0"/>
<circle cx="556.4" cy="472.3" r="5.0"/>
<circle cx="574.8" cy="463.5" r="5.0"/>
<circle cx="577.4" cy="478.7" r="5.0"/>
<circle cx="588.5" cy="488.2" r="5.0"/>
<circle cx="657.3" cy="475.5" r="5.0"/>
<circle cx="598.0" cy="508.2" r="5.0"/>
<circle cx="640.8" cy="514.5" r="5.0"/>
<circle cx="612.2" cy="539.6" r="5.0"/>
<circle cx="492.7" cy="557.4" r="5.0"/>
<circle cx="588.5" cy="570.0" r="5.0"/>
<circle cx="608.1" cy="576.1" r="5.0"/>
<circle cx="783.6" cy="432.2" r="5.0"/>
<circle cx="738.7" cy="448.5" r="5.0"/>
<circle cx="750.8" cy="450.7" r="5.0"/>
<circle cx="774.1" cy="457.0" r="5.0"/>
<circle cx="777.8" cy="457.0" r="5.0"/>
<circle cx="798.9" cy="461.8" r="5.0"/>
<circle cx="728.6" cy="454.9" r="5.0"/>
<circle cx="726.5" cy="459.1" r="5.0"/>
<circle cx="724.4" cy="462.3" r="5.0"/>
<circle cx="721.0" cy="466.0" r="5.0"/>
<circle cx="718.6" cy="470.8" r="5.0"/>
<circle cx="719.6" cy="476.0" r="5.0"/>
<circle cx="720.2" cy="481.3" r="5.0"/>
<circle cx="719.1" cy="493.0" r="5.0"/>
<circle cx="721.2" cy="496.1" r="5.0"/>
<circle cx="714.9" cy="500.4" r="5.0"/>
<circle cx="716.0" cy="503.0" r="5.0"/>
<circle cx="711.7" cy="506.7" r="5.0"/>
<circle cx="712.8" cy="510.9" r="5.0"/>
<circle cx="714.0" cy="516.0" r="5.0"/>
<circle cx="709.6" cy="519.4" r="5.0"/>
<circle cx="706.0" cy="526.0" r="5.0"/>
<circle cx="703.3" cy="531.0" r="5.0"/>
<circle cx="696.0" cy="537.0" r="5.0"/>
<circle cx="690.6" cy="538.9" r="5.0"/>
<circle cx="686.0" cy="540.0" r="5.0"/>
<circle cx="672.0" cy="545.0" r="5.0"/>
<circle cx="668.0" cy="547.0" r="5.0"/>
<circle cx="783.6" cy="493.0" r="5.0"/>
<circle cx="768.3" cy="515.2" r="5.0"/>
<circle cx="769.3" cy="534.2" r="5.0"/>
<circle cx="794.2" cy="519.4" r="5.0"/>
<circle cx="799.5" cy="486.6" r="5.0"/>
<circle cx="783.5" cy="493.6" r="5.0"/>
<circle cx="829.5" cy="497.1" r="5.0"/>
<circle cx="822.9" cy="517.7" r="5.0"/>
<circle cx="833.3" cy="522.1" r="5.0"/>
<circle cx="793.7" cy="519.9" r="5.0"/>
<circle cx="801.1" cy="403.9" r="5.0"/>
<circle cx="933.5" cy="350.0" r="5.0"/>
<circle cx="908.9" cy="385.6" r="5.0"/>
<circle cx="811.4" cy="449.1" r="5.0"/>
<circle cx="847.9" cy="443.5" r="5.0"/>
<circle cx="842.3" cy="453.0" r="5.0"/>
<circle cx="871.6" cy="419.0" r="5.0"/>
<circle cx="866.9" cy="431.6" r="5.0"/>
<circle cx="895.4" cy="414.2" r="5.0"/>
<circle cx="900.2" cy="411.0" r="5.0"/>
<circle cx="933.5" cy="409.4" r="5.0"/>
<circle cx="938.3" cy="409.4" r="5.0"/>
<circle cx="898.6" cy="449.1" r="5.0"/>
<circle cx="911.3" cy="452.3" r="5.0"/>
<circle cx="920.8" cy="458.6" r="5.0"/>
<circle cx="931.9" cy="457.0" r="5.0"/>
<circle cx="855.8" cy="466.5" r="5.0"/>
<circle cx="854.2" cy="471.3" r="5.0"/>
<circle cx="849.4" cy="476.0" r="5.0"/>
<circle cx="873.2" cy="468.1" r="5.0"/>
<circle cx="771.7" cy="456.2" r="5.0"/>
<circle cx="800.3" cy="461.8" r="5.0"/>
<circle cx="793.7" cy="520.8" r="5.0"/>
<circle cx="769.2" cy="535.1" r="5.0"/>
<circle cx="823.1" cy="520.0" r="5.0"/>
<circle cx="833.4" cy="522.4" r="5.0"/>
<circle cx="875.4" cy="530.3" r="5.0"/>
<circle cx="874.6" cy="534.3" r="5.0"/>
<circle cx="845.3" cy="548.5" r="5.0"/>
<circle cx="842.1" cy="553.3" r="5.0"/>
<circle cx="845.3" cy="557.3" r="5.0"/>
<circle cx="851.6" cy="566.8" r="5.0"/>
<circle cx="866.7" cy="549.3" r="5.0"/>
<circle cx="881.8" cy="547.0" r="5.0"/>
<circle cx="886.5" cy="550.1" r="5.0"/>
<circle cx="875.4" cy="560.4" r="5.0"/>
<circle cx="897.6" cy="583.4" r="5.0"/>
<circle cx="898.4" cy="524.0" r="5.0"/>
<circle cx="805.3" cy="576.3" r="5.0"/>
<circle cx="800.9" cy="587.4" r="5.0"/>
<circle cx="816.4" cy="590.6" r="5.0"/>
<circle cx="796.9" cy="597.7" r="5.0"/>
<circle cx="795.3" cy="604.0" r="5.0"/>
<circle cx="792.9" cy="608.8" r="5.0"/>
<circle cx="789.0" cy="612.8" r="5.0"/>
<circle cx="776.3" cy="608.8" r="5.0"/>
<circle cx="774.7" cy="617.5" r="5.0"/>
<circle cx="768.4" cy="618.3" r="5.0"/>
<circle cx="762.8" cy="621.5" r="5.0"/>
<circle cx="756.5" cy="624.7" r="5.0"/>
<circle cx="750.9" cy="626.3" r="5.0"/>
<circle cx="750.1" cy="615.9" r="5.0"/>
<circle cx="731.9" cy="620.7" r="5.0"/>
<circle cx="747.0" cy="601.7" r="5.0"/>
<circle cx="759.6" cy="624.8" r="5.0"/>
<circle cx="767.6" cy="623.2" r="5.0"/>
<circle cx="991.5" cy="94.3" r="5.0"/>
<circle cx="1022.7" cy="112.2" r="5.0"/>
<circle cx="1033.3" cy="128.8" r="8.4"/>
<circle cx="1055.2" cy="167.2" r="5.0"/>
<circle cx="1037.0" cy="176.7" r="8.4"/>
<circle cx="1009.2" cy="182.8" r="11.9"/>
<circle cx="957.2" cy="172.3" r="5.0"/>
<circle cx="946.3" cy="180.2" r="5.0"/>
<circle cx="950.7" cy="193.1" r="5.0"/>
<circle cx="965.6" cy="204.5" r="8.4"/>
<circle cx="952.2" cy="207.7" r="5.0"/>
<circle cx="903.2" cy="209.7" r="5.0"/>
<circle cx="1021.6" cy="205.8" r="5.0"/>
<circle cx="1030.2" cy="215.9" r="8.4"/>
<circle cx="1001.6" cy="216.4" r="8.4"/>
<circle cx="1053.6" cy="205.3" r="5.0"/>
<circle cx="1049.4" cy="219.2" r="5.0"/>
<circle cx="1014.5" cy="230.6" r="11.9"/>
<circle cx="1025.9" cy="236.2" r="8.4"/>
<circle cx="989.4" cy="244.9" r="9.0"/>
<circle cx="1043.3" cy="236.2" r="5.0"/>
<circle cx="1036.2" cy="247.3" r="5.0"/>
<circle cx="1006.9" cy="248.1" r="8.5"/>
<circle cx="950.9" cy="238.1" r="5.0"/>
<circle cx="944.2" cy="253.2" r="5.0"/>
<circle cx="1056.0" cy="233.8" r="5.0"/>
<circle cx="1056.0" cy="242.5" r="5.0"/>
<circle cx="1055.1" cy="167.8" r="5.0"/>
<circle cx="1068.5" cy="182.8" r="7.6"/>
<circle cx="1086.0" cy="182.8" r="11.6"/>
<circle cx="1120.9" cy="187.6" r="8.4"/>
<circle cx="1066.2" cy="199.5" r="8.4"/>
<circle cx="1053.5" cy="205.0" r="5.0"/>
<circle cx="1071.7" cy="217.7" r="11.5"/>
<circle cx="1086.0" cy="225.6" r="10.5"/>
<circle cx="1093.9" cy="239.9" r="6.5"/>
<circle cx="1079.6" cy="232.0" r="10.5"/>
<circle cx="1112.2" cy="224.8" r="5.0"/>
<circle cx="1057.4" cy="232.8" r="5.0"/>
<circle cx="1056.7" cy="242.3" r="5.0"/>
<circle cx="1043.2" cy="235.9" r="5.0"/>
<circle cx="1060.6" cy="251.8" r="5.0"/>
<circle cx="1068.5" cy="251.0" r="5.5"/>
<circle cx="1076.5" cy="254.2" r="10.5"/>
<circle cx="1081.2" cy="260.5" r="6.5"/>
<circle cx="1065.4" cy="263.7" r="5.0"/>
<circle cx="1073.3" cy="265.3" r="5.0"/>
<circle cx="1098.7" cy="258.1" r="5.0"/>
<circle cx="1091.5" cy="269.2" r="5.0"/>
<circle cx="1070.1" cy="276.4" r="5.0"/>
<circle cx="1076.5" cy="277.2" r="5.0"/>
<circle cx="1086.8" cy="281.1" r="5.0"/>
<circle cx="1044.8" cy="260.5" r="5.0"/>
<circle cx="1051.1" cy="282.7" r="5.0"/>
<circle cx="1062.2" cy="289.1" r="5.0"/>
<circle cx="1095.5" cy="293.8" r="8.5"/>
<circle cx="1101.8" cy="287.5" r="5.0"/>
<circle cx="1082.0" cy="301.0" r="5.0"/>
<circle cx="1090.7" cy="310.5" r="5.0"/>
<circle cx="1063.0" cy="312.9" r="5.0"/>
<circle cx="1115.3" cy="260.5" r="5.0"/>
<circle cx="1112.2" cy="266.9" r="5.0"/>
<circle cx="1109.8" cy="273.2" r="5.0"/>
<circle cx="1128.8" cy="251.8" r="5.0"/>
<circle cx="1139.1" cy="248.2" r="5.0"/>
<circle cx="1154.2" cy="251.0" r="5.0"/>
<circle cx="1158.1" cy="258.1" r="5.0"/>
<circle cx="1157.3" cy="264.5" r="5.0"/>
<circle cx="1153.4" cy="270.8" r="5.0"/>
<circle cx="1139.9" cy="279.6" r="5.0"/>
<circle cx="1132.0" cy="289.9" r="5.0"/>
<circle cx="1135.9" cy="294.6" r="5.0"/>
<circle cx="1149.4" cy="290.6" r="5.0"/>
<circle cx="1162.1" cy="295.4" r="5.0"/>
<circle cx="1165.3" cy="292.2" r="5.0"/>
<circle cx="1129.6" cy="309.7" r="5.0"/>
<circle cx="1195.0" cy="189.5" r="17.8"/>
<circle cx="1176.5" cy="190.7" r="12.8"/>
<circle cx="1186.3" cy="206.7" r="12.8"/>
<circle cx="1159.2" cy="214.1" r="14.1"/>
<circle cx="1140.7" cy="219.1" r="14.7"/>
<circle cx="1169.0" cy="224.0" r="12.8"/>
<circle cx="1191.3" cy="246.2" r="16.5"/>
<circle cx="1187.6" cy="262.2" r="11.6"/>
<circle cx="1132.0" cy="233.9" r="6.5"/>
<circle cx="1151.8" cy="233.9" r="6.5"/>
<circle cx="1145.0" cy="228.0" r="8.5"/>
<circle cx="1176.0" cy="234.0" r="8.5"/>
<circle cx="950.6" cy="237.9" r="5.0"/>
<circle cx="944.2" cy="253.0" r="5.0"/>
<circle cx="989.1" cy="244.6" r="9.2"/>
<circle cx="976.3" cy="276.3" r="8.5"/>
<circle cx="949.8" cy="294.2" r="5.0"/>
<circle cx="952.2" cy="306.1" r="5.0"/>
<circle cx="951.8" cy="331.0" r="5.0"/>
<circle cx="933.4" cy="350.0" r="5.0"/>
<circle cx="947.9" cy="358.8" r="5.0"/>
<circle cx="908.5" cy="384.6" r="5.0"/>
<circle cx="960.9" cy="372.2" r="5.0"/>
<circle cx="968.8" cy="382.2" r="5.0"/>
<circle cx="960.9" cy="385.1" r="5.0"/>
<circle cx="993.9" cy="283.9" r="5.0"/>
<circle cx="987.8" cy="298.5" r="5.0"/>
<circle cx="987.4" cy="314.0" r="8.5"/>
<circle cx="977.2" cy="328.6" r="8.5"/>
<circle cx="973.6" cy="347.3" r="8.5"/>
<circle cx="989.4" cy="349.7" r="8.5"/>
<circle cx="987.4" cy="364.8" r="8.5"/>
<circle cx="1006.1" cy="350.5" r="5.0"/>
<circle cx="1001.8" cy="371.9" r="5.0"/>
<circle cx="1018.0" cy="339.4" r="8.5"/>
<circle cx="1021.6" cy="356.1" r="8.5"/>
<circle cx="1031.0" cy="345.4" r="5.0"/>
<circle cx="1040.2" cy="323.6" r="8.5"/>
<circle cx="1048.4" cy="331.5" r="5.0"/>
<circle cx="1018.0" cy="236.3" r="10.5"/>
<circle cx="1027.5" cy="236.3" r="8.5"/>
<circle cx="1003.7" cy="250.6" r="9.5"/>
<circle cx="997.3" cy="263.3" r="9.5"/>
<circle cx="1022.7" cy="269.6" r="9.5"/>
<circle cx="1014.8" cy="285.5" r="10.5"/>
<circle cx="1006.9" cy="296.6" r="10.5"/>
<circle cx="1010.0" cy="314.0" r="11.5"/>
<circle cx="1030.6" cy="290.3" r="8.5"/>
<circle cx="1038.6" cy="298.2" r="8.5"/>
<circle cx="1051.3" cy="283.9" r="5.5"/>
<circle cx="1052.9" cy="298.2" r="5.5"/>
<circle cx="1036.2" cy="246.7" r="5.0"/>
<circle cx="1045.7" cy="260.1" r="5.0"/>
<circle cx="1040.2" cy="269.6" r="5.0"/>
<circle cx="1043.3" cy="236.3" r="5.0"/>
<circle cx="1046.5" cy="347.3" r="5.0"/>
<circle cx="1051.3" cy="355.3" r="5.0"/>
<circle cx="1040.2" cy="363.2" r="5.0"/>
<circle cx="1054.4" cy="366.4" r="5.0"/>
<circle cx="1029.1" cy="369.5" r="5.5"/>
<circle cx="1016.4" cy="378.3" r="5.0"/>
<circle cx="1032.2" cy="380.6" r="5.0"/>
<circle cx="1040.2" cy="380.6" r="5.0"/>
<circle cx="1046.5" cy="383.8" r="5.0"/>
<circle cx="1049.7" cy="388.6" r="5.0"/>
<circle cx="1038.6" cy="388.6" r="5.0"/>
<circle cx="1006.9" cy="388.6" r="5.5"/>
<circle cx="1003.7" cy="396.5" r="5.0"/>
<circle cx="1019.5" cy="394.9" r="5.0"/>
<circle cx="1022.7" cy="398.1" r="5.0"/>
<circle cx="1038.6" cy="401.3" r="5.0"/>
<circle cx="1052.9" cy="401.3" r="5.0"/>
<circle cx="987.8" cy="399.7" r="5.0"/>
<circle cx="964.0" cy="406.0" r="5.0"/>
<circle cx="978.3" cy="407.6" r="5.0"/>
<circle cx="932.3" cy="406.8" r="5.0"/>
<circle cx="937.1" cy="408.4" r="5.0"/>
<circle cx="1011.2" cy="285.2" r="6.5"/>
<circle cx="1016.5" cy="301.0" r="6.5"/>
<circle cx="1030.0" cy="299.5" r="8.5"/>
<circle cx="1043.4" cy="295.0" r="8.5"/>
<circle cx="1044.9" cy="310.0" r="10.5"/>
<circle cx="1025.5" cy="321.9" r="6.5"/>
<circle cx="1040.4" cy="325.0" r="8.5"/>
<circle cx="1047.9" cy="330.9" r="5.5"/>
<circle cx="1067.4" cy="284.5" r="8.5"/>
<circle cx="1081.6" cy="312.2" r="6.5"/>
<circle cx="1070.4" cy="329.4" r="6.5"/>
<circle cx="1062.9" cy="350.4" r="6.5"/>
<circle cx="1046.4" cy="347.4" r="5.5"/>
<circle cx="1050.9" cy="355.6" r="5.5"/>
<circle cx="1055.4" cy="365.3" r="5.5"/>
<circle cx="1040.4" cy="363.1" r="5.5"/>
<circle cx="1029.9" cy="372.8" r="6.5"/>
<circle cx="1018.0" cy="339.9" r="8.5"/>
<circle cx="1021.0" cy="356.4" r="8.5"/>
<circle cx="1003.0" cy="350.4" r="6.5"/>
<circle cx="1002.2" cy="372.8" r="5.5"/>
<circle cx="1016.5" cy="378.0" r="5.5"/>
<circle cx="1041.9" cy="384.8" r="6.5"/>
<circle cx="1047.9" cy="371.3" r="5.5"/>
<circle cx="1026.9" cy="396.8" r="6.5"/>
<circle cx="1021.0" cy="405.8" r="8.5"/>
<circle cx="1009.0" cy="411.8" r="8.5"/>
<circle cx="1038.9" cy="408.8" r="8.5"/>
<circle cx="1049.4" cy="401.3" r="6.5"/>
<circle cx="1062.9" cy="311.4" r="5.5"/>
<circle cx="1070.4" cy="323.4" r="5.5"/>
<circle cx="1059.9" cy="323.4" r="5.5"/>
<circle cx="1080.9" cy="324.9" r="5.5"/>
<circle cx="1086.8" cy="324.9" r="5.5"/>
<circle cx="1079.4" cy="347.4" r="5.5"/>
<circle cx="1093.6" cy="345.9" r="5.5"/>
<circle cx="1085.3" cy="357.9" r="5.5"/>
<circle cx="1101.8" cy="360.8" r="5.5"/>
<circle cx="1109.3" cy="361.6" r="5.5"/>
<circle cx="1062.1" cy="359.4" r="5.5"/>
<circle cx="1081.6" cy="369.8" r="5.5"/>
<circle cx="1064.4" cy="375.8" r="5.5"/>
<circle cx="1064.4" cy="386.3" r="5.5"/>
<circle cx="1083.8" cy="383.3" r="5.5"/>
<circle cx="1086.1" cy="390.8" r="5.5"/>
<circle cx="1075.6" cy="399.8" r="5.5"/>
<circle cx="1095.8" cy="377.3" r="5.5"/>
<circle cx="1076.4" cy="414.8" r="5.5"/>
<circle cx="1092.8" cy="295.0" r="6.5"/>
<circle cx="1101.8" cy="287.5" r="5.5"/>
<circle cx="1086.8" cy="283.0" r="5.5"/>
<circle cx="1128.8" cy="308.4" r="5.5"/>
<circle cx="1134.7" cy="290.5" r="5.5"/>
<circle cx="1122.8" cy="327.9" r="8.5"/>
<circle cx="1130.3" cy="335.4" r="5.5"/>
<circle cx="1151.2" cy="345.9" r="5.5"/>
<circle cx="1139.2" cy="360.8" r="5.5"/>
<circle cx="1166.2" cy="363.8" r="5.5"/>
<circle cx="1016.3" cy="378.4" r="5.5"/>
<circle cx="986.3" cy="398.9" r="5.5"/>
<circle cx="983.2" cy="414.6" r="5.5"/>
<circle cx="995.8" cy="417.0" r="5.5"/>
<circle cx="991.8" cy="427.3" r="5.5"/>
<circle cx="986.3" cy="437.5" r="5.5"/>
<circle cx="982.4" cy="443.0" r="5.5"/>
<circle cx="1006.0" cy="387.8" r="5.5"/>
<circle cx="1002.1" cy="398.9" r="6.5"/>
<circle cx="1003.7" cy="408.3" r="7.5"/>
<circle cx="1011.5" cy="411.5" r="8.5"/>
<circle cx="1017.9" cy="417.8" r="8.5"/>
<circle cx="1022.6" cy="414.6" r="6.5"/>
<circle cx="1022.6" cy="394.1" r="5.5"/>
<circle cx="1016.3" cy="397.3" r="5.5"/>
<circle cx="1032.0" cy="402.0" r="5.5"/>
<circle cx="1039.9" cy="405.2" r="5.5"/>
<circle cx="1047.8" cy="403.6" r="5.5"/>
<circle cx="1052.6" cy="401.2" r="5.5"/>
<circle cx="1035.2" cy="411.5" r="6.5"/>
<circle cx="1027.3" cy="433.6" r="5.5"/>
<circle cx="1042.3" cy="430.4" r="5.5"/>
<circle cx="1054.1" cy="430.4" r="5.5"/>
<circle cx="1063.6" cy="432.8" r="5.5"/>
<circle cx="1054.1" cy="439.9" r="5.5"/>
<circle cx="1033.6" cy="450.9" r="5.5"/>
<circle cx="1025.7" cy="455.6" r="5.5"/>
<circle cx="1015.5" cy="456.4" r="5.5"/>
<circle cx="1021.0" cy="464.3" r="5.5"/>
<circle cx="1076.2" cy="400.4" r="5.5"/>
<circle cx="1076.2" cy="414.6" r="5.5"/>
<circle cx="1064.4" cy="376.8" r="5.5"/>
<circle cx="1064.4" cy="387.0" r="5.5"/>
<circle cx="1084.1" cy="386.2" r="6.5"/>
<circle cx="1086.0" cy="393.0" r="5.5"/>
<circle cx="1096.7" cy="376.8" r="5.5"/>
<circle cx="1062.8" cy="357.9" r="5.5"/>
<circle cx="1068.3" cy="361.8" r="5.5"/>
<circle cx="1074.6" cy="364.2" r="5.5"/>
<circle cx="1082.5" cy="370.5" r="5.5"/>
<circle cx="1052.6" cy="365.7" r="5.5"/>
<circle cx="1046.2" cy="354.7" r="5.5"/>
<circle cx="1065.2" cy="343.7" r="5.5"/>
<circle cx="1065.2" cy="337.4" r="5.5"/>
<circle cx="1079.4" cy="348.4" r="5.5"/>
<circle cx="1085.7" cy="358.6" r="5.5"/>
<circle cx="1093.6" cy="345.2" r="5.5"/>
<circle cx="1103.0" cy="360.2" r="5.5"/>
<circle cx="1109.3" cy="361.8" r="5.5"/>
<circle cx="1123.5" cy="329.5" r="8.5"/>
<circle cx="1129.0" cy="335.0" r="5.5"/>
<circle cx="1145.6" cy="327.9" r="5.5"/>
<circle cx="1148.8" cy="335.8" r="6.5"/>
<circle cx="1140.9" cy="345.2" r="5.5"/>
<circle cx="1164.5" cy="338.1" r="5.5"/>
<circle cx="1054.1" cy="323.2" r="5.5"/>
<circle cx="1068.3" cy="323.2" r="5.5"/>
<circle cx="1077.8" cy="327.9" r="5.5"/>
<circle cx="1084.9" cy="325.5" r="5.5"/>
<circle cx="1101.5" cy="322.4" r="5.5"/>
<circle cx="1030.5" cy="345.2" r="5.5"/>
<circle cx="1047.0" cy="347.6" r="5.5"/>
<circle cx="1051.8" cy="355.5" r="5.5"/>
<circle cx="871.1" cy="419.0" r="5.0"/>
<circle cx="866.8" cy="431.7" r="5.0"/>
<circle cx="847.3" cy="443.1" r="5.0"/>
<circle cx="842.2" cy="453.1" r="5.0"/>
<circle cx="854.9" cy="465.0" r="5.0"/>
<circle cx="856.5" cy="472.2" r="5.0"/>
<circle cx="849.3" cy="476.9" r="5.0"/>
<circle cx="872.8" cy="468.5" r="5.0"/>
<circle cx="829.8" cy="497.0" r="5.0"/>
<circle cx="823.2" cy="517.7" r="5.0"/>
<circle cx="833.5" cy="521.8" r="5.0"/>
<circle cx="872.3" cy="495.1" r="5.0"/>
<circle cx="874.7" cy="499.9" r="5.0"/>
<circle cx="885.0" cy="499.9" r="5.0"/>
<circle cx="871.5" cy="509.4" r="5.0"/>
<circle cx="893.7" cy="412.7" r="5.0"/>
<circle cx="899.3" cy="413.5" r="5.0"/>
<circle cx="931.0" cy="409.5" r="5.0"/>
<circle cx="940.5" cy="410.3" r="5.0"/>
<circle cx="963.5" cy="407.1" r="5.0"/>
<circle cx="962.7" cy="418.2" r="5.0"/>
<circle cx="969.1" cy="420.6" r="5.0"/>
<circle cx="973.0" cy="429.3" r="5.0"/>
<circle cx="980.2" cy="411.1" r="5.0"/>
<circle cx="985.0" cy="414.3" r="5.0"/>
<circle cx="987.3" cy="400.0" r="5.0"/>
<circle cx="995.2" cy="417.4" r="5.0"/>
<circle cx="991.3" cy="427.8" r="5.0"/>
<circle cx="986.5" cy="436.5" r="5.0"/>
<circle cx="980.2" cy="442.8" r="5.0"/>
<circle cx="974.6" cy="449.2" r="5.0"/>
<circle cx="896.1" cy="450.0" r="5.0"/>
<circle cx="892.2" cy="453.1" r="5.0"/>
<circle cx="942.9" cy="440.4" r="5.0"/>
<circle cx="940.5" cy="448.4" r="5.0"/>
<circle cx="948.4" cy="450.7" r="5.0"/>
<circle cx="959.6" cy="450.0" r="5.0"/>
<circle cx="962.7" cy="453.9" r="5.0"/>
<circle cx="957.2" cy="460.3" r="5.0"/>
<circle cx="953.2" cy="473.7" r="5.0"/>
<circle cx="958.0" cy="471.4" r="5.0"/>
<circle cx="949.2" cy="476.1" r="5.0"/>
<circle cx="912.0" cy="450.7" r="5.0"/>
<circle cx="921.5" cy="453.9" r="5.0"/>
<circle cx="931.0" cy="458.7" r="5.0"/>
<circle cx="946.9" cy="459.5" r="5.0"/>
<circle cx="905.6" cy="468.2" r="5.0"/>
<circle cx="916.7" cy="474.5" r="5.0"/>
<circle cx="929.4" cy="469.8" r="5.0"/>
<circle cx="937.3" cy="468.2" r="5.0"/>
<circle cx="937.3" cy="476.1" r="5.0"/>
<circle cx="935.8" cy="484.0" r="5.0"/>
<circle cx="927.8" cy="482.5" r="5.0"/>
<circle cx="921.5" cy="485.6" r="5.0"/>
<circle cx="915.1" cy="480.9" r="5.0"/>
<circle cx="908.8" cy="479.3" r="5.0"/>
<circle cx="898.5" cy="476.9" r="5.0"/>
<circle cx="894.5" cy="488.8" r="5.0"/>
<circle cx="902.5" cy="488.8" r="5.0"/>
<circle cx="908.8" cy="490.4" r="5.0"/>
<circle cx="918.3" cy="493.6" r="5.0"/>
<circle cx="929.4" cy="488.8" r="5.0"/>
<circle cx="912.0" cy="457.1" r="5.0"/>
<circle cx="904.0" cy="463.4" r="5.0"/>
<circle cx="923.1" cy="463.4" r="5.0"/>
<circle cx="915.1" cy="466.6" r="5.0"/>
<circle cx="908.8" cy="472.9" r="5.0"/>
<circle cx="923.1" cy="472.9" r="5.0"/>
<circle cx="931.0" cy="480.9" r="5.0"/>
<circle cx="938.1" cy="480.9" r="5.0"/>
<circle cx="896.1" cy="486.4" r="5.0"/>
<circle cx="905.6" cy="492.0" r="5.0"/>
<circle cx="933.9" cy="497.0" r="5.0"/>
<circle cx="908.8" cy="504.7" r="5.0"/>
<circle cx="931.0" cy="508.6" r="5.0"/>
<circle cx="937.3" cy="507.8" r="5.0"/>
<circle cx="945.3" cy="506.2" r="5.0"/>
<circle cx="953.2" cy="507.8" r="5.0"/>
<circle cx="961.1" cy="509.4" r="5.0"/>
<circle cx="962.7" cy="518.1" r="5.0"/>
<circle cx="965.9" cy="523.7" r="5.0"/>
<circle cx="969.1" cy="526.9" r="5.0"/>
<circle cx="982.5" cy="529.2" r="5.0"/>
<circle cx="899.3" cy="524.5" r="5.0"/>
<circle cx="911.7" cy="527.7" r="5.0"/>
<circle cx="874.7" cy="528.4" r="5.0"/>
<circle cx="875.5" cy="533.2" r="5.0"/>
<circle cx="915.1" cy="541.9" r="5.0"/>
<circle cx="921.5" cy="546.7" r="5.0"/>
<circle cx="927.0" cy="549.9" r="5.0"/>
<circle cx="970.6" cy="549.1" r="5.0"/>
<circle cx="980.2" cy="548.3" r="5.0"/>
<circle cx="844.6" cy="549.1" r="5.0"/>
<circle cx="846.2" cy="556.2" r="5.0"/>
<circle cx="851.7" cy="566.5" r="5.0"/>
<circle cx="866.8" cy="549.1" r="5.0"/>
<circle cx="880.3" cy="545.9" r="5.0"/>
<circle cx="885.0" cy="549.9" r="5.0"/>
<circle cx="876.3" cy="560.2" r="5.0"/>
<circle cx="910.4" cy="555.4" r="5.0"/>
<circle cx="919.9" cy="560.2" r="5.0"/>
<circle cx="921.5" cy="566.5" r="5.0"/>
<circle cx="914.4" cy="572.1" r="5.0"/>
<circle cx="989.7" cy="566.5" r="5.0"/>
<circle cx="989.4" cy="566.3" r="5.0"/>
<circle cx="983.9" cy="590.1" r="5.0"/>
<circle cx="991.0" cy="601.2" r="5.0"/>
<circle cx="998.9" cy="595.7" r="5.0"/>
<circle cx="1005.3" cy="598.1" r="5.0"/>
<circle cx="1015.6" cy="615.5" r="5.0"/>
<circle cx="1021.1" cy="625.0" r="5.0"/>
<circle cx="1027.5" cy="634.5" r="5.0"/>
<circle cx="1028.3" cy="641.7" r="5.0"/>
<circle cx="1037.0" cy="653.6" r="5.0"/>
<circle cx="1043.3" cy="659.1" r="5.0"/>
<circle cx="1049.7" cy="667.0" r="5.0"/>
<circle cx="1036.2" cy="679.7" r="5.0"/>
<circle cx="1043.3" cy="688.4" r="5.0"/>
<circle cx="1049.7" cy="685.3" r="5.0"/>
<circle cx="1056.0" cy="683.7" r="5.0"/>
<circle cx="1018.8" cy="701.9" r="5.0"/>
<circle cx="1059.2" cy="726.5" r="5.0"/>
<circle cx="898.2" cy="583.8" r="5.0"/>
<circle cx="914.1" cy="572.7" r="5.0"/>
<circle cx="918.1" cy="564.8" r="5.0"/>
<circle cx="921.2" cy="566.3" r="5.0"/>
<circle cx="907.8" cy="605.2" r="5.0"/>
<circle cx="928.4" cy="583.0" r="5.0"/>
<circle cx="932.3" cy="587.0" r="5.0"/>
<circle cx="936.3" cy="589.3" r="5.0"/>
<circle cx="973.6" cy="599.6" r="5.0"/>
<circle cx="960.9" cy="606.8" r="5.0"/>
<circle cx="964.8" cy="608.4" r="5.0"/>
<circle cx="977.5" cy="608.4" r="5.0"/>
<circle cx="962.5" cy="619.5" r="5.0"/>
<circle cx="967.2" cy="628.2" r="5.0"/>
<circle cx="976.7" cy="623.4" r="5.0"/>
<circle cx="981.5" cy="628.2" r="5.0"/>
<circle cx="989.4" cy="629.8" r="5.0"/>
<circle cx="958.5" cy="632.9" r="5.0"/>
<circle cx="968.0" cy="637.7" r="5.0"/>
<circle cx="979.9" cy="637.7" r="5.0"/>
<circle cx="989.4" cy="637.7" r="5.0"/>
<circle cx="995.8" cy="642.5" r="5.0"/>
<circle cx="998.1" cy="647.2" r="5.0"/>
<circle cx="1002.1" cy="633.7" r="5.0"/>
<circle cx="945.0" cy="641.7" r="5.0"/>
<circle cx="951.4" cy="642.5" r="5.0"/>
<circle cx="956.1" cy="644.0" r="5.0"/>
<circle cx="941.1" cy="649.6" r="5.0"/>
<circle cx="935.5" cy="655.1" r="5.0"/>
<circle cx="949.8" cy="654.4" r="5.0"/>
<circle cx="942.6" cy="663.9" r="5.0"/>
<circle cx="929.2" cy="666.6" r="5.0"/>
<circle cx="934.7" cy="682.9" r="5.0"/>
<circle cx="1006.9" cy="653.6" r="5.0"/>
<circle cx="1011.6" cy="660.7" r="5.0"/>
<circle cx="1018.0" cy="659.9" r="5.0"/>
<circle cx="1025.9" cy="658.3" r="5.0"/>
<circle cx="1030.6" cy="663.1" r="5.0"/>
<circle cx="991.0" cy="658.3" r="5.0"/>
<circle cx="979.1" cy="668.6" r="5.0"/>
<circle cx="978.3" cy="678.1" r="5.0"/>
<circle cx="984.7" cy="677.3" r="5.0"/>
<circle cx="995.0" cy="683.7" r="5.0"/>
<circle cx="990.2" cy="687.7" r="5.0"/>
<circle cx="972.0" cy="685.3" r="5.0"/>
<circle cx="978.3" cy="688.4" r="5.0"/>
<circle cx="967.2" cy="690.0" r="5.0"/>
<circle cx="968.8" cy="699.5" r="5.0"/>
<circle cx="959.3" cy="699.5" r="5.0"/>
<circle cx="951.4" cy="700.3" r="5.0"/>
<circle cx="949.8" cy="708.3" r="5.0"/>
<circle cx="952.9" cy="714.6" r="5.0"/>
<circle cx="934.7" cy="721.8" r="5.0"/>
<circle cx="939.5" cy="733.6" r="5.0"/>
<circle cx="885.6" cy="686.9" r="5.0"/>
<circle cx="907.8" cy="694.8" r="5.0"/>
<circle cx="919.6" cy="697.2" r="5.0"/>
<circle cx="895.9" cy="710.6" r="5.0"/>
<circle cx="900.6" cy="718.6" r="5.0"/>
<circle cx="908.5" cy="716.2" r="5.0"/>
<circle cx="914.1" cy="716.2" r="5.0"/>
<circle cx="918.9" cy="720.2" r="5.0"/>
<circle cx="919.6" cy="726.5" r="5.0"/>
<circle cx="887.1" cy="726.5" r="5.0"/>
<circle cx="900.6" cy="736.0" r="5.0"/>
<circle cx="816.7" cy="650.0" r="5.0"/>
<circle cx="812.0" cy="656.4" r="5.0"/>
<circle cx="818.3" cy="668.3" r="5.0"/>
<circle cx="828.6" cy="668.3" r="5.0"/>
<circle cx="838.1" cy="679.4" r="5.0"/>
<circle cx="845.3" cy="680.2" r="5.0"/>
<circle cx="846.1" cy="685.7" r="5.0"/>
<circle cx="834.2" cy="688.9" r="5.0"/>
<circle cx="854.8" cy="673.8" r="5.0"/>
<circle cx="860.3" cy="686.5" r="5.0"/>
<circle cx="872.2" cy="687.3" r="5.0"/>
<circle cx="878.6" cy="680.2" r="5.0"/>
<circle cx="885.7" cy="686.5" r="5.0"/>
<circle cx="876.2" cy="695.2" r="5.0"/>
<circle cx="756.5" cy="685.7" r="5.0"/>
<circle cx="761.2" cy="692.9" r="5.0"/>
<circle cx="869.1" cy="702.5" r="5.0"/>
<circle cx="874.6" cy="708.0" r="5.0"/>
<circle cx="853.2" cy="701.7" r="5.0"/>
<circle cx="826.2" cy="700.9" r="5.0"/>
<circle cx="827.8" cy="712.0" r="5.0"/>
<circle cx="820.7" cy="721.5" r="5.0"/>
<circle cx="831.0" cy="723.1" r="5.0"/>
<circle cx="856.4" cy="715.1" r="5.0"/>
<circle cx="853.2" cy="718.3" r="5.0"/>
<circle cx="846.9" cy="723.9" r="5.0"/>
<circle cx="858.0" cy="728.6" r="5.0"/>
<circle cx="896.0" cy="712.0" r="5.0"/>
<circle cx="888.1" cy="726.2" r="5.0"/>
<circle cx="898.4" cy="737.3" r="5.0"/>
<circle cx="750.9" cy="725.5" r="5.0"/>
<circle cx="788.2" cy="719.1" r="5.0"/>
<circle cx="843.7" cy="742.1" r="5.0"/>
<circle cx="846.9" cy="740.5" r="5.0"/>
<circle cx="851.6" cy="745.3" r="5.0"/>
<circle cx="842.1" cy="751.6" r="5.0"/>
<circle cx="846.9" cy="756.4" r="5.0"/>
<circle cx="854.8" cy="759.5" r="5.0"/>
<circle cx="858.0" cy="765.9" r="5.0"/>
<circle cx="859.6" cy="745.3" r="5.0"/>
<circle cx="865.9" cy="745.3" r="5.0"/>
<circle cx="870.7" cy="743.7" r="5.0"/>
<circle cx="850.0" cy="751.6" r="5.0"/>
<circle cx="829.4" cy="748.4" r="5.0"/>
<circle cx="827.0" cy="763.5" r="5.0"/>
<circle cx="865.9" cy="775.4" r="5.0"/>
<circle cx="795.8" cy="762.7" r="5.0"/>
<circle cx="811.5" cy="772.2" r="5.0"/>
<circle cx="823.1" cy="780.2" r="5.0"/>
<circle cx="827.0" cy="785.7" r="5.0"/>
<circle cx="798.8" cy="798.4" r="5.0"/>
<circle cx="870.7" cy="798.4" r="5.0"/>
<circle cx="795.5" cy="762.8" r="5.0"/>
<circle cx="811.4" cy="771.7" r="5.0"/>
<circle cx="827.2" cy="763.8" r="5.0"/>
<circle cx="822.5" cy="779.7" r="5.0"/>
<circle cx="827.2" cy="786.0" r="5.0"/>
<circle cx="798.7" cy="800.3" r="5.0"/>
<circle cx="866.9" cy="801.9" r="5.0"/>
<circle cx="870.1" cy="808.2" r="5.0"/>
<circle cx="873.2" cy="816.1" r="5.0"/>
<circle cx="868.5" cy="823.1" r="5.0"/>
<circle cx="878.0" cy="825.6" r="5.0"/>
<circle cx="882.7" cy="835.2" r="5.0"/>
<circle cx="873.2" cy="839.9" r="5.0"/>
<circle cx="878.0" cy="844.7" r="5.0"/>
<circle cx="851.0" cy="834.2" r="5.0"/>
<circle cx="791.4" cy="834.2" r="5.0"/>
<circle cx="865.9" cy="775.5" r="5.0"/>
<circle cx="913.5" cy="843.7" r="5.0"/>
<circle cx="929.4" cy="770.1" r="5.0"/>
<circle cx="958.2" cy="767.0" r="5.0"/>
<circle cx="968.4" cy="748.6" r="5.0"/>
<circle cx="931.9" cy="749.5" r="5.0"/>
<circle cx="939.8" cy="752.7" r="5.0"/>
<circle cx="949.4" cy="752.7" r="5.0"/>
<circle cx="955.7" cy="754.3" r="5.0"/>
<circle cx="971.6" cy="790.8" r="5.0"/>
<circle cx="973.8" cy="807.6" r="5.0"/>
<circle cx="981.1" cy="801.2" r="5.0"/>
<circle cx="995.4" cy="808.2" r="5.0"/>
<circle cx="1009.6" cy="815.5" r="5.0"/>
<circle cx="1019.1" cy="819.3" r="5.0"/>
<circle cx="1027.1" cy="803.4" r="5.0"/>
<circle cx="1028.7" cy="817.7" r="5.0"/>
<circle cx="1030.2" cy="828.8" r="5.0"/>
<circle cx="1022.3" cy="833.6" r="5.0"/>
<circle cx="1016.0" cy="839.9" r="5.0"/>
<circle cx="1009.6" cy="846.3" r="5.0"/>
<circle cx="1004.9" cy="852.6" r="5.0"/>
<circle cx="997.0" cy="860.5" r="5.0"/>
<circle cx="995.4" cy="871.6" r="5.0"/>
<circle cx="983.6" cy="887.5" r="5.0"/>
<circle cx="1047.1" cy="767.9" r="5.0"/>
<circle cx="1035.0" cy="795.5" r="5.0"/>
<circle cx="957.3" cy="909.7" r="5.0"/>
<circle cx="946.2" cy="911.3" r="5.0"/>
<circle cx="936.7" cy="907.2" r="5.0"/>
<circle cx="924.9" cy="908.1" r="5.0"/>
<circle cx="912.2" cy="919.9" r="5.0"/>
<circle cx="877.0" cy="910.7" r="5.0"/>
<circle cx="853.2" cy="949.4" r="5.0"/>
<circle cx="832.0" cy="957.3" r="5.0"/>
<circle cx="816.1" cy="955.1" r="5.0"/>
<circle cx="812.3" cy="974.7" r="5.0"/>
<circle cx="790.8" cy="958.9" r="5.0"/>
<circle cx="787.0" cy="958.9" r="5.0"/>
<circle cx="775.5" cy="951.9" r="5.0"/>
<circle cx="767.0" cy="955.7" r="5.0"/>
<circle cx="809.8" cy="998.5" r="5.0"/>
<circle cx="815.2" cy="904.0" r="5.0"/>
<circle cx="828.2" cy="920.8" r="5.0"/>
<circle cx="766.3" cy="880.5" r="5.0"/>
<circle cx="763.2" cy="914.5" r="5.0"/>
<circle cx="760.6" cy="924.0" r="5.0"/>
<circle cx="1062.0" cy="857.4" r="5.0"/>
<circle cx="1060.4" cy="865.3" r="5.0"/>
<circle cx="1058.2" cy="870.1" r="5.0"/>
<circle cx="1060.4" cy="893.2" r="5.0"/>
<circle cx="1059.7" cy="905.0" r="5.0"/>
<circle cx="1082.0" cy="846.3" r="5.0"/>
<circle cx="1079.4" cy="873.9" r="5.0"/>
<circle cx="863.7" cy="751.1" r="5.0"/>
<circle cx="844.7" cy="746.3" r="5.0"/>
<circle cx="671.0" cy="835.1" r="5.0"/>
<circle cx="766.2" cy="880.5" r="5.0"/>
<circle cx="763.4" cy="914.4" r="5.0"/>
<circle cx="760.9" cy="924.5" r="5.0"/>
<circle cx="766.2" cy="955.6" r="5.0"/>
<circle cx="775.7" cy="951.4" r="5.0"/>
<circle cx="791.5" cy="834.0" r="5.0"/>
<circle cx="797.9" cy="800.2" r="5.0"/>
<circle cx="1022.0" cy="826.0" r="5.0"/>
<circle cx="1026.0" cy="812.0" r="5.0"/>
<circle cx="1018.0" cy="822.0" r="5.0"/>
<circle cx="1012.0" cy="830.0" r="5.0"/>
<circle cx="1020.0" cy="835.0" r="5.0"/>
<circle cx="1025.0" cy="822.0" r="5.0"/>
<circle cx="492.7" cy="557.7" r="5.0"/>
<circle cx="416.6" cy="703.7" r="5.0"/>
<circle cx="432.4" cy="723.6" r="5.0"/>
<circle cx="437.2" cy="731.6" r="5.0"/>
<circle cx="377.6" cy="736.3" r="5.0"/>
<circle cx="383.9" cy="737.3" r="5.0"/>
<circle cx="301.4" cy="747.4" r="5.0"/>
<circle cx="384.9" cy="784.5" r="5.0"/>
<circle cx="658.5" cy="721.7" r="5.0"/>
<circle cx="670.7" cy="713.0" r="5.0"/>
<circle cx="658.5" cy="742.6" r="5.0"/>
<circle cx="670.7" cy="835.2" r="5.0"/>
<circle cx="747.6" cy="725.6" r="5.0"/>
<circle cx="756.3" cy="688.2" r="5.0"/>
<circle cx="760.2" cy="694.0" r="5.0"/>
<circle cx="787.8" cy="719.0" r="5.0"/>
<circle cx="1035.3" cy="796.7" r="5.1"/>
<circle cx="1033.2" cy="799.9" r="5.1"/>
<circle cx="1031.0" cy="803.0" r="5.1"/>
<circle cx="1028.9" cy="806.2" r="5.1"/>
<circle cx="1027.8" cy="810.4" r="5.1"/>
<circle cx="1026.8" cy="814.7" r="5.1"/>
<circle cx="1025.7" cy="818.9" r="5.1"/>
<circle cx="1026.5" cy="823.6" r="5.1"/>
<circle cx="1027.3" cy="828.4" r="5.1"/>
<circle cx="1023.3" cy="830.0" r="5.1"/>
<circle cx="1019.4" cy="831.6" r="5.1"/>
<circle cx="1016.2" cy="836.3" r="5.1"/>
<circle cx="1013.9" cy="839.5" r="5.1"/>
<circle cx="1011.5" cy="842.7" r="5.1"/>
<circle cx="1009.1" cy="846.7" r="5.1"/>
<circle cx="1006.7" cy="850.6" r="5.1"/>
<circle cx="1003.5" cy="853.8" r="5.1"/>
<circle cx="1000.4" cy="857.0" r="5.1"/>
<circle cx="998.0" cy="860.1" r="5.1"/>
<circle cx="995.6" cy="863.3" r="5.1"/>
<circle cx="994.8" cy="867.2" r="5.1"/>
<circle cx="905.8" cy="467.8" r="5.1"/>
<circle cx="911.2" cy="467.8" r="5.1"/>
<circle cx="916.8" cy="467.8" r="5.1"/>
<circle cx="922.2" cy="467.8" r="5.1"/>
<circle cx="927.8" cy="467.8" r="5.1"/>
<circle cx="933.2" cy="467.8" r="5.1"/>
<circle cx="908.5" cy="472.5" r="5.1"/>
<circle cx="914.0" cy="472.5" r="5.1"/>
<circle cx="919.5" cy="472.5" r="5.1"/>
<circle cx="925.0" cy="472.5" r="5.1"/>
<circle cx="930.5" cy="472.5" r="5.1"/>
<circle cx="936.0" cy="472.5" r="5.1"/>
<circle cx="905.8" cy="477.3" r="5.1"/>
<circle cx="911.2" cy="477.3" r="5.1"/>
<circle cx="916.8" cy="477.3" r="5.1"/>
<circle cx="922.2" cy="477.3" r="5.1"/>
<circle cx="927.8" cy="477.3" r="5.1"/>
<circle cx="933.2" cy="477.3" r="5.1"/>
<circle cx="903.0" cy="482.1" r="5.1"/>
<circle cx="908.5" cy="482.1" r="5.1"/>
<circle cx="914.0" cy="482.1" r="5.1"/>
<circle cx="919.5" cy="482.1" r="5.1"/>
<circle cx="925.0" cy="482.1" r="5.1"/>
<circle cx="930.5" cy="482.1" r="5.1"/>
<circle cx="911.2" cy="486.8" r="5.1"/>
<circle cx="916.8" cy="486.8" r="5.1"/>
<circle cx="922.2" cy="486.8" r="5.1"/>
<circle cx="927.8" cy="486.8" r="5.1"/>
<circle cx="893.0" cy="453.0" r="5.3"/>
<circle cx="899.3" cy="447.4" r="5.3"/>
<circle cx="912.0" cy="449.8" r="5.0"/>
<circle cx="908.0" cy="456.2" r="5.0"/>
<circle cx="921.5" cy="453.8" r="5.0"/>
<circle cx="914.4" cy="461.7" r="5.0"/>
<circle cx="923.9" cy="464.1" r="5.0"/>
<circle cx="931.5" cy="458.2" r="4.8"/>
<circle cx="942.6" cy="440.3" r="4.8"/>
<circle cx="939.8" cy="449.0" r="4.8"/>
<circle cx="948.5" cy="450.2" r="4.8"/>
<circle cx="946.9" cy="460.1" r="4.8"/>
<circle cx="957.2" cy="456.2" r="4.8"/>
<circle cx="957.2" cy="461.7" r="4.8"/>
<circle cx="905.7" cy="468.1" r="5.0"/>
<circle cx="898.5" cy="476.8" r="4.8"/>
<circle cx="909.7" cy="474.4" r="5.0"/>
<circle cx="919.2" cy="474.4" r="5.0"/>
<circle cx="928.7" cy="471.2" r="5.0"/>
<circle cx="936.6" cy="468.1" r="5.0"/>
<circle cx="937.4" cy="476.0" r="5.0"/>
<circle cx="931.9" cy="481.5" r="5.0"/>
<circle cx="927.1" cy="487.1" r="5.0"/>
<circle cx="917.6" cy="481.5" r="5.0"/>
<circle cx="912.8" cy="480.8" r="5.0"/>
<circle cx="893.8" cy="489.5" r="5.0"/>
<circle cx="900.1" cy="487.1" r="5.0"/>
<circle cx="903.3" cy="493.4" r="5.0"/>
<circle cx="907.3" cy="490.3" r="5.0"/>
<circle cx="918.4" cy="493.4" r="4.8"/>
<circle cx="933.4" cy="497.4" r="4.8"/>
<circle cx="908.9" cy="504.5" r="4.8"/>
<circle cx="953.3" cy="472.8" r="5.0"/>
<circle cx="957.2" cy="471.2" r="5.0"/>
<circle cx="931.9" cy="508.5" r="4.8"/>
<circle cx="939.0" cy="507.7" r="4.8"/>
<circle cx="945.3" cy="506.1" r="4.8"/>
<circle cx="953.3" cy="507.7" r="4.8"/>
<circle cx="958.8" cy="509.3" r="4.8"/>
<circle cx="873.2" cy="468.1" r="4.8"/>
<circle cx="873.2" cy="495.0" r="5.0"/>
<circle cx="885.1" cy="499.8" r="4.8"/>
<circle cx="873.2" cy="507.7" r="4.8"/>
<circle cx="1069.0" cy="705.5" r="5.0"/>
<circle cx="1064.3" cy="718.2" r="5.0"/>
<circle cx="1061.0" cy="735.6" r="5.0"/>
<circle cx="931.0" cy="744.3" r="5.0"/>
<circle cx="936.6" cy="741.5" r="5.0"/>
<circle cx="942.3" cy="744.3" r="5.0"/>
<circle cx="947.9" cy="742.9" r="5.0"/>
<circle cx="932.4" cy="752.8" r="5.0"/>
<circle cx="938.0" cy="749.9" r="5.0"/>
<circle cx="943.7" cy="752.8" r="5.0"/>
<circle cx="949.3" cy="751.4" r="5.0"/>
<circle cx="933.8" cy="758.4" r="5.0"/>
<circle cx="939.4" cy="759.8" r="5.0"/>
<circle cx="945.1" cy="758.4" r="5.0"/>
<circle cx="938.0" cy="735.9" r="5.0"/>
<circle cx="939.4" cy="733.0" r="5.0"/>
<circle cx="1003.0" cy="265.0" r="10.5"/>
<circle cx="1010.0" cy="262.0" r="9.5"/>
<circle cx="1015.0" cy="270.0" r="8.5"/>
<circle cx="718.0" cy="540.0" r="5.0"/>
</g>
<g fill="#FF0000">
<circle cx="352.8" cy="226.6" r="4.4"/>
<circle cx="366.1" cy="236.5" r="4.4"/>
<circle cx="377.2" cy="246.6" r="4.4"/>
<circle cx="384.2" cy="257.7" r="4.4"/>
<circle cx="413.1" cy="261.8" r="4.4"/>
<circle cx="290.9" cy="251.4" r="4.4"/>
<circle cx="303.9" cy="253.6" r="4.4"/>
<circle cx="266.5" cy="297.4" r="4.4"/>
<circle cx="277.9" cy="299.0" r="4.4"/>
<circle cx="314.4" cy="301.5" r="4.4"/>
<circle cx="304.3" cy="312.0" r="4.4"/>
<circle cx="314.7" cy="315.8" r="4.4"/>
<circle cx="230.7" cy="313.9" r="4.4"/>
<circle cx="232.9" cy="336.7" r="4.4"/>
<circle cx="257.3" cy="328.5" r="4.4"/>
<circle cx="268.7" cy="334.5" r="4.4"/>
<circle cx="331.2" cy="319.6" r="4.4"/>
<circle cx="337.6" cy="321.2" r="4.4"/>
<circle cx="348.7" cy="325.0" r="4.4"/>
<circle cx="357.5" cy="331.6" r="4.4"/>
<circle cx="364.5" cy="333.5" r="4.4"/>
<circle cx="369.3" cy="334.5" r="4.4"/>
<circle cx="356.9" cy="343.4" r="4.4"/>
<circle cx="370.5" cy="352.2" r="4.4"/>
<circle cx="388.6" cy="339.2" r="4.4"/>
<circle cx="396.9" cy="340.5" r="4.4"/>
<circle cx="407.7" cy="350.7" r="4.4"/>
<circle cx="191.3" cy="374.1" r="4.4"/>
<circle cx="201.8" cy="378.9" r="4.4"/>
<circle cx="179.3" cy="393.2" r="4.4"/>
<circle cx="212.3" cy="398.2" r="4.4"/>
<circle cx="210.7" cy="402.0" r="4.4"/>
<circle cx="253.5" cy="376.0" r="4.4"/>
<circle cx="254.8" cy="381.7" r="4.4"/>
<circle cx="257.3" cy="399.8" r="4.4"/>
<circle cx="270.3" cy="397.6" r="4.4"/>
<circle cx="286.2" cy="389.4" r="4.4"/>
<circle cx="315.4" cy="391.9" r="4.4"/>
<circle cx="313.8" cy="407.1" r="4.4"/>
<circle cx="327.1" cy="378.3" r="4.4"/>
<circle cx="334.4" cy="381.4" r="4.4"/>
<circle cx="331.8" cy="387.8" r="4.4"/>
<circle cx="134.2" cy="431.5" r="4.4"/>
<circle cx="147.5" cy="474.4" r="4.4"/>
<circle cx="185.3" cy="471.8" r="4.4"/>
<circle cx="168.8" cy="477.5" r="4.4"/>
<circle cx="173.2" cy="485.2" r="4.4"/>
<circle cx="181.5" cy="484.5" r="4.4"/>
<circle cx="190.1" cy="492.5" r="4.4"/>
<circle cx="206.6" cy="498.8" r="4.4"/>
<circle cx="229.1" cy="500.4" r="4.4"/>
<circle cx="293.8" cy="478.8" r="4.4"/>
<circle cx="529.8" cy="456.5" r="4.4"/>
<circle cx="553.2" cy="469.8" r="4.4"/>
<circle cx="556.4" cy="472.3" r="4.4"/>
<circle cx="574.8" cy="463.5" r="4.4"/>
<circle cx="577.4" cy="478.7" r="4.4"/>
<circle cx="588.5" cy="488.2" r="4.4"/>
<circle cx="657.3" cy="475.5" r="4.4"/>
<circle cx="598.0" cy="508.2" r="4.4"/>
<circle cx="640.8" cy="514.5" r="4.4"/>
<circle cx="612.2" cy="539.6" r="4.4"/>
<circle cx="492.7" cy="557.4" r="4.4"/>
<circle cx="588.5" cy="570.0" r="4.4"/>
<circle cx="608.1" cy="576.1" r="4.4"/>
<circle cx="783.6" cy="432.2" r="4.4"/>
<circle cx="738.7" cy="448.5" r="4.4"/>
<circle cx="750.8" cy="450.7" r="4.4"/>
<circle cx="774.1" cy="457.0" r="4.4"/>
<circle cx="777.8" cy="457.0" r="4.4"/>
<circle cx="798.9" cy="461.8" r="4.4"/>
<circle cx="728.6" cy="454.9" r="4.4"/>
<circle cx="726.5" cy="459.1" r="4.4"/>
<circle cx="724.4" cy="462.3" r="4.4"/>
<circle cx="721.0" cy="466.0" r="4.4"/>
<circle cx="718.6" cy="470.8" r="4.4"/>
<circle cx="719.6" cy="476.0" r="4.4"/>
<circle cx="720.2" cy="481.3" r="4.4"/>
<circle cx="719.1" cy="493.0" r="4.4"/>
<circle cx="721.2" cy="496.1" r="4.4"/>
<circle cx="714.9" cy="500.4" r="4.4"/>
<circle cx="716.0" cy="503.0" r="4.4"/>
<circle cx="711.7" cy="506.7" r="4.4"/>
<circle cx="712.8" cy="510.9" r="4.4"/>
<circle cx="714.0" cy="516.0" r="4.4"/>
<circle cx="709.6" cy="519.4" r="4.4"/>
<circle cx="706.0" cy="526.0" r="4.4"/>
<circle cx="703.3" cy="531.0" r="4.4"/>
<circle cx="696.0" cy="537.0" r="4.4"/>
<circle cx="690.6" cy="538.9" r="4.4"/>
<circle cx="686.0" cy="540.0" r="4.4"/>
<circle cx="672.0" cy="545.0" r="4.4"/>
<circle cx="668.0" cy="547.0" r="4.4"/>
<circle cx="783.6" cy="493.0" r="4.4"/>
<circle cx="768.3" cy="515.2" r="4.4"/>
<circle cx="769.3" cy="534.2" r="4.4"/>
<circle cx="794.2" cy="519.4" r="4.4"/>
<circle cx="799.5" cy="486.6" r="4.4"/>
<circle cx="783.5" cy="493.6" r="4.4"/>
<circle cx="829.5" cy="497.1" r="4.4"/>
<circle cx="822.9" cy="517.7" r="4.4"/>
<circle cx="833.3" cy="522.1" r="4.4"/>
<circle cx="793.7" cy="519.9" r="4.4"/>
<circle cx="801.1" cy="403.9" r="4.4"/>
<circle cx="933.5" cy="350.0" r="4.4"/>
<circle cx="908.9" cy="385.6" r="4.4"/>
<circle cx="811.4" cy="449.1" r="4.4"/>
<circle cx="847.9" cy="443.5" r="4.4"/>
<circle cx="842.3" cy="453.0" r="4.4"/>
<circle cx="871.6" cy="419.0" r="4.4"/>
<circle cx="866.9" cy="431.6" r="4.4"/>
<circle cx="895.4" cy="414.2" r="4.4"/>
<circle cx="900.2" cy="411.0" r="4.4"/>
<circle cx="933.5" cy="409.4" r="4.4"/>
<circle cx="938.3" cy="409.4" r="4.4"/>
<circle cx="898.6" cy="449.1" r="4.4"/>
<circle cx="911.3" cy="452.3" r="4.4"/>
<circle cx="920.8" cy="458.6" r="4.4"/>
<circle cx="931.9" cy="457.0" r="4.4"/>
<circle cx="855.8" cy="466.5" r="4.4"/>
<circle cx="854.2" cy="471.3" r="4.4"/>
<circle cx="849.4" cy="476.0" r="4.4"/>
<circle cx="873.2" cy="468.1" r="4.4"/>
<circle cx="771.7" cy="456.2" r="4.4"/>
<circle cx="800.3" cy="461.8" r="4.4"/>
<circle cx="793.7" cy="520.8" r="4.4"/>
<circle cx="769.2" cy="535.1" r="4.4"/>
<circle cx="823.1" cy="520.0" r="4.4"/>
<circle cx="833.4" cy="522.4" r="4.4"/>
<circle cx="875.4" cy="530.3" r="4.4"/>
<circle cx="874.6" cy="534.3" r="4.4"/>
<circle cx="845.3" cy="548.5" r="4.4"/>
<circle cx="842.1" cy="553.3" r="4.4"/>
<circle cx="845.3" cy="557.3" r="4.4"/>
<circle cx="851.6" cy="566.8" r="4.4"/>
<circle cx="866.7" cy="549.3" r="4.4"/>
<circle cx="881.8" cy="547.0" r="4.4"/>
<circle cx="886.5" cy="550.1" r="4.4"/>
<circle cx="875.4" cy="560.4" r="4.4"/>
<circle cx="897.6" cy="583.4" r="4.4"/>
<circle cx="898.4" cy="524.0" r="4.4"/>
<circle cx="805.3" cy="576.3" r="4.4"/>
<circle cx="800.9" cy="587.4" r="4.4"/>
<circle cx="816.4" cy="590.6" r="4.4"/>
<circle cx="796.9" cy="597.7" r="4.4"/>
<circle cx="795.3" cy="604.0" r="4.4"/>
<circle cx="792.9" cy="608.8" r="4.4"/>
<circle cx="789.0" cy="612.8" r="4.4"/>
<circle cx="776.3" cy="608.8" r="4.4"/>
<circle cx="774.7" cy="617.5" r="4.4"/>
<circle cx="768.4" cy="618.3" r="4.4"/>
<circle cx="762.8" cy="621.5" r="4.4"/>
<circle cx="756.5" cy="624.7" r="4.4"/>
<circle cx="750.9" cy="626.3" r="4.4"/>
<circle cx="750.1" cy="615.9" r="4.4"/>
<circle cx="731.9" cy="620.7" r="4.4"/>
<circle cx="747.0" cy="601.7" r="4.4"/>
<circle cx="759.6" cy="624.8" r="4.4"/>
<circle cx="767.6" cy="623.2" r="4.4"/>
<circle cx="991.5" cy="94.3" r="4.4"/>
<circle cx="1022.7" cy="112.2" r="4.4"/>
<circle cx="1033.3" cy="128.8" r="7.8"/>
<circle cx="1055.2" cy="167.2" r="4.4"/>
<circle cx="1037.0" cy="176.7" r="7.8"/>
<circle cx="1009.2" cy="182.8" r="11.3"/>
<circle cx="957.2" cy="172.3" r="4.4"/>
<circle cx="946.3" cy="180.2" r="4.4"/>
<circle cx="950.7" cy="193.1" r="4.4"/>
<circle cx="965.6" cy="204.5" r="7.8"/>
<circle cx="952.2" cy="207.7" r="4.4"/>
<circle cx="903.2" cy="209.7" r="4.4"/>
<circle cx="1021.6" cy="205.8" r="4.4"/>
<circle cx="1030.2" cy="215.9" r="7.8"/>
<circle cx="1001.6" cy="216.4" r="7.8"/>
<circle cx="1053.6" cy="205.3" r="4.4"/>
<circle cx="1049.4" cy="219.2" r="4.4"/>
<circle cx="1014.5" cy="230.6" r="11.3"/>
<circle cx="1025.9" cy="236.2" r="7.8"/>
<circle cx="989.4" cy="244.9" r="8.4"/>
<circle cx="1043.3" cy="236.2" r="4.4"/>
<circle cx="1036.2" cy="247.3" r="4.4"/>
<circle cx="1006.9" cy="248.1" r="7.9"/>
<circle cx="950.9" cy="238.1" r="4.4"/>
<circle cx="944.2" cy="253.2" r="4.4"/>
<circle cx="1056.0" cy="233.8" r="4.4"/>
<circle cx="1056.0" cy="242.5" r="4.4"/>
<circle cx="1055.1" cy="167.8" r="4.4"/>
<circle cx="1068.5" cy="182.8" r="7.0"/>
<circle cx="1086.0" cy="182.8" r="11.0"/>
<circle cx="1120.9" cy="187.6" r="7.8"/>
<circle cx="1066.2" cy="199.5" r="7.8"/>
<circle cx="1053.5" cy="205.0" r="4.4"/>
<circle cx="1071.7" cy="217.7" r="10.9"/>
<circle cx="1086.0" cy="225.6" r="9.9"/>
<circle cx="1093.9" cy="239.9" r="5.9"/>
<circle cx="1079.6" cy="232.0" r="9.9"/>
<circle cx="1112.2" cy="224.8" r="4.4"/>
<circle cx="1057.4" cy="232.8" r="4.4"/>
<circle cx="1056.7" cy="242.3" r="4.4"/>
<circle cx="1043.2" cy="235.9" r="4.4"/>
<circle cx="1060.6" cy="251.8" r="4.4"/>
<circle cx="1068.5" cy="251.0" r="4.9"/>
<circle cx="1076.5" cy="254.2" r="9.9"/>
<circle cx="1081.2" cy="260.5" r="5.9"/>
<circle cx="1065.4" cy="263.7" r="4.4"/>
<circle cx="1073.3" cy="265.3" r="4.4"/>
<circle cx="1098.7" cy="258.1" r="4.4"/>
<circle cx="1091.5" cy="269.2" r="4.4"/>
<circle cx="1070.1" cy="276.4" r="4.4"/>
<circle cx="1076.5" cy="277.2" r="4.4"/>
<circle cx="1086.8" cy="281.1" r="4.4"/>
<circle cx="1044.8" cy="260.5" r="4.4"/>
<circle cx="1051.1" cy="282.7" r="4.4"/>
<circle cx="1062.2" cy="289.1" r="4.4"/>
<circle cx="1095.5" cy="293.8" r="7.9"/>
<circle cx="1101.8" cy="287.5" r="4.4"/>
<circle cx="1082.0" cy="301.0" r="4.4"/>
<circle cx="1090.7" cy="310.5" r="4.4"/>
<circle cx="1063.0" cy="312.9" r="4.4"/>
<circle cx="1115.3" cy="260.5" r="4.4"/>
<circle cx="1112.2" cy="266.9" r="4.4"/>
<circle cx="1109.8" cy="273.2" r="4.4"/>
<circle cx="1128.8" cy="251.8" r="4.4"/>
<circle cx="1139.1" cy="248.2" r="4.4"/>
<circle cx="1154.2" cy="251.0" r="4.4"/>
<circle cx="1158.1" cy="258.1" r="4.4"/>
<circle cx="1157.3" cy="264.5" r="4.4"/>
<circle cx="1153.4" cy="270.8" r="4.4"/>
<circle cx="1139.9" cy="279.6" r="4.4"/>
<circle cx="1132.0" cy="289.9" r="4.4"/>
<circle cx="1135.9" cy="294.6" r="4.4"/>
<circle cx="1149.4" cy="290.6" r="4.4"/>
<circle cx="1162.1" cy="295.4" r="4.4"/>
<circle cx="1165.3" cy="292.2" r="4.4"/>
<circle cx="1129.6" cy="309.7" r="4.4"/>
<circle cx="1195.0" cy="189.5" r="17.2"/>
<circle cx="1176.5" cy="190.7" r="12.2"/>
<circle cx="1186.3" cy="206.7" r="12.2"/>
<circle cx="1159.2" cy="214.1" r="13.5"/>
<circle cx="1140.7" cy="219.1" r="14.1"/>
<circle cx="1169.0" cy="224.0" r="12.2"/>
<circle cx="1191.3" cy="246.2" r="15.9"/>
<circle cx="1187.6" cy="262.2" r="11.0"/>
<circle cx="1132.0" cy="233.9" r="5.9"/>
<circle cx="1151.8" cy="233.9" r="5.9"/>
<circle cx="1145.0" cy="228.0" r="7.9"/>
<circle cx="1176.0" cy="234.0" r="7.9"/>
<circle cx="950.6" cy="237.9" r="4.4"/>
<circle cx="944.2" cy="253.0" r="4.4"/>
<circle cx="989.1" cy="244.6" r="8.6"/>
<circle cx="976.3" cy="276.3" r="7.9"/>
<circle cx="949.8" cy="294.2" r="4.4"/>
<circle cx="952.2" cy="306.1" r="4.4"/>
<circle cx="951.8" cy="331.0" r="4.4"/>
<circle cx="933.4" cy="350.0" r="4.4"/>
<circle cx="947.9" cy="358.8" r="4.4"/>
<circle cx="908.5" cy="384.6" r="4.4"/>
<circle cx="960.9" cy="372.2" r="4.4"/>
<circle cx="968.8" cy="382.2" r="4.4"/>
<circle cx="960.9" cy="385.1" r="4.4"/>
<circle cx="993.9" cy="283.9" r="4.4"/>
<circle cx="987.8" cy="298.5" r="4.4"/>
<circle cx="987.4" cy="314.0" r="7.9"/>
<circle cx="977.2" cy="328.6" r="7.9"/>
<circle cx="973.6" cy="347.3" r="7.9"/>
<circle cx="989.4" cy="349.7" r="7.9"/>
<circle cx="987.4" cy="364.8" r="7.9"/>
<circle cx="1006.1" cy="350.5" r="4.4"/>
<circle cx="1001.8" cy="371.9" r="4.4"/>
<circle cx="1018.0" cy="339.4" r="7.9"/>
<circle cx="1021.6" cy="356.1" r="7.9"/>
<circle cx="1031.0" cy="345.4" r="4.4"/>
<circle cx="1040.2" cy="323.6" r="7.9"/>
<circle cx="1048.4" cy="331.5" r="4.4"/>
<circle cx="1018.0" cy="236.3" r="9.9"/>
<circle cx="1027.5" cy="236.3" r="7.9"/>
<circle cx="1003.7" cy="250.6" r="8.9"/>
<circle cx="997.3" cy="263.3" r="8.9"/>
<circle cx="1022.7" cy="269.6" r="8.9"/>
<circle cx="1014.8" cy="285.5" r="9.9"/>
<circle cx="1006.9" cy="296.6" r="9.9"/>
<circle cx="1010.0" cy="314.0" r="10.9"/>
<circle cx="1030.6" cy="290.3" r="7.9"/>
<circle cx="1038.6" cy="298.2" r="7.9"/>
<circle cx="1051.3" cy="283.9" r="4.9"/>
<circle cx="1052.9" cy="298.2" r="4.9"/>
<circle cx="1036.2" cy="246.7" r="4.4"/>
<circle cx="1045.7" cy="260.1" r="4.4"/>
<circle cx="1040.2" cy="269.6" r="4.4"/>
<circle cx="1043.3" cy="236.3" r="4.4"/>
<circle cx="1046.5" cy="347.3" r="4.4"/>
<circle cx="1051.3" cy="355.3" r="4.4"/>
<circle cx="1040.2" cy="363.2" r="4.4"/>
<circle cx="1054.4" cy="366.4" r="4.4"/>
<circle cx="1029.1" cy="369.5" r="4.9"/>
<circle cx="1016.4" cy="378.3" r="4.4"/>
<circle cx="1032.2" cy="380.6" r="4.4"/>
<circle cx="1040.2" cy="380.6" r="4.4"/>
<circle cx="1046.5" cy="383.8" r="4.4"/>
<circle cx="1049.7" cy="388.6" r="4.4"/>
<circle cx="1038.6" cy="388.6" r="4.4"/>
<circle cx="1006.9" cy="388.6" r="4.9"/>
<circle cx="1003.7" cy="396.5" r="4.4"/>
<circle cx="1019.5" cy="394.9" r="4.4"/>
<circle cx="1022.7" cy="398.1" r="4.4"/>
<circle cx="1038.6" cy="401.3" r="4.4"/>
<circle cx="1052.9" cy="401.3" r="4.4"/>
<circle cx="987.8" cy="399.7" r="4.4"/>
<circle cx="964.0" cy="406.0" r="4.4"/>
<circle cx="978.3" cy="407.6" r="4.4"/>
<circle cx="932.3" cy="406.8" r="4.4"/>
<circle cx="937.1" cy="408.4" r="4.4"/>
<circle cx="1011.2" cy="285.2" r="5.9"/>
<circle cx="1016.5" cy="301.0" r="5.9"/>
<circle cx="1030.0" cy="299.5" r="7.9"/>
<circle cx="1043.4" cy="295.0" r="7.9"/>
<circle cx="1044.9" cy="310.0" r="9.9"/>
<circle cx="1025.5" cy="321.9" r="5.9"/>
<circle cx="1040.4" cy="325.0" r="7.9"/>
<circle cx="1047.9" cy="330.9" r="4.9"/>
<circle cx="1067.4" cy="284.5" r="7.9"/>
<circle cx="1081.6" cy="312.2" r="5.9"/>
<circle cx="1070.4" cy="329.4" r="5.9"/>
<circle cx="1062.9" cy="350.4" r="5.9"/>
<circle cx="1046.4" cy="347.4" r="4.9"/>
<circle cx="1050.9" cy="355.6" r="4.9"/>
<circle cx="1055.4" cy="365.3" r="4.9"/>
<circle cx="1040.4" cy="363.1" r="4.9"/>
<circle cx="1029.9" cy="372.8" r="5.9"/>
<circle cx="1018.0" cy="339.9" r="7.9"/>
<circle cx="1021.0" cy="356.4" r="7.9"/>
<circle cx="1003.0" cy="350.4" r="5.9"/>
<circle cx="1002.2" cy="372.8" r="4.9"/>
<circle cx="1016.5" cy="378.0" r="4.9"/>
<circle cx="1041.9" cy="384.8" r="5.9"/>
<circle cx="1047.9" cy="371.3" r="4.9"/>
<circle cx="1026.9" cy="396.8" r="5.9"/>
<circle cx="1021.0" cy="405.8" r="7.9"/>
<circle cx="1009.0" cy="411.8" r="7.9"/>
<circle cx="1038.9" cy="408.8" r="7.9"/>
<circle cx="1049.4" cy="401.3" r="5.9"/>
<circle cx="1062.9" cy="311.4" r="4.9"/>
<circle cx="1070.4" cy="323.4" r="4.9"/>
<circle cx="1059.9" cy="323.4" r="4.9"/>
<circle cx="1080.9" cy="324.9" r="4.9"/>
<circle cx="1086.8" cy="324.9" r="4.9"/>
<circle cx="1079.4" cy="347.4" r="4.9"/>
<circle cx="1093.6" cy="345.9" r="4.9"/>
<circle cx="1085.3" cy="357.9" r="4.9"/>
<circle cx="1101.8" cy="360.8" r="4.9"/>
<circle cx="1109.3" cy="361.6" r="4.9"/>
<circle cx="1062.1" cy="359.4" r="4.9"/>
<circle cx="1081.6" cy="369.8" r="4.9"/>
<circle cx="1064.4" cy="375.8" r="4.9"/>
<circle cx="1064.4" cy="386.3" r="4.9"/>
<circle cx="1083.8" cy="383.3" r="4.9"/>
<circle cx="1086.1" cy="390.8" r="4.9"/>
<circle cx="1075.6" cy="399.8" r="4.9"/>
<circle cx="1095.8" cy="377.3" r="4.9"/>
<circle cx="1076.4" cy="414.8" r="4.9"/>
<circle cx="1092.8" cy="295.0" r="5.9"/>
<circle cx="1101.8" cy="287.5" r="4.9"/>
<circle cx="1086.8" cy="283.0" r="4.9"/>
<circle cx="1128.8" cy="308.4" r="4.9"/>
<circle cx="1134.7" cy="290.5" r="4.9"/>
<circle cx="1122.8" cy="327.9" r="7.9"/>
<circle cx="1130.3" cy="335.4" r="4.9"/>
<circle cx="1151.2" cy="345.9" r="4.9"/>
<circle cx="1139.2" cy="360.8" r="4.9"/>
<circle cx="1166.2" cy="363.8" r="4.9"/>
<circle cx="1016.3" cy="378.4" r="4.9"/>
<circle cx="986.3" cy="398.9" r="4.9"/>
<circle cx="983.2" cy="414.6" r="4.9"/>
<circle cx="995.8" cy="417.0" r="4.9"/>
<circle cx="991.8" cy="427.3" r="4.9"/>
<circle cx="986.3" cy="437.5" r="4.9"/>
<circle cx="982.4" cy="443.0" r="4.9"/>
<circle cx="1006.0" cy="387.8" r="4.9"/>
<circle cx="1002.1" cy="398.9" r="5.9"/>
<circle cx="1003.7" cy="408.3" r="6.9"/>
<circle cx="1011.5" cy="411.5" r="7.9"/>
<circle cx="1017.9" cy="417.8" r="7.9"/>
<circle cx="1022.6" cy="414.6" r="5.9"/>
<circle cx="1022.6" cy="394.1" r="4.9"/>
<circle cx="1016.3" cy="397.3" r="4.9"/>
<circle cx="1032.0" cy="402.0" r="4.9"/>
<circle cx="1039.9" cy="405.2" r="4.9"/>
<circle cx="1047.8" cy="403.6" r="4.9"/>
<circle cx="1052.6" cy="401.2" r="4.9"/>
<circle cx="1035.2" cy="411.5" r="5.9"/>
<circle cx="1027.3" cy="433.6" r="4.9"/>
<circle cx="1042.3" cy="430.4" r="4.9"/>
<circle cx="1054.1" cy="430.4" r="4.9"/>
<circle cx="1063.6" cy="432.8" r="4.9"/>
<circle cx="1054.1" cy="439.9" r="4.9"/>
<circle cx="1033.6" cy="450.9" r="4.9"/>
<circle cx="1025.7" cy="455.6" r="4.9"/>
<circle cx="1015.5" cy="456.4" r="4.9"/>
<circle cx="1021.0" cy="464.3" r="4.9"/>
<circle cx="1076.2" cy="400.4" r="4.9"/>
<circle cx="1076.2" cy="414.6" r="4.9"/>
<circle cx="1064.4" cy="376.8" r="4.9"/>
<circle cx="1064.4" cy="387.0" r="4.9"/>
<circle cx="1084.1" cy="386.2" r="5.9"/>
<circle cx="1086.0" cy="393.0" r="4.9"/>
<circle cx="1096.7" cy="376.8" r="4.9"/>
<circle cx="1062.8" cy="357.9" r="4.9"/>
<circle cx="1068.3" cy="361.8" r="4.9"/>
<circle cx="1074.6" cy="364.2" r="4.9"/>
<circle cx="1082.5" cy="370.5" r="4.9"/>
<circle cx="1052.6" cy="365.7" r="4.9"/>
<circle cx="1046.2" cy="354.7" r="4.9"/>
<circle cx="1065.2" cy="343.7" r="4.9"/>
<circle cx="1065.2" cy="337.4" r="4.9"/>
<circle cx="1079.4" cy="348.4" r="4.9"/>
<circle cx="1085.7" cy="358.6" r="4.9"/>
<circle cx="1093.6" cy="345.2" r="4.9"/>
<circle cx="1103.0" cy="360.2" r="4.9"/>
<circle cx="1109.3" cy="361.8" r="4.9"/>
<circle cx="1123.5" cy="329.5" r="7.9"/>
<circle cx="1129.0" cy="335.0" r="4.9"/>
<circle cx="1145.6" cy="327.9" r="4.9"/>
<circle cx="1148.8" cy="335.8" r="5.9"/>
<circle cx="1140.9" cy="345.2" r="4.9"/>
<circle cx="1164.5" cy="338.1" r="4.9"/>
<circle cx="1054.1" cy="323.2" r="4.9"/>
<circle cx="1068.3" cy="323.2" r="4.9"/>
<circle cx="1077.8" cy="327.9" r="4.9"/>
<circle cx="1084.9" cy="325.5" r="4.9"/>
<circle cx="1101.5" cy="322.4" r="4.9"/>
<circle cx="1030.5" cy="345.2" r="4.9"/>
<circle cx="1047.0" cy="347.6" r="4.9"/>
<circle cx="1051.8" cy="355.5" r="4.9"/>
<circle cx="871.1" cy="419.0" r="4.4"/>
<circle cx="866.8" cy="431.7" r="4.4"/>
<circle cx="847.3" cy="443.1" r="4.4"/>
<circle cx="842.2" cy="453.1" r="4.4"/>
<circle cx="854.9" cy="465.0" r="4.4"/>
<circle cx="856.5" cy="472.2" r="4.4"/>
<circle cx="849.3" cy="476.9" r="4.4"/>
<circle cx="872.8" cy="468.5" r="4.4"/>
<circle cx="829.8" cy="497.0" r="4.4"/>
<circle cx="823.2" cy="517.7" r="4.4"/>
<circle cx="833.5" cy="521.8" r="4.4"/>
<circle cx="872.3" cy="495.1" r="4.4"/>
<circle cx="874.7" cy="499.9" r="4.4"/>
<circle cx="885.0" cy="499.9" r="4.4"/>
<circle cx="871.5" cy="509.4" r="4.4"/>
<circle cx="893.7" cy="412.7" r="4.4"/>
<circle cx="899.3" cy="413.5" r="4.4"/>
<circle cx="931.0" cy="409.5" r="4.4"/>
<circle cx="940.5" cy="410.3" r="4.4"/>
<circle cx="963.5" cy="407.1" r="4.4"/>
<circle cx="962.7" cy="418.2" r="4.4"/>
<circle cx="969.1" cy="420.6" r="4.4"/>
<circle cx="973.0" cy="429.3" r="4.4"/>
<circle cx="980.2" cy="411.1" r="4.4"/>
<circle cx="985.0" cy="414.3" r="4.4"/>
<circle cx="987.3" cy="400.0" r="4.4"/>
<circle cx="995.2" cy="417.4" r="4.4"/>
<circle cx="991.3" cy="427.8" r="4.4"/>
<circle cx="986.5" cy="436.5" r="4.4"/>
<circle cx="980.2" cy="442.8" r="4.4"/>
<circle cx="974.6" cy="449.2" r="4.4"/>
<circle cx="896.1" cy="450.0" r="4.4"/>
<circle cx="892.2" cy="453.1" r="4.4"/>
<circle cx="942.9" cy="440.4" r="4.4"/>
<circle cx="940.5" cy="448.4" r="4.4"/>
<circle cx="948.4" cy="450.7" r="4.4"/>
<circle cx="959.6" cy="450.0" r="4.4"/>
<circle cx="962.7" cy="453.9" r="4.4"/>
<circle cx="957.2" cy="460.3" r="4.4"/>
<circle cx="953.2" cy="473.7" r="4.4"/>
<circle cx="958.0" cy="471.4" r="4.4"/>
<circle cx="949.2" cy="476.1" r="4.4"/>
<circle cx="912.0" cy="450.7" r="4.4"/>
<circle cx="921.5" cy="453.9" r="4.4"/>
<circle cx="931.0" cy="458.7" r="4.4"/>
<circle cx="946.9" cy="459.5" r="4.4"/>
<circle cx="905.6" cy="468.2" r="4.4"/>
<circle cx="916.7" cy="474.5" r="4.4"/>
<circle cx="929.4" cy="469.8" r="4.4"/>
<circle cx="937.3" cy="468.2" r="4.4"/>
<circle cx="937.3" cy="476.1" r="4.4"/>
<circle cx="935.8" cy="484.0" r="4.4"/>
<circle cx="927.8" cy="482.5" r="4.4"/>
<circle cx="921.5" cy="485.6" r="4.4"/>
<circle cx="915.1" cy="480.9" r="4.4"/>
<circle cx="908.8" cy="479.3" r="4.4"/>
<circle cx="898.5" cy="476.9" r="4.4"/>
<circle cx="894.5" cy="488.8" r="4.4"/>
<circle cx="902.5" cy="488.8" r="4.4"/>
<circle cx="908.8" cy="490.4" r="4.4"/>
<circle cx="918.3" cy="493.6" r="4.4"/>
<circle cx="929.4" cy="488.8" r="4.4"/>
<circle cx="912.0" cy="457.1" r="4.4"/>
<circle cx="904.0" cy="463.4" r="4.4"/>
<circle cx="923.1" cy="463.4" r="4.4"/>
<circle cx="915.1" cy="466.6" r="4.4"/>
<circle cx="908.8" cy="472.9" r="4.4"/>
<circle cx="923.1" cy="472.9" r="4.4"/>
<circle cx="931.0" cy="480.9" r="4.4"/>
<circle cx="938.1" cy="480.9" r="4.4"/>
<circle cx="896.1" cy="486.4" r="4.4"/>
<circle cx="905.6" cy="492.0" r="4.4"/>
<circle cx="933.9" cy="497.0" r="4.4"/>
<circle cx="908.8" cy="504.7" r="4.4"/>
<circle cx="931.0" cy="508.6" r="4.4"/>
<circle cx="937.3" cy="507.8" r="4.4"/>
<circle cx="945.3" cy="506.2" r="4.4"/>
<circle cx="953.2" cy="507.8" r="4.4"/>
<circle cx="961.1" cy="509.4" r="4.4"/>
<circle cx="962.7" cy="518.1" r="4.4"/>
<circle cx="965.9" cy="523.7" r="4.4"/>
<circle cx="969.1" cy="526.9" r="4.4"/>
<circle cx="982.5" cy="529.2" r="4.4"/>
<circle cx="899.3" cy="524.5" r="4.4"/>
<circle cx="911.7" cy="527.7" r="4.4"/>
<circle cx="874.7" cy="528.4" r="4.4"/>
<circle cx="875.5" cy="533.2" r="4.4"/>
<circle cx="915.1" cy="541.9" r="4.4"/>
<circle cx="921.5" cy="546.7" r="4.4"/>
<circle cx="927.0" cy="549.9" r="4.4"/>
<circle cx="970.6" cy="549.1" r="4.4"/>
<circle cx="980.2" cy="548.3" r="4.4"/>
<circle cx="844.6" cy="549.1" r="4.4"/>
<circle cx="846.2" cy="556.2" r="4.4"/>
<circle cx="851.7" cy="566.5" r="4.4"/>
<circle cx="866.8" cy="549.1" r="4.4"/>
<circle cx="880.3" cy="545.9" r="4.4"/>
<circle cx="885.0" cy="549.9" r="4.4"/>
<circle cx="876.3" cy="560.2" r="4.4"/>
<circle cx="910.4" cy="555.4" r="4.4"/>
<circle cx="919.9" cy="560.2" r="4.4"/>
<circle cx="921.5" cy="566.5" r="4.4"/>
<circle cx="914.4" cy="572.1" r="4.4"/>
<circle cx="989.7" cy="566.5" r="4.4"/>
<circle cx="989.4" cy="566.3" r="4.4"/>
<circle cx="983.9" cy="590.1" r="4.4"/>
<circle cx="991.0" cy="601.2" r="4.4"/>
<circle cx="998.9" cy="595.7" r="4.4"/>
<circle cx="1005.3" cy="598.1" r="4.4"/>
<circle cx="1015.6" cy="615.5" r="4.4"/>
<circle cx="1021.1" cy="625.0" r="4.4"/>
<circle cx="1027.5" cy="634.5" r="4.4"/>
<circle cx="1028.3" cy="641.7" r="4.4"/>
<circle cx="1037.0" cy="653.6" r="4.4"/>
<circle cx="1043.3" cy="659.1" r="4.4"/>
<circle cx="1049.7" cy="667.0" r="4.4"/>
<circle cx="1036.2" cy="679.7" r="4.4"/>
<circle cx="1043.3" cy="688.4" r="4.4"/>
<circle cx="1049.7" cy="685.3" r="4.4"/>
<circle cx="1056.0" cy="683.7" r="4.4"/>
<circle cx="1018.8" cy="701.9" r="4.4"/>
<circle cx="1059.2" cy="726.5" r="4.4"/>
<circle cx="898.2" cy="583.8" r="4.4"/>
<circle cx="914.1" cy="572.7" r="4.4"/>
<circle cx="918.1" cy="564.8" r="4.4"/>
<circle cx="921.2" cy="566.3" r="4.4"/>
<circle cx="907.8" cy="605.2" r="4.4"/>
<circle cx="928.4" cy="583.0" r="4.4"/>
<circle cx="932.3" cy="587.0" r="4.4"/>
<circle cx="936.3" cy="589.3" r="4.4"/>
<circle cx="973.6" cy="599.6" r="4.4"/>
<circle cx="960.9" cy="606.8" r="4.4"/>
<circle cx="964.8" cy="608.4" r="4.4"/>
<circle cx="977.5" cy="608.4" r="4.4"/>
<circle cx="962.5" cy="619.5" r="4.4"/>
<circle cx="967.2" cy="628.2" r="4.4"/>
<circle cx="976.7" cy="623.4" r="4.4"/>
<circle cx="981.5" cy="628.2" r="4.4"/>
<circle cx="989.4" cy="629.8" r="4.4"/>
<circle cx="958.5" cy="632.9" r="4.4"/>
<circle cx="968.0" cy="637.7" r="4.4"/>
<circle cx="979.9" cy="637.7" r="4.4"/>
<circle cx="989.4" cy="637.7" r="4.4"/>
<circle cx="995.8" cy="642.5" r="4.4"/>
<circle cx="998.1" cy="647.2" r="4.4"/>
<circle cx="1002.1" cy="633.7" r="4.4"/>
<circle cx="945.0" cy="641.7" r="4.4"/>
<circle cx="951.4" cy="642.5" r="4.4"/>
<circle cx="956.1" cy="644.0" r="4.4"/>
<circle cx="941.1" cy="649.6" r="4.4"/>
<circle cx="935.5" cy="655.1" r="4.4"/>
<circle cx="949.8" cy="654.4" r="4.4"/>
<circle cx="942.6" cy="663.9" r="4.4"/>
<circle cx="929.2" cy="666.6" r="4.4"/>
<circle cx="934.7" cy="682.9" r="4.4"/>
<circle cx="1006.9" cy="653.6" r="4.4"/>
<circle cx="1011.6" cy="660.7" r="4.4"/>
<circle cx="1018.0" cy="659.9" r="4.4"/>
<circle cx="1025.9" cy="658.3" r="4.4"/>
<circle cx="1030.6" cy="663.1" r="4.4"/>
<circle cx="991.0" cy="658.3" r="4.4"/>
<circle cx="979.1" cy="668.6" r="4.4"/>
<circle cx="978.3" cy="678.1" r="4.4"/>
<circle cx="984.7" cy="677.3" r="4.4"/>
<circle cx="995.0" cy="683.7" r="4.4"/>
<circle cx="990.2" cy="687.7" r="4.4"/>
<circle cx="972.0" cy="685.3" r="4.4"/>
<circle cx="978.3" cy="688.4" r="4.4"/>
<circle cx="967.2" cy="690.0" r="4.4"/>
<circle cx="968.8" cy="699.5" r="4.4"/>
<circle cx="959.3" cy="699.5" r="4.4"/>
<circle cx="951.4" cy="700.3" r="4.4"/>
<circle cx="949.8" cy="708.3" r="4.4"/>
<circle cx="952.9" cy="714.6" r="4.4"/>
<circle cx="934.7" cy="721.8" r="4.4"/>
<circle cx="939.5" cy="733.6" r="4.4"/>
<circle cx="885.6" cy="686.9" r="4.4"/>
<circle cx="907.8" cy="694.8" r="4.4"/>
<circle cx="919.6" cy="697.2" r="4.4"/>
<circle cx="895.9" cy="710.6" r="4.4"/>
<circle cx="900.6" cy="718.6" r="4.4"/>
<circle cx="908.5" cy="716.2" r="4.4"/>
<circle cx="914.1" cy="716.2" r="4.4"/>
<circle cx="918.9" cy="720.2" r="4.4"/>
<circle cx="919.6" cy="726.5" r="4.4"/>
<circle cx="887.1" cy="726.5" r="4.4"/>
<circle cx="900.6" cy="736.0" r="4.4"/>
<circle cx="816.7" cy="650.0" r="4.4"/>
<circle cx="812.0" cy="656.4" r="4.4"/>
<circle cx="818.3" cy="668.3" r="4.4"/>
<circle cx="828.6" cy="668.3" r="4.4"/>
<circle cx="838.1" cy="679.4" r="4.4"/>
<circle cx="845.3" cy="680.2" r="4.4"/>
<circle cx="846.1" cy="685.7" r="4.4"/>
<circle cx="834.2" cy="688.9" r="4.4"/>
<circle cx="854.8" cy="673.8" r="4.4"/>
<circle cx="860.3" cy="686.5" r="4.4"/>
<circle cx="872.2" cy="687.3" r="4.4"/>
<circle cx="878.6" cy="680.2" r="4.4"/>
<circle cx="885.7" cy="686.5" r="4.4"/>
<circle cx="876.2" cy="695.2" r="4.4"/>
<circle cx="756.5" cy="685.7" r="4.4"/>
<circle cx="761.2" cy="692.9" r="4.4"/>
<circle cx="869.1" cy="702.5" r="4.4"/>
<circle cx="874.6" cy="708.0" r="4.4"/>
<circle cx="853.2" cy="701.7" r="4.4"/>
<circle cx="826.2" cy="700.9" r="4.4"/>
<circle cx="827.8" cy="712.0" r="4.4"/>
<circle cx="820.7" cy="721.5" r="4.4"/>
<circle cx="831.0" cy="723.1" r="4.4"/>
<circle cx="856.4" cy="715.1" r="4.4"/>
<circle cx="853.2" cy="718.3" r="4.4"/>
<circle cx="846.9" cy="723.9" r="4.4"/>
<circle cx="858.0" cy="728.6" r="4.4"/>
<circle cx="896.0" cy="712.0" r="4.4"/>
<circle cx="888.1" cy="726.2" r="4.4"/>
<circle cx="898.4" cy="737.3" r="4.4"/>
<circle cx="750.9" cy="725.5" r="4.4"/>
<circle cx="788.2" cy="719.1" r="4.4"/>
<circle cx="843.7" cy="742.1" r="4.4"/>
<circle cx="846.9" cy="740.5" r="4.4"/>
<circle cx="851.6" cy="745.3" r="4.4"/>
<circle cx="842.1" cy="751.6" r="4.4"/>
<circle cx="846.9" cy="756.4" r="4.4"/>
<circle cx="854.8" cy="759.5" r="4.4"/>
<circle cx="858.0" cy="765.9" r="4.4"/>
<circle cx="859.6" cy="745.3" r="4.4"/>
<circle cx="865.9" cy="745.3" r="4.4"/>
<circle cx="870.7" cy="743.7" r="4.4"/>
<circle cx="850.0" cy="751.6" r="4.4"/>
<circle cx="829.4" cy="748.4" r="4.4"/>
<circle cx="827.0" cy="763.5" r="4.4"/>
<circle cx="865.9" cy="775.4" r="4.4"/>
<circle cx="795.8" cy="762.7" r="4.4"/>
<circle cx="811.5" cy="772.2" r="4.4"/>
<circle cx="823.1" cy="780.2" r="4.4"/>
<circle cx="827.0" cy="785.7" r="4.4"/>
<circle cx="798.8" cy="798.4" r="4.4"/>
<circle cx="870.7" cy="798.4" r="4.4"/>
<circle cx="795.5" cy="762.8" r="4.4"/>
<circle cx="811.4" cy="771.7" r="4.4"/>
<circle cx="827.2" cy="763.8" r="4.4"/>
<circle cx="822.5" cy="779.7" r="4.4"/>
<circle cx="827.2" cy="786.0" r="4.4"/>
<circle cx="798.7" cy="800.3" r="4.4"/>
<circle cx="866.9" cy="801.9" r="4.4"/>
<circle cx="870.1" cy="808.2" r="4.4"/>
<circle cx="873.2" cy="816.1" r="4.4"/>
<circle cx="868.5" cy="823.1" r="4.4"/>
<circle cx="878.0" cy="825.6" r="4.4"/>
<circle cx="882.7" cy="835.2" r="4.4"/>
<circle cx="873.2" cy="839.9" r="4.4"/>
<circle cx="878.0" cy="844.7" r="4.4"/>
<circle cx="851.0" cy="834.2" r="4.4"/>
<circle cx="791.4" cy="834.2" r="4.4"/>
<circle cx="865.9" cy="775.5" r="4.4"/>
<circle cx="913.5" cy="843.7" r="4.4"/>
<circle cx="929.4" cy="770.1" r="4.4"/>
<circle cx="958.2" cy="767.0" r="4.4"/>
<circle cx="968.4" cy="748.6" r="4.4"/>
<circle cx="931.9" cy="749.5" r="4.4"/>
<circle cx="939.8" cy="752.7" r="4.4"/>
<circle cx="949.4" cy="752.7" r="4.4"/>
<circle cx="955.7" cy="754.3" r="4.4"/>
<circle cx="971.6" cy="790.8" r="4.4"/>
<circle cx="973.8" cy="807.6" r="4.4"/>
<circle cx="981.1" cy="801.2" r="4.4"/>
<circle cx="995.4" cy="808.2" r="4.4"/>
<circle cx="1009.6" cy="815.5" r="4.4"/>
<circle cx="1019.1" cy="819.3" r="4.4"/>
<circle cx="1027.1" cy="803.4" r="4.4"/>
<circle cx="1028.7" cy="817.7" r="4.4"/>
<circle cx="1030.2" cy="828.8" r="4.4"/>
<circle cx="1022.3" cy="833.6" r="4.4"/>
<circle cx="1016.0" cy="839.9" r="4.4"/>
<circle cx="1009.6" cy="846.3" r="4.4"/>
<circle cx="1004.9" cy="852.6" r="4.4"/>
<circle cx="997.0" cy="860.5" r="4.4"/>
<circle cx="995.4" cy="871.6" r="4.4"/>
<circle cx="983.6" cy="887.5" r="4.4"/>
<circle cx="1047.1" cy="767.9" r="4.4"/>
<circle cx="1035.0" cy="795.5" r="4.4"/>
<circle cx="957.3" cy="909.7" r="4.4"/>
<circle cx="946.2" cy="911.3" r="4.4"/>
<circle cx="936.7" cy="907.2" r="4.4"/>
<circle cx="924.9" cy="908.1" r="4.4"/>
<circle cx="912.2" cy="919.9" r="4.4"/>
<circle cx="877.0" cy="910.7" r="4.4"/>
<circle cx="853.2" cy="949.4" r="4.4"/>
<circle cx="832.0" cy="957.3" r="4.4"/>
<circle cx="816.1" cy="955.1" r="4.4"/>
<circle cx="812.3" cy="974.7" r="4.4"/>
<circle cx="790.8" cy="958.9" r="4.4"/>
<circle cx="787.0" cy="958.9" r="4.4"/>
<circle cx="775.5" cy="951.9" r="4.4"/>
<circle cx="767.0" cy="955.7" r="4.4"/>
<circle cx="809.8" cy="998.5" r="4.4"/>
<circle cx="815.2" cy="904.0" r="4.4"/>
<circle cx="828.2" cy="920.8" r="4.4"/>
<circle cx="766.3" cy="880.5" r="4.4"/>
<circle cx="763.2" cy="914.5" r="4.4"/>
<circle cx="760.6" cy="924.0" r="4.4"/>
<circle cx="1062.0" cy="857.4" r="4.4"/>
<circle cx="1060.4" cy="865.3" r="4.4"/>
<circle cx="1058.2" cy="870.1" r="4.4"/>
<circle cx="1060.4" cy="893.2" r="4.4"/>
<circle cx="1059.7" cy="905.0" r="4.4"/>
<circle cx="1082.0" cy="846.3" r="4.4"/>
<circle cx="1079.4" cy="873.9" r="4.4"/>
<circle cx="863.7" cy="751.1" r="4.4"/>
<circle cx="844.7" cy="746.3" r="4.4"/>
<circle cx="671.0" cy="835.1" r="4.4"/>
<circle cx="766.2" cy="880.5" r="4.4"/>
<circle cx="763.4" cy="914.4" r="4.4"/>
<circle cx="760.9" cy="924.5" r="4.4"/>
<circle cx="766.2" cy="955.6" r="4.4"/>
<circle cx="775.7" cy="951.4" r="4.4"/>
<circle cx="791.5" cy="834.0" r="4.4"/>
<circle cx="797.9" cy="800.2" r="4.4"/>
<circle cx="1022.0" cy="826.0" r="4.4"/>
<circle cx="1026.0" cy="812.0" r="4.4"/>
<circle cx="1018.0" cy="822.0" r="4.4"/>
<circle cx="1012.0" cy="830.0" r="4.4"/>
<circle cx="1020.0" cy="835.0" r="4.4"/>
<circle cx="1025.0" cy="822.0" r="4.4"/>
<circle cx="492.7" cy="557.7" r="4.4"/>
<circle cx="416.6" cy="703.7" r="4.4"/>
<circle cx="432.4" cy="723.6" r="4.4"/>
<circle cx="437.2" cy="731.6" r="4.4"/>
<circle cx="377.6" cy="736.3" r="4.4"/>
<circle cx="383.9" cy="737.3" r="4.4"/>
<circle cx="301.4" cy="747.4" r="4.4"/>
<circle cx="384.9" cy="784.5" r="4.4"/>
<circle cx="658.5" cy="721.7" r="4.4"/>
<circle cx="670.7" cy="713.0" r="4.4"/>
<circle cx="658.5" cy="742.6" r="4.4"/>
<circle cx="670.7" cy="835.2" r="4.4"/>
<circle cx="747.6" cy="725.6" r="4.4"/>
<circle cx="756.3" cy="688.2" r="4.4"/>
<circle cx="760.2" cy="694.0" r="4.4"/>
<circle cx="787.8" cy="719.0" r="4.4"/>
<circle cx="1035.3" cy="796.7" r="4.5"/>
<circle cx="1033.2" cy="799.9" r="4.5"/>
<circle cx="1031.0" cy="803.0" r="4.5"/>
<circle cx="1028.9" cy="806.2" r="4.5"/>
<circle cx="1027.8" cy="810.4" r="4.5"/>
<circle cx="1026.8" cy="814.7" r="4.5"/>
<circle cx="1025.7" cy="818.9" r="4.5"/>
<circle cx="1026.5" cy="823.6" r="4.5"/>
<circle cx="1027.3" cy="828.4" r="4.5"/>
<circle cx="1023.3" cy="830.0" r="4.5"/>
<circle cx="1019.4" cy="831.6" r="4.5"/>
<circle cx="1016.2" cy="836.3" r="4.5"/>
<circle cx="1013.9" cy="839.5" r="4.5"/>
<circle cx="1011.5" cy="842.7" r="4.5"/>
<circle cx="1009.1" cy="846.7" r="4.5"/>
<circle cx="1006.7" cy="850.6" r="4.5"/>
<circle cx="1003.5" cy="853.8" r="4.5"/>
<circle cx="1000.4" cy="857.0" r="4.5"/>
<circle cx="998.0" cy="860.1" r="4.5"/>
<circle cx="995.6" cy="863.3" r="4.5"/>
<circle cx="994.8" cy="867.2" r="4.5"/>
<circle cx="905.8" cy="467.8" r="4.5"/>
<circle cx="911.2" cy="467.8" r="4.5"/>
<circle cx="916.8" cy="467.8" r="4.5"/>
<circle cx="922.2" cy="467.8" r="4.5"/>
<circle cx="927.8" cy="467.8" r="4.5"/>
<circle cx="933.2" cy="467.8" r="4.5"/>
<circle cx="908.5" cy="472.5" r="4.5"/>
<circle cx="914.0" cy="472.5" r="4.5"/>
<circle cx="919.5" cy="472.5" r="4.5"/>
<circle cx="925.0" cy="472.5" r="4.5"/>
<circle cx="930.5" cy="472.5" r="4.5"/>
<circle cx="936.0" cy="472.5" r="4.5"/>
<circle cx="905.8" cy="477.3" r="4.5"/>
<circle cx="911.2" cy="477.3" r="4.5"/>
<circle cx="916.8" cy="477.3" r="4.5"/>
<circle cx="922.2" cy="477.3" r="4.5"/>
<circle cx="927.8" cy="477.3" r="4.5"/>
<circle cx="933.2" cy="477.3" r="4.5"/>
<circle cx="903.0" cy="482.1" r="4.5"/>
<circle cx="908.5" cy="482.1" r="4.5"/>
<circle cx="914.0" cy="482.1" r="4.5"/>
<circle cx="919.5" cy="482.1" r="4.5"/>
<circle cx="925.0" cy="482.1" r="4.5"/>
<circle cx="930.5" cy="482.1" r="4.5"/>
<circle cx="911.2" cy="486.8" r="4.5"/>
<circle cx="916.8" cy="486.8" r="4.5"/>
<circle cx="922.2" cy="486.8" r="4.5"/>
<circle cx="927.8" cy="486.8" r="4.5"/>
<circle cx="893.0" cy="453.0" r="4.7"/>
<circle cx="899.3" cy="447.4" r="4.7"/>
<circle cx="912.0" cy="449.8" r="4.4"/>
<circle cx="908.0" cy="456.2" r="4.4"/>
<circle cx="921.5" cy="453.8" r="4.4"/>
<circle cx="914.4" cy="461.7" r="4.4"/>
<circle cx="923.9" cy="464.1" r="4.4"/>
<circle cx="931.5" cy="458.2" r="4.2"/>
<circle cx="942.6" cy="440.3" r="4.2"/>
<circle cx="939.8" cy="449.0" r="4.2"/>
<circle cx="948.5" cy="450.2" r="4.2"/>
<circle cx="946.9" cy="460.1" r="4.2"/>
<circle cx="957.2" cy="456.2" r="4.2"/>
<circle cx="957.2" cy="461.7" r="4.2"/>
<circle cx="905.7" cy="468.1" r="4.4"/>
<circle cx="898.5" cy="476.8" r="4.2"/>
<circle cx="909.7" cy="474.4" r="4.4"/>
<circle cx="919.2" cy="474.4" r="4.4"/>
<circle cx="928.7" cy="471.2" r="4.4"/>
<circle cx="936.6" cy="468.1" r="4.4"/>
<circle cx="937.4" cy="476.0" r="4.4"/>
<circle cx="931.9" cy="481.5" r="4.4"/>
<circle cx="927.1" cy="487.1" r="4.4"/>
<circle cx="917.6" cy="481.5" r="4.4"/>
<circle cx="912.8" cy="480.8" r="4.4"/>
<circle cx="893.8" cy="489.5" r="4.4"/>
<circle cx="900.1" cy="487.1" r="4.4"/>
<circle cx="903.3" cy="493.4" r="4.4"/>
<circle cx="907.3" cy="490.3" r="4.4"/>
<circle cx="918.4" cy="493.4" r="4.2"/>
<circle cx="933.4" cy="497.4" r="4.2"/>
<circle cx="908.9" cy="504.5" r="4.2"/>
<circle cx="953.3" cy="472.8" r="4.4"/>
<circle cx="957.2" cy="471.2" r="4.4"/>
<circle cx="931.9" cy="508.5" r="4.2"/>
<circle cx="939.0" cy="507.7" r="4.2"/>
<circle cx="945.3" cy="506.1" r="4.2"/>
<circle cx="953.3" cy="507.7" r="4.2"/>
<circle cx="958.8" cy="509.3" r="4.2"/>
<circle cx="873.2" cy="468.1" r="4.2"/>
<circle cx="873.2" cy="495.0" r="4.4"/>
<circle cx="885.1" cy="499.8" r="4.2"/>
<circle cx="873.2" cy="507.7" r="4.2"/>
<circle cx="1069.0" cy="705.5" r="4.4"/>
<circle cx="1064.3" cy="718.2" r="4.4"/>
<circle cx="1061.0" cy="735.6" r="4.4"/>
<circle cx="931.0" cy="744.3" r="4.4"/>
<circle cx="936.6" cy="741.5" r="4.4"/>
<circle cx="942.3" cy="744.3" r="4.4"/>
<circle cx="947.9" cy="742.9" r="4.4"/>
<circle cx="932.4" cy="752.8" r="4.4"/>
<circle cx="938.0" cy="749.9" r="4.4"/>
<circle cx="943.7" cy="752.8" r="4.4"/>
<circle cx="949.3" cy="751.4" r="4.4"/>
<circle cx="933.8" cy="758.4" r="4.4"/>
<circle cx="939.4" cy="759.8" r="4.4"/>
<circle cx="945.1" cy="758.4" r="4.4"/>
<circle cx="938.0" cy="735.9" r="4.4"/>
<circle cx="939.4" cy="733.0" r="4.4"/>
<circle cx="1003.0" cy="265.0" r="9.9"/>
<circle cx="1010.0" cy="262.0" r="8.9"/>
<circle cx="1015.0" cy="270.0" r="7.9"/>
<circle cx="718.0" cy="540.0" r="4.4"/>
</g>
<text class="serif" font-size="28.5" transform="translate(688.6,572.5) rotate(-35)" style="font-family:Liberation Serif,serif">Yellow</text>
<text class="serif" font-size="28.5" transform="translate(774,530.5) rotate(84)" style="font-family:Liberation Serif,serif">River</text>
<text class="serif" font-size="28.5" transform="translate(673.8,772.3) rotate(-34.7)" style="font-family:Liberation Serif,serif">Yangtze</text>
<text class="serif" font-size="28.5" transform="translate(766.5,708.3) rotate(-5.5)" style="font-family:Liberation Serif,serif">River</text>
<line x1="1108.6" y1="847.2" x2="1108.6" y2="879.3" stroke="#333" stroke-width="2.2"/>
<line x1="1100" y1="924.9" x2="1095" y2="934.8" stroke="#333" stroke-width="2.2"/>
<line x1="1060.5" y1="999" x2="1053.1" y2="1031.1" stroke="#333" stroke-width="2.2"/>
<line x1="1050.6" y1="1073.1" x2="1050.6" y2="1093" stroke="#333" stroke-width="2.2"/>
<path d="M1033,880 l4,-4 l3,6 l-2,8 l-4,-2z" fill="#000"/>
<rect x="1085.5" y="935.7" width="131.5" height="151" fill="#fff"/>
<polygon points="1086,937 1159,937 1152.5,939 1146.1,942.2 1136.6,943.8 1130.3,947 1125.5,950.1 1128.7,957.3 1125.5,958.9 1122.3,957.3 1120.7,951.7 1119.2,948.5 1111.2,949.3 1101.7,947.8 1098.5,943.8 1086,940.6" fill="#BED2FF" stroke="#999" stroke-width="0.8"/><polyline points="1136,943.5 1146,941.5 1152,938.5 1158,937" fill="none" stroke="#999" stroke-width="2"/>
<ellipse cx="1120.5" cy="965" rx="7.5" ry="6.5" transform="rotate(-25 1120.5 965)" fill="#BED2FF" stroke="#999" stroke-width="0.8"/>
<line x1="1196.9" y1="947.8" x2="1200.8" y2="939.8" stroke="#333" stroke-width="2"/>
<line x1="1188.1" y1="968.4" x2="1191.3" y2="959.6" stroke="#333" stroke-width="2"/>
<line x1="1187.7" y1="989" x2="1187.7" y2="979.5" stroke="#333" stroke-width="2"/>
<line x1="1188.1" y1="1015.1" x2="1191.3" y2="1006.4" stroke="#333" stroke-width="2"/>
<line x1="1169.1" y1="1042.9" x2="1174.7" y2="1035" stroke="#333" stroke-width="2"/>
<line x1="1142.6" y1="1068.3" x2="1151.7" y2="1064.8" stroke="#333" stroke-width="2"/>
<line x1="1112.8" y1="1054" x2="1113.1" y2="1044.5" stroke="#333" stroke-width="2"/>
<line x1="1125.8" y1="1019.9" x2="1127.9" y2="1010.4" stroke="#333" stroke-width="2"/>
<path d="M1117.6,985 Q1122,988 1123.1,993.7" fill="none" stroke="#333" stroke-width="2"/>
<g fill="#aaa">
<circle cx="1136" cy="983" r="0.9"/>
<circle cx="1140" cy="985" r="0.9"/>
<circle cx="1154" cy="985" r="0.9"/>
<circle cx="1158" cy="984" r="0.9"/>
<circle cx="1180" cy="986" r="0.9"/>
<circle cx="1158" cy="1018" r="0.9"/>
<circle cx="1162" cy="1022" r="0.9"/>
<circle cx="1168" cy="1024" r="0.9"/>
<circle cx="1172" cy="1028" r="0.9"/>
<circle cx="1178" cy="1018" r="0.9"/>
<circle cx="1150" cy="1030" r="0.9"/>
<circle cx="1156" cy="1034" r="0.9"/>
<circle cx="1140" cy="1038" r="0.9"/>
<circle cx="1146" cy="1040" r="0.9"/>
<circle cx="1160" cy="1038" r="0.9"/>
<circle cx="1125" cy="1042" r="0.9"/>
<circle cx="1132" cy="1041" r="0.9"/>
<circle cx="1119" cy="1045" r="0.9"/>
<circle cx="1148" cy="1054" r="0.9"/>
<circle cx="1163" cy="1000" r="0.9"/>
</g>
<rect x="1085.5" y="935.7" width="131.5" height="151" fill="none" stroke="#000" stroke-width="2.5"/>
<rect x="45" y="45.6" width="1183.2" height="1049.2" fill="none" stroke="#000" stroke-width="3"/>
<line x1="119.2" y1="35" x2="119.2" y2="45" stroke="#000" stroke-width="2"/>
<text x="119.2" y="31" font-size="23.4" text-anchor="middle">70°E</text>
<line x1="290.4" y1="35" x2="290.4" y2="45" stroke="#000" stroke-width="2"/>
<text x="290.4" y="31" font-size="23.4" text-anchor="middle">80°E</text>
<line x1="450.8" y1="35" x2="450.8" y2="45" stroke="#000" stroke-width="2"/>
<text x="450.8" y="31" font-size="23.4" text-anchor="middle">90°E</text>
<line x1="607.2" y1="35" x2="607.2" y2="45" stroke="#000" stroke-width="2"/>
<text x="607.2" y="31" font-size="23.4" text-anchor="middle">100°E</text>
<line x1="762.3" y1="35" x2="762.3" y2="45" stroke="#000" stroke-width="2"/>
<text x="762.3" y="31" font-size="23.4" text-anchor="middle">110°E</text>
<line x1="918.8" y1="35" x2="918.8" y2="45" stroke="#000" stroke-width="2"/>
<text x="918.8" y="31" font-size="23.4" text-anchor="middle">120°E</text>
<line x1="1079.8" y1="35" x2="1079.8" y2="45" stroke="#000" stroke-width="2"/>
<text x="1079.8" y="31" font-size="23.4" text-anchor="middle">130°E</text>
<line x1="290.4" y1="1095" x2="290.4" y2="1105" stroke="#000" stroke-width="2"/>
<text x="290.4" y="1126" font-size="23.4" text-anchor="middle">90°E</text>
<line x1="553.4" y1="1095" x2="553.4" y2="1105" stroke="#000" stroke-width="2"/>
<text x="553.4" y="1126" font-size="23.4" text-anchor="middle">100°E</text>
<line x1="815.2" y1="1095" x2="815.2" y2="1105" stroke="#000" stroke-width="2"/>
<text x="815.2" y="1126" font-size="23.4" text-anchor="middle">110°E</text>
<line x1="1078.5" y1="1095" x2="1078.5" y2="1105" stroke="#000" stroke-width="2"/>
<text x="1078.5" y="1126" font-size="23.4" text-anchor="middle">120°E</text>
<line x1="35" y1="84" x2="45" y2="84" stroke="#000" stroke-width="2"/>
<text transform="translate(30,84) rotate(-90)" font-size="23.4" text-anchor="middle">50°N</text>
<line x1="35" y1="365" x2="45" y2="365" stroke="#000" stroke-width="2"/>
<text transform="translate(30,365) rotate(-90)" font-size="23.4" text-anchor="middle">40°N</text>
<line x1="35" y1="644" x2="45" y2="644" stroke="#000" stroke-width="2"/>
<text transform="translate(30,644) rotate(-90)" font-size="23.4" text-anchor="middle">30°N</text>
<line x1="35" y1="916.4" x2="45" y2="916.4" stroke="#000" stroke-width="2"/>
<text transform="translate(30,916.4) rotate(-90)" font-size="23.4" text-anchor="middle">20°N</text>
<line x1="1228" y1="120" x2="1238" y2="120" stroke="#000" stroke-width="2"/>
<text transform="translate(1259.5,120) rotate(-90)" font-size="23.4" text-anchor="middle">50°N</text>
<line x1="1228" y1="396.4" x2="1238" y2="396.4" stroke="#000" stroke-width="2"/>
<text transform="translate(1259.5,396.4) rotate(-90)" font-size="23.4" text-anchor="middle">40°N</text>
<line x1="1228" y1="672.6" x2="1238" y2="672.6" stroke="#000" stroke-width="2"/>
<text transform="translate(1259.5,672.6) rotate(-90)" font-size="23.4" text-anchor="middle">30°N</text>
<line x1="1228" y1="940.1" x2="1238" y2="940.1" stroke="#000" stroke-width="2"/>
<text transform="translate(1259.5,940.1) rotate(-90)" font-size="23.4" text-anchor="middle">20°N</text>
<polygon points="46.5,719 212,719 222,727.5 231,736.5 236,741.5 243,744.5 250,751 257.5,755 267,756.8 276,758.6 293.5,762 302,763 307,766 310,779 320,782.5 324,773 330,766 344,762.5 358.5,769 370.5,775.5 376.5,782 383,794 389.5,804 404,805.5 430,805.5 430,1093 46.5,1093" fill="#fff"/>
<path d="M67,749.5 C71,738 76,727 80.5,727 C85,727 88,752 92.5,752 C97,752 101,740 105,728.5" fill="none" stroke="#1C5FD0" stroke-width="3.6" stroke-linecap="round"/>
<ellipse cx="85" cy="779.3" rx="19" ry="15.7" fill="#0B4FA8"/>
<rect x="56" y="807" width="52" height="25.2" fill="#FFFFBE"/>
<rect x="56" y="847.5" width="52" height="25.2" fill="#FFEBBE"/>
<rect x="56" y="888" width="52" height="25.2" fill="#BEE8FF"/>
<rect x="56" y="928.8" width="52" height="25.2" fill="#BED2FF"/>
<rect x="56.5" y="969.5" width="52" height="26" fill="none" stroke="#000" stroke-width="2.5"/>
<circle cx="85.6" cy="1015" r="6.9" fill="#FF0000"/>
<circle cx="85.6" cy="1034.6" r="10" fill="#FF0000"/>
<circle cx="85.6" cy="1063" r="14.5" fill="#FF0000"/>
<text x="121" y="746.5" font-size="28">Rivers</text>
<text x="121" y="788.3" font-size="28">Lakes</text>
<text x="121" y="828.6" font-size="28">Arid zone</text>
<text x="121" y="868.3" font-size="28">Semi-arid zone</text>
<text x="121" y="910.6" font-size="28">Semi-humid zone</text>
<text x="121" y="951" font-size="28">Humid zone</text>
<text x="121" y="992" font-size="28">Geographic regions</text>
<text x="121" y="1033.6" font-size="28">Area of natural wetlands</text>
<text x="121" y="1064.5" font-size="28">lost to farmland (km<tspan font-size="17" dy="-11">2</tspan><tspan dy="11">)</tspan></text>
<rect x="544" y="1026" width="214" height="52" fill="#fff"/>
<path d="M554,1060.5 V1071.7 H696.6 V1060.5 M624.6,1063.4 V1071.7" fill="none" stroke="#000" stroke-width="2"/>
<text x="553.7" y="1050.6" font-size="24" text-anchor="middle">0</text>
<text x="624" y="1050.6" font-size="24" text-anchor="middle">300</text>
<text x="695" y="1050.6" font-size="24" text-anchor="middle">600</text>
<text x="723" y="1050.6" font-size="24">km</text>
</svg></body></html>
